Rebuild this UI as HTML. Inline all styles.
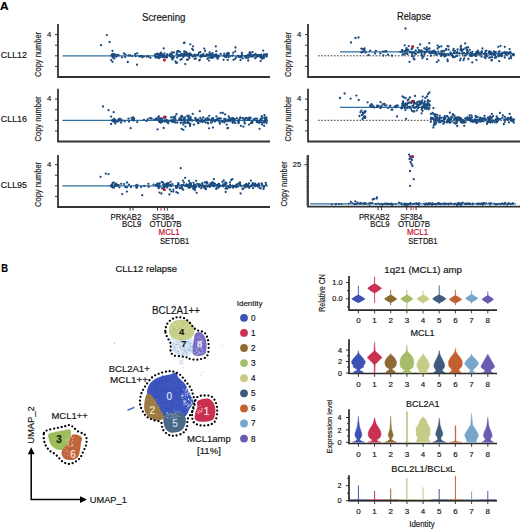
<!DOCTYPE html>
<html><head><meta charset="utf-8"><style>
html,body{margin:0;padding:0;background:#fff;overflow:hidden;}
svg{display:block;font-family:"Liberation Sans", sans-serif;}
</style></head><body>
<svg width="520" height="530" viewBox="0 0 520 530">
<rect width="520" height="530" fill="#fff"/>
<text x="0.00" y="9.60" font-size="11.2" fill="#000" text-anchor="start" stroke="#000" stroke-width="0.18" font-weight="bold" textLength="8.6" lengthAdjust="spacingAndGlyphs" >A</text>
<text x="142.00" y="20.80" font-size="10.2" fill="#141414" text-anchor="start" stroke="#141414" stroke-width="0.18" textLength="43.4" lengthAdjust="spacingAndGlyphs" >Screening</text>
<text x="397.00" y="20.40" font-size="10.2" fill="#141414" text-anchor="start" stroke="#141414" stroke-width="0.18" textLength="34" lengthAdjust="spacingAndGlyphs" >Relapse</text>
<text x="0.80" y="58.20" font-size="9.8" fill="#141414" text-anchor="start" stroke="#141414" stroke-width="0.18" textLength="26.2" lengthAdjust="spacingAndGlyphs" >CLL12</text>
<text x="0.80" y="122.30" font-size="9.8" fill="#141414" text-anchor="start" stroke="#141414" stroke-width="0.18" textLength="26.2" lengthAdjust="spacingAndGlyphs" >CLL16</text>
<text x="0.80" y="188.40" font-size="9.8" fill="#141414" text-anchor="start" stroke="#141414" stroke-width="0.18" textLength="26.2" lengthAdjust="spacingAndGlyphs" >CLL95</text>
<path d="M58 24V77H270" fill="none" stroke="#333333" stroke-width="1.8"/>
<text x="41.20" y="54.40" font-size="8.2" fill="#1a1a1a" text-anchor="middle" stroke="#1a1a1a" stroke-width="0.18" textLength="45" lengthAdjust="spacingAndGlyphs" transform="rotate(-90 41.20 54.40)" >Copy number</text>
<path d="M55 66.4H58" stroke="#333333" stroke-width="1"/>
<path d="M55 55.8H58" stroke="#333333" stroke-width="1"/>
<path d="M55 45.2H58" stroke="#333333" stroke-width="1"/>
<path d="M55 34.6H58" stroke="#333333" stroke-width="1"/>
<text x="51.30" y="36.70" font-size="7.8" fill="#1a1a1a" text-anchor="end" stroke="#1a1a1a" stroke-width="0.18" >4</text>
<path d="M308 24V77H520" fill="none" stroke="#333333" stroke-width="1.8"/>
<text x="291.20" y="54.40" font-size="8.2" fill="#1a1a1a" text-anchor="middle" stroke="#1a1a1a" stroke-width="0.18" textLength="45" lengthAdjust="spacingAndGlyphs" transform="rotate(-90 291.20 54.40)" >Copy number</text>
<path d="M305 66.4H308" stroke="#333333" stroke-width="1"/>
<path d="M305 55.8H308" stroke="#333333" stroke-width="1"/>
<path d="M305 45.2H308" stroke="#333333" stroke-width="1"/>
<path d="M305 34.6H308" stroke="#333333" stroke-width="1"/>
<text x="301.30" y="36.70" font-size="7.8" fill="#1a1a1a" text-anchor="end" stroke="#1a1a1a" stroke-width="0.18" >4</text>
<path d="M58 88.75V141.5H270" fill="none" stroke="#333333" stroke-width="1.8"/>
<text x="41.20" y="118.90" font-size="8.2" fill="#1a1a1a" text-anchor="middle" stroke="#1a1a1a" stroke-width="0.18" textLength="45" lengthAdjust="spacingAndGlyphs" transform="rotate(-90 41.20 118.90)" >Copy number</text>
<path d="M55 130.9H58" stroke="#333333" stroke-width="1"/>
<path d="M55 120.3H58" stroke="#333333" stroke-width="1"/>
<path d="M55 109.7H58" stroke="#333333" stroke-width="1"/>
<path d="M55 99.1H58" stroke="#333333" stroke-width="1"/>
<text x="51.30" y="101.20" font-size="7.8" fill="#1a1a1a" text-anchor="end" stroke="#1a1a1a" stroke-width="0.18" >4</text>
<path d="M308 88.75V141.5H520" fill="none" stroke="#333333" stroke-width="1.8"/>
<text x="291.20" y="118.90" font-size="8.2" fill="#1a1a1a" text-anchor="middle" stroke="#1a1a1a" stroke-width="0.18" textLength="45" lengthAdjust="spacingAndGlyphs" transform="rotate(-90 291.20 118.90)" >Copy number</text>
<path d="M305 130.9H308" stroke="#333333" stroke-width="1"/>
<path d="M305 120.3H308" stroke="#333333" stroke-width="1"/>
<path d="M305 109.7H308" stroke="#333333" stroke-width="1"/>
<path d="M305 99.1H308" stroke="#333333" stroke-width="1"/>
<text x="301.30" y="101.20" font-size="7.8" fill="#1a1a1a" text-anchor="end" stroke="#1a1a1a" stroke-width="0.18" >4</text>
<path d="M58 155V207H270" fill="none" stroke="#333333" stroke-width="1.8"/>
<text x="41.20" y="184.40" font-size="8.2" fill="#1a1a1a" text-anchor="middle" stroke="#1a1a1a" stroke-width="0.18" textLength="45" lengthAdjust="spacingAndGlyphs" transform="rotate(-90 41.20 184.40)" >Copy number</text>
<path d="M55 196.4H58" stroke="#333333" stroke-width="1"/>
<path d="M55 185.8H58" stroke="#333333" stroke-width="1"/>
<path d="M55 175.2H58" stroke="#333333" stroke-width="1"/>
<path d="M55 164.6H58" stroke="#333333" stroke-width="1"/>
<text x="51.30" y="166.70" font-size="7.8" fill="#1a1a1a" text-anchor="end" stroke="#1a1a1a" stroke-width="0.18" >4</text>
<path d="M308 155V206.7H520" fill="none" stroke="#333333" stroke-width="1.8"/>
<text x="287.20" y="184.10" font-size="8.2" fill="#1a1a1a" text-anchor="middle" stroke="#1a1a1a" stroke-width="0.18" textLength="45" lengthAdjust="spacingAndGlyphs" transform="rotate(-90 287.20 184.10)" >Copy number</text>
<path d="M306 205.0H308" stroke="#333333" stroke-width="0.6"/>
<path d="M306 203.3H308" stroke="#333333" stroke-width="0.6"/>
<path d="M306 201.7H308" stroke="#333333" stroke-width="0.6"/>
<path d="M306 200.0H308" stroke="#333333" stroke-width="0.6"/>
<path d="M306 198.3H308" stroke="#333333" stroke-width="0.6"/>
<path d="M306 196.6H308" stroke="#333333" stroke-width="0.6"/>
<path d="M306 194.9H308" stroke="#333333" stroke-width="0.6"/>
<path d="M306 193.3H308" stroke="#333333" stroke-width="0.6"/>
<path d="M306 191.6H308" stroke="#333333" stroke-width="0.6"/>
<path d="M306 189.9H308" stroke="#333333" stroke-width="0.6"/>
<path d="M306 188.2H308" stroke="#333333" stroke-width="0.6"/>
<path d="M306 186.5H308" stroke="#333333" stroke-width="0.6"/>
<path d="M306 184.9H308" stroke="#333333" stroke-width="0.6"/>
<path d="M306 183.2H308" stroke="#333333" stroke-width="0.6"/>
<path d="M306 181.5H308" stroke="#333333" stroke-width="0.6"/>
<path d="M306 179.8H308" stroke="#333333" stroke-width="0.6"/>
<path d="M306 178.1H308" stroke="#333333" stroke-width="0.6"/>
<path d="M306 176.5H308" stroke="#333333" stroke-width="0.6"/>
<path d="M306 174.8H308" stroke="#333333" stroke-width="0.6"/>
<path d="M306 173.1H308" stroke="#333333" stroke-width="0.6"/>
<path d="M306 171.4H308" stroke="#333333" stroke-width="0.6"/>
<path d="M306 169.7H308" stroke="#333333" stroke-width="0.6"/>
<path d="M306 168.1H308" stroke="#333333" stroke-width="0.6"/>
<path d="M306 166.4H308" stroke="#333333" stroke-width="0.6"/>
<path d="M306 164.7H308" stroke="#333333" stroke-width="0.6"/>
<path d="M306 163.0H308" stroke="#333333" stroke-width="0.6"/>
<path d="M306 161.3H308" stroke="#333333" stroke-width="0.6"/>
<path d="M306 159.7H308" stroke="#333333" stroke-width="0.6"/>
<path d="M306 158.0H308" stroke="#333333" stroke-width="0.6"/>
<path d="M306 156.3H308" stroke="#333333" stroke-width="0.6"/>
<path d="M304.5 164.7H308" stroke="#333333" stroke-width="1"/>
<text x="301.00" y="167.30" font-size="7.4" fill="#1a1a1a" text-anchor="end" stroke="#1a1a1a" stroke-width="0.18" >25</text>
<path d="M62.4 55.8H268" stroke="#2f6f9f" stroke-width="1.2"/>
<circle cx="101.1" cy="45.2" r="1.15" fill="#1b4c80"/>
<circle cx="106.8" cy="35.1" r="1.15" fill="#1b4c80"/>
<circle cx="109.6" cy="42.0" r="1.15" fill="#1b4c80"/>
<circle cx="125.6" cy="54.6" r="1.15" fill="#1b4c80"/>
<circle cx="135.1" cy="54.2" r="1.15" fill="#1b4c80"/>
<circle cx="113.6" cy="56.2" r="1.15" fill="#1b4c80"/>
<circle cx="114.1" cy="55.8" r="1.15" fill="#1b4c80"/>
<circle cx="130.1" cy="55.5" r="1.15" fill="#1b4c80"/>
<circle cx="139.2" cy="56.4" r="1.15" fill="#1b4c80"/>
<circle cx="137.0" cy="64.7" r="1.15" fill="#1b4c80"/>
<circle cx="124.0" cy="53.5" r="1.15" fill="#1b4c80"/>
<circle cx="116.3" cy="56.7" r="1.15" fill="#1b4c80"/>
<circle cx="137.2" cy="53.4" r="1.15" fill="#1b4c80"/>
<circle cx="127.8" cy="62.0" r="1.15" fill="#1b4c80"/>
<circle cx="141.6" cy="55.9" r="1.15" fill="#1b4c80"/>
<circle cx="125.1" cy="57.1" r="1.15" fill="#1b4c80"/>
<circle cx="146.7" cy="56.6" r="1.15" fill="#1b4c80"/>
<circle cx="122.0" cy="57.3" r="1.15" fill="#1b4c80"/>
<circle cx="143.8" cy="56.6" r="1.15" fill="#1b4c80"/>
<circle cx="155.1" cy="54.7" r="1.15" fill="#1b4c80"/>
<circle cx="117.8" cy="54.8" r="1.15" fill="#1b4c80"/>
<circle cx="112.8" cy="57.0" r="1.15" fill="#1b4c80"/>
<circle cx="150.4" cy="57.8" r="1.15" fill="#1b4c80"/>
<circle cx="142.3" cy="57.3" r="1.15" fill="#1b4c80"/>
<circle cx="148.8" cy="56.8" r="1.15" fill="#1b4c80"/>
<circle cx="132.3" cy="56.1" r="1.15" fill="#1b4c80"/>
<circle cx="140.1" cy="56.2" r="1.15" fill="#1b4c80"/>
<circle cx="148.0" cy="56.1" r="1.15" fill="#1b4c80"/>
<circle cx="112.0" cy="54.5" r="1.15" fill="#1b4c80"/>
<circle cx="118.6" cy="55.4" r="1.15" fill="#1b4c80"/>
<circle cx="116.8" cy="55.5" r="1.15" fill="#1b4c80"/>
<circle cx="128.6" cy="55.4" r="1.15" fill="#1b4c80"/>
<circle cx="135.7" cy="56.2" r="1.15" fill="#1b4c80"/>
<circle cx="115.0" cy="54.4" r="1.15" fill="#1b4c80"/>
<circle cx="112.8" cy="57.4" r="1.15" fill="#1b4c80"/>
<circle cx="112.5" cy="50.8" r="1.15" fill="#1b4c80"/>
<circle cx="111.3" cy="60.2" r="1.15" fill="#1b4c80"/>
<circle cx="111.5" cy="55.6" r="1.15" fill="#1b4c80"/>
<circle cx="113.2" cy="53.9" r="1.15" fill="#1b4c80"/>
<circle cx="113.7" cy="55.8" r="1.15" fill="#1b4c80"/>
<circle cx="112.8" cy="55.6" r="1.15" fill="#1b4c80"/>
<circle cx="112.5" cy="61.8" r="1.15" fill="#1b4c80"/>
<circle cx="114.3" cy="58.5" r="1.15" fill="#1b4c80"/>
<circle cx="212.7" cy="57.8" r="1.15" fill="#1b4c80"/>
<circle cx="255.7" cy="57.6" r="1.15" fill="#1b4c80"/>
<circle cx="252.9" cy="55.3" r="1.15" fill="#1b4c80"/>
<circle cx="166.6" cy="57.5" r="1.15" fill="#1b4c80"/>
<circle cx="162.0" cy="54.7" r="1.15" fill="#1b4c80"/>
<circle cx="193.1" cy="50.1" r="1.15" fill="#1b4c80"/>
<circle cx="166.4" cy="56.1" r="1.15" fill="#1b4c80"/>
<circle cx="223.8" cy="55.5" r="1.15" fill="#1b4c80"/>
<circle cx="183.3" cy="57.1" r="1.15" fill="#1b4c80"/>
<circle cx="266.2" cy="54.4" r="1.15" fill="#1b4c80"/>
<circle cx="209.2" cy="55.1" r="1.15" fill="#1b4c80"/>
<circle cx="184.7" cy="55.2" r="1.15" fill="#1b4c80"/>
<circle cx="157.6" cy="53.7" r="1.15" fill="#1b4c80"/>
<circle cx="215.8" cy="46.4" r="1.15" fill="#1b4c80"/>
<circle cx="251.7" cy="56.3" r="1.15" fill="#1b4c80"/>
<circle cx="173.7" cy="57.5" r="1.15" fill="#1b4c80"/>
<circle cx="214.7" cy="55.5" r="1.15" fill="#1b4c80"/>
<circle cx="245.9" cy="57.4" r="1.15" fill="#1b4c80"/>
<circle cx="250.5" cy="54.7" r="1.15" fill="#1b4c80"/>
<circle cx="180.4" cy="59.8" r="1.15" fill="#1b4c80"/>
<circle cx="158.2" cy="54.4" r="1.15" fill="#1b4c80"/>
<circle cx="232.6" cy="55.5" r="1.15" fill="#1b4c80"/>
<circle cx="205.1" cy="50.9" r="1.15" fill="#1b4c80"/>
<circle cx="195.8" cy="58.5" r="1.15" fill="#1b4c80"/>
<circle cx="180.4" cy="55.3" r="1.15" fill="#1b4c80"/>
<circle cx="249.1" cy="54.6" r="1.15" fill="#1b4c80"/>
<circle cx="228.1" cy="55.6" r="1.15" fill="#1b4c80"/>
<circle cx="256.9" cy="56.5" r="1.15" fill="#1b4c80"/>
<circle cx="239.0" cy="56.9" r="1.15" fill="#1b4c80"/>
<circle cx="192.2" cy="55.6" r="1.15" fill="#1b4c80"/>
<circle cx="199.3" cy="60.4" r="1.15" fill="#1b4c80"/>
<circle cx="174.0" cy="52.5" r="1.15" fill="#1b4c80"/>
<circle cx="171.9" cy="52.3" r="1.15" fill="#1b4c80"/>
<circle cx="247.6" cy="57.6" r="1.15" fill="#1b4c80"/>
<circle cx="228.6" cy="57.1" r="1.15" fill="#1b4c80"/>
<circle cx="156.6" cy="54.0" r="1.15" fill="#1b4c80"/>
<circle cx="227.8" cy="59.9" r="1.15" fill="#1b4c80"/>
<circle cx="252.6" cy="56.5" r="1.15" fill="#1b4c80"/>
<circle cx="178.6" cy="55.8" r="1.15" fill="#1b4c80"/>
<circle cx="184.0" cy="42.9" r="1.15" fill="#1b4c80"/>
<circle cx="194.6" cy="58.8" r="1.15" fill="#1b4c80"/>
<circle cx="257.8" cy="55.2" r="1.15" fill="#1b4c80"/>
<circle cx="214.6" cy="56.1" r="1.15" fill="#1b4c80"/>
<circle cx="175.5" cy="61.4" r="1.15" fill="#1b4c80"/>
<circle cx="236.2" cy="57.3" r="1.15" fill="#1b4c80"/>
<circle cx="217.2" cy="56.4" r="1.15" fill="#1b4c80"/>
<circle cx="166.9" cy="57.1" r="1.15" fill="#1b4c80"/>
<circle cx="241.5" cy="56.3" r="1.15" fill="#1b4c80"/>
<circle cx="217.9" cy="55.6" r="1.15" fill="#1b4c80"/>
<circle cx="223.6" cy="59.8" r="1.15" fill="#1b4c80"/>
<circle cx="212.4" cy="56.5" r="1.15" fill="#1b4c80"/>
<circle cx="208.5" cy="57.7" r="1.15" fill="#1b4c80"/>
<circle cx="233.3" cy="52.7" r="1.15" fill="#1b4c80"/>
<circle cx="217.7" cy="58.8" r="1.15" fill="#1b4c80"/>
<circle cx="249.1" cy="55.2" r="1.15" fill="#1b4c80"/>
<circle cx="163.1" cy="55.1" r="1.15" fill="#1b4c80"/>
<circle cx="163.2" cy="57.3" r="1.15" fill="#1b4c80"/>
<circle cx="172.3" cy="59.4" r="1.15" fill="#1b4c80"/>
<circle cx="228.9" cy="53.5" r="1.15" fill="#1b4c80"/>
<circle cx="179.6" cy="52.0" r="1.15" fill="#1b4c80"/>
<circle cx="209.6" cy="52.4" r="1.15" fill="#1b4c80"/>
<circle cx="203.3" cy="56.0" r="1.15" fill="#1b4c80"/>
<circle cx="193.0" cy="46.3" r="1.15" fill="#1b4c80"/>
<circle cx="204.3" cy="48.6" r="1.15" fill="#1b4c80"/>
<circle cx="188.1" cy="54.7" r="1.15" fill="#1b4c80"/>
<circle cx="253.2" cy="56.0" r="1.15" fill="#1b4c80"/>
<circle cx="185.5" cy="54.6" r="1.15" fill="#1b4c80"/>
<circle cx="250.2" cy="56.4" r="1.15" fill="#1b4c80"/>
<circle cx="261.0" cy="57.7" r="1.15" fill="#1b4c80"/>
<circle cx="210.4" cy="54.6" r="1.15" fill="#1b4c80"/>
<circle cx="186.3" cy="55.3" r="1.15" fill="#1b4c80"/>
<circle cx="156.9" cy="56.9" r="1.15" fill="#1b4c80"/>
<circle cx="184.2" cy="51.4" r="1.15" fill="#1b4c80"/>
<circle cx="266.4" cy="56.6" r="1.15" fill="#1b4c80"/>
<circle cx="257.5" cy="56.2" r="1.15" fill="#1b4c80"/>
<circle cx="260.1" cy="56.2" r="1.15" fill="#1b4c80"/>
<circle cx="184.3" cy="53.5" r="1.15" fill="#1b4c80"/>
<circle cx="178.1" cy="50.9" r="1.15" fill="#1b4c80"/>
<circle cx="185.3" cy="64.1" r="1.15" fill="#1b4c80"/>
<circle cx="176.2" cy="62.9" r="1.15" fill="#1b4c80"/>
<circle cx="166.9" cy="55.0" r="1.15" fill="#1b4c80"/>
<circle cx="248.5" cy="57.5" r="1.15" fill="#1b4c80"/>
<circle cx="211.7" cy="57.8" r="1.15" fill="#1b4c80"/>
<circle cx="248.2" cy="60.5" r="1.15" fill="#1b4c80"/>
<circle cx="226.2" cy="57.2" r="1.15" fill="#1b4c80"/>
<circle cx="169.5" cy="54.9" r="1.15" fill="#1b4c80"/>
<circle cx="238.0" cy="55.8" r="1.15" fill="#1b4c80"/>
<circle cx="249.2" cy="54.7" r="1.15" fill="#1b4c80"/>
<circle cx="230.1" cy="56.1" r="1.15" fill="#1b4c80"/>
<circle cx="206.5" cy="54.5" r="1.15" fill="#1b4c80"/>
<circle cx="204.9" cy="56.2" r="1.15" fill="#1b4c80"/>
<circle cx="216.3" cy="51.2" r="1.15" fill="#1b4c80"/>
<circle cx="263.2" cy="50.6" r="1.15" fill="#1b4c80"/>
<circle cx="186.2" cy="53.8" r="1.15" fill="#1b4c80"/>
<circle cx="241.9" cy="53.0" r="1.15" fill="#1b4c80"/>
<circle cx="220.7" cy="54.0" r="1.15" fill="#1b4c80"/>
<circle cx="188.6" cy="56.5" r="1.15" fill="#1b4c80"/>
<circle cx="172.4" cy="56.5" r="1.15" fill="#1b4c80"/>
<circle cx="242.8" cy="58.3" r="1.15" fill="#1b4c80"/>
<circle cx="210.3" cy="57.5" r="1.15" fill="#1b4c80"/>
<circle cx="224.3" cy="53.7" r="1.15" fill="#1b4c80"/>
<circle cx="212.5" cy="53.1" r="1.15" fill="#1b4c80"/>
<circle cx="233.5" cy="59.8" r="1.15" fill="#1b4c80"/>
<circle cx="218.7" cy="55.9" r="1.15" fill="#1b4c80"/>
<circle cx="156.8" cy="57.1" r="1.15" fill="#1b4c80"/>
<circle cx="262.1" cy="58.8" r="1.15" fill="#1b4c80"/>
<circle cx="164.5" cy="53.3" r="1.15" fill="#1b4c80"/>
<circle cx="197.2" cy="54.9" r="1.15" fill="#1b4c80"/>
<circle cx="160.7" cy="53.6" r="1.15" fill="#1b4c80"/>
<circle cx="184.5" cy="42.7" r="1.15" fill="#1b4c80"/>
<circle cx="255.6" cy="54.0" r="1.15" fill="#1b4c80"/>
<circle cx="208.1" cy="54.6" r="1.15" fill="#1b4c80"/>
<circle cx="249.8" cy="55.5" r="1.15" fill="#1b4c80"/>
<circle cx="227.8" cy="52.8" r="1.15" fill="#1b4c80"/>
<circle cx="249.7" cy="52.3" r="1.15" fill="#1b4c80"/>
<circle cx="160.2" cy="54.0" r="1.15" fill="#1b4c80"/>
<circle cx="177.2" cy="57.5" r="1.15" fill="#1b4c80"/>
<circle cx="224.6" cy="56.7" r="1.15" fill="#1b4c80"/>
<circle cx="209.0" cy="60.6" r="1.15" fill="#1b4c80"/>
<circle cx="179.4" cy="55.2" r="1.15" fill="#1b4c80"/>
<circle cx="187.0" cy="59.7" r="1.15" fill="#1b4c80"/>
<circle cx="189.9" cy="55.0" r="1.15" fill="#1b4c80"/>
<circle cx="187.4" cy="53.3" r="1.15" fill="#1b4c80"/>
<circle cx="198.3" cy="54.5" r="1.15" fill="#1b4c80"/>
<circle cx="259.2" cy="55.1" r="1.15" fill="#1b4c80"/>
<circle cx="184.3" cy="55.3" r="1.15" fill="#1b4c80"/>
<circle cx="225.7" cy="56.0" r="1.15" fill="#1b4c80"/>
<circle cx="210.8" cy="54.9" r="1.15" fill="#1b4c80"/>
<circle cx="199.1" cy="52.7" r="1.15" fill="#1b4c80"/>
<circle cx="200.4" cy="52.1" r="1.15" fill="#1b4c80"/>
<circle cx="201.6" cy="56.5" r="1.15" fill="#1b4c80"/>
<circle cx="191.3" cy="55.0" r="1.15" fill="#1b4c80"/>
<circle cx="260.3" cy="55.7" r="1.15" fill="#1b4c80"/>
<circle cx="183.4" cy="55.5" r="1.15" fill="#1b4c80"/>
<circle cx="252.4" cy="52.2" r="1.15" fill="#1b4c80"/>
<circle cx="250.7" cy="53.9" r="1.15" fill="#1b4c80"/>
<circle cx="160.8" cy="57.1" r="1.15" fill="#1b4c80"/>
<circle cx="263.8" cy="58.0" r="1.15" fill="#1b4c80"/>
<circle cx="190.3" cy="44.3" r="1.15" fill="#1b4c80"/>
<circle cx="199.8" cy="59.8" r="1.15" fill="#1b4c80"/>
<circle cx="217.1" cy="55.6" r="1.15" fill="#1b4c80"/>
<circle cx="201.0" cy="55.1" r="1.15" fill="#1b4c80"/>
<circle cx="170.5" cy="54.0" r="1.15" fill="#1b4c80"/>
<circle cx="216.6" cy="57.3" r="1.15" fill="#1b4c80"/>
<circle cx="201.5" cy="56.1" r="1.15" fill="#1b4c80"/>
<circle cx="228.1" cy="54.4" r="1.15" fill="#1b4c80"/>
<circle cx="181.7" cy="59.2" r="1.15" fill="#1b4c80"/>
<circle cx="163.4" cy="55.5" r="1.15" fill="#1b4c80"/>
<circle cx="245.9" cy="57.7" r="1.15" fill="#1b4c80"/>
<circle cx="240.0" cy="56.4" r="1.15" fill="#1b4c80"/>
<circle cx="216.4" cy="55.8" r="1.15" fill="#1b4c80"/>
<circle cx="190.8" cy="54.4" r="1.15" fill="#1b4c80"/>
<circle cx="177.6" cy="51.1" r="1.15" fill="#1b4c80"/>
<circle cx="178.5" cy="55.2" r="1.15" fill="#1b4c80"/>
<circle cx="210.8" cy="57.3" r="1.15" fill="#1b4c80"/>
<circle cx="214.3" cy="56.6" r="1.15" fill="#1b4c80"/>
<circle cx="250.0" cy="52.6" r="1.15" fill="#1b4c80"/>
<circle cx="227.3" cy="53.7" r="1.15" fill="#1b4c80"/>
<circle cx="189.9" cy="53.4" r="1.15" fill="#1b4c80"/>
<circle cx="240.5" cy="60.1" r="1.15" fill="#1b4c80"/>
<circle cx="263.4" cy="56.5" r="1.15" fill="#1b4c80"/>
<circle cx="259.0" cy="55.8" r="1.15" fill="#1b4c80"/>
<circle cx="207.4" cy="58.8" r="1.15" fill="#1b4c80"/>
<circle cx="172.0" cy="54.5" r="1.15" fill="#1b4c80"/>
<circle cx="167.2" cy="54.5" r="1.15" fill="#1b4c80"/>
<circle cx="255.2" cy="58.3" r="1.15" fill="#1b4c80"/>
<circle cx="242.0" cy="54.9" r="1.15" fill="#1b4c80"/>
<circle cx="159.2" cy="55.8" r="1.15" fill="#1b4c80"/>
<circle cx="262.8" cy="57.3" r="1.15" fill="#1b4c80"/>
<circle cx="240.6" cy="57.4" r="1.15" fill="#1b4c80"/>
<circle cx="188.6" cy="54.4" r="1.15" fill="#1b4c80"/>
<circle cx="155.1" cy="56.2" r="1.15" fill="#1b4c80"/>
<circle cx="266.6" cy="56.1" r="1.15" fill="#1b4c80"/>
<circle cx="182.1" cy="53.8" r="1.15" fill="#1b4c80"/>
<circle cx="158.3" cy="58.0" r="1.15" fill="#1b4c80"/>
<circle cx="176.7" cy="54.0" r="1.15" fill="#1b4c80"/>
<circle cx="164.1" cy="55.5" r="1.15" fill="#1b4c80"/>
<circle cx="210.2" cy="53.9" r="1.15" fill="#1b4c80"/>
<circle cx="235.5" cy="47.5" r="1.15" fill="#1b4c80"/>
<circle cx="211.5" cy="54.4" r="1.15" fill="#1b4c80"/>
<circle cx="263.6" cy="57.1" r="1.15" fill="#1b4c80"/>
<circle cx="179.8" cy="51.8" r="1.15" fill="#1b4c80"/>
<circle cx="261.6" cy="57.0" r="1.15" fill="#1b4c80"/>
<circle cx="201.7" cy="55.8" r="1.15" fill="#1b4c80"/>
<circle cx="261.3" cy="54.7" r="1.15" fill="#1b4c80"/>
<circle cx="264.1" cy="54.4" r="1.15" fill="#1b4c80"/>
<circle cx="160.8" cy="54.1" r="1.15" fill="#1b4c80"/>
<circle cx="254.0" cy="55.1" r="1.15" fill="#1b4c80"/>
<circle cx="266.7" cy="54.3" r="1.15" fill="#1b4c80"/>
<circle cx="259.8" cy="56.5" r="1.15" fill="#1b4c80"/>
<circle cx="158.6" cy="56.7" r="1.15" fill="#1b4c80"/>
<circle cx="192.2" cy="48.9" r="1.15" fill="#1b4c80"/>
<circle cx="194.4" cy="54.6" r="1.15" fill="#1b4c80"/>
<circle cx="194.9" cy="56.1" r="1.15" fill="#1b4c80"/>
<circle cx="203.4" cy="53.9" r="1.15" fill="#1b4c80"/>
<circle cx="258.0" cy="55.2" r="1.15" fill="#1b4c80"/>
<circle cx="195.8" cy="55.3" r="1.15" fill="#1b4c80"/>
<circle cx="245.9" cy="56.1" r="1.15" fill="#1b4c80"/>
<circle cx="159.6" cy="55.2" r="1.15" fill="#1b4c80"/>
<circle cx="183.8" cy="55.6" r="1.15" fill="#1b4c80"/>
<circle cx="193.0" cy="56.6" r="1.15" fill="#1b4c80"/>
<circle cx="235.3" cy="51.3" r="1.15" fill="#1b4c80"/>
<circle cx="185.9" cy="51.9" r="1.15" fill="#1b4c80"/>
<circle cx="260.6" cy="61.1" r="1.15" fill="#1b4c80"/>
<circle cx="235.1" cy="58.8" r="1.15" fill="#1b4c80"/>
<circle cx="257.3" cy="55.1" r="1.15" fill="#1b4c80"/>
<circle cx="169.9" cy="56.0" r="1.15" fill="#1b4c80"/>
<circle cx="189.0" cy="55.8" r="1.15" fill="#1b4c80"/>
<circle cx="181.4" cy="54.1" r="1.15" fill="#1b4c80"/>
<circle cx="212.3" cy="57.3" r="1.15" fill="#1b4c80"/>
<circle cx="172.9" cy="58.6" r="1.15" fill="#1b4c80"/>
<circle cx="216.0" cy="54.4" r="1.15" fill="#1b4c80"/>
<circle cx="202.8" cy="55.2" r="1.15" fill="#1b4c80"/>
<circle cx="178.3" cy="55.2" r="1.15" fill="#1b4c80"/>
<circle cx="263.9" cy="55.4" r="1.15" fill="#1b4c80"/>
<circle cx="254.8" cy="54.9" r="1.15" fill="#1b4c80"/>
<circle cx="215.3" cy="55.3" r="1.15" fill="#1b4c80"/>
<circle cx="187.9" cy="59.7" r="1.15" fill="#1b4c80"/>
<circle cx="183.5" cy="56.0" r="1.15" fill="#1b4c80"/>
<circle cx="186.5" cy="53.3" r="1.15" fill="#1b4c80"/>
<circle cx="162.3" cy="55.8" r="1.15" fill="#1b4c80"/>
<circle cx="227.8" cy="54.4" r="1.15" fill="#1b4c80"/>
<circle cx="207.0" cy="55.6" r="1.15" fill="#1b4c80"/>
<circle cx="180.9" cy="55.7" r="1.15" fill="#1b4c80"/>
<circle cx="253.2" cy="55.7" r="1.15" fill="#1b4c80"/>
<circle cx="247.7" cy="55.2" r="1.15" fill="#1b4c80"/>
<circle cx="163.4" cy="56.9" r="1.15" fill="#1b4c80"/>
<circle cx="241.8" cy="55.9" r="1.15" fill="#1b4c80"/>
<circle cx="155.7" cy="57.6" r="1.15" fill="#1b4c80"/>
<circle cx="159.2" cy="58.0" r="1.15" fill="#1b4c80"/>
<circle cx="159.9" cy="55.3" r="1.15" fill="#1b4c80"/>
<circle cx="257.4" cy="55.8" r="1.15" fill="#1b4c80"/>
<circle cx="246.7" cy="57.3" r="1.15" fill="#1b4c80"/>
<circle cx="163.7" cy="48.4" r="1.15" fill="#1b4c80"/>
<circle cx="162.1" cy="54.3" r="1.15" fill="#1b4c80"/>
<circle cx="226.6" cy="54.7" r="1.15" fill="#1b4c80"/>
<circle cx="173.3" cy="56.6" r="1.15" fill="#1b4c80"/>
<circle cx="189.5" cy="58.1" r="1.15" fill="#1b4c80"/>
<circle cx="218.5" cy="57.0" r="1.15" fill="#1b4c80"/>
<circle cx="266.6" cy="54.3" r="1.15" fill="#1b4c80"/>
<circle cx="177.1" cy="62.6" r="1.15" fill="#1b4c80"/>
<circle cx="200.5" cy="57.0" r="1.15" fill="#1b4c80"/>
<circle cx="206.6" cy="55.6" r="1.15" fill="#1b4c80"/>
<circle cx="226.8" cy="55.5" r="1.15" fill="#1b4c80"/>
<circle cx="165.0" cy="57.0" r="1.15" fill="#1b4c80"/>
<circle cx="171.3" cy="57.4" r="1.15" fill="#1b4c80"/>
<circle cx="213.4" cy="55.0" r="1.15" fill="#1b4c80"/>
<circle cx="245.1" cy="56.2" r="1.15" fill="#1b4c80"/>
<circle cx="177.1" cy="51.9" r="1.15" fill="#1b4c80"/>
<circle cx="161.0" cy="52.7" r="1.15" fill="#1b4c80"/>
<circle cx="164.4" cy="60.0" r="1.5" fill="#c8102e"/>
<path d="M62.4 120.3H268" stroke="#2f6f9f" stroke-width="1.2"/>
<circle cx="103.0" cy="106.5" r="1.15" fill="#1b4c80"/>
<circle cx="108.5" cy="110.2" r="1.15" fill="#1b4c80"/>
<circle cx="128.5" cy="118.7" r="1.15" fill="#1b4c80"/>
<circle cx="118.2" cy="121.4" r="1.15" fill="#1b4c80"/>
<circle cx="121.0" cy="122.5" r="1.15" fill="#1b4c80"/>
<circle cx="119.2" cy="118.8" r="1.15" fill="#1b4c80"/>
<circle cx="129.0" cy="121.6" r="1.15" fill="#1b4c80"/>
<circle cx="122.1" cy="120.5" r="1.15" fill="#1b4c80"/>
<circle cx="151.4" cy="118.6" r="1.15" fill="#1b4c80"/>
<circle cx="112.7" cy="119.8" r="1.15" fill="#1b4c80"/>
<circle cx="116.3" cy="121.7" r="1.15" fill="#1b4c80"/>
<circle cx="124.8" cy="121.3" r="1.15" fill="#1b4c80"/>
<circle cx="137.2" cy="122.1" r="1.15" fill="#1b4c80"/>
<circle cx="130.7" cy="128.2" r="1.15" fill="#1b4c80"/>
<circle cx="133.0" cy="120.1" r="1.15" fill="#1b4c80"/>
<circle cx="131.6" cy="118.0" r="1.15" fill="#1b4c80"/>
<circle cx="132.3" cy="119.7" r="1.15" fill="#1b4c80"/>
<circle cx="115.1" cy="119.8" r="1.15" fill="#1b4c80"/>
<circle cx="134.0" cy="118.4" r="1.15" fill="#1b4c80"/>
<circle cx="144.0" cy="119.8" r="1.15" fill="#1b4c80"/>
<circle cx="134.0" cy="118.8" r="1.15" fill="#1b4c80"/>
<circle cx="153.8" cy="119.8" r="1.15" fill="#1b4c80"/>
<circle cx="149.6" cy="118.1" r="1.15" fill="#1b4c80"/>
<circle cx="119.7" cy="120.4" r="1.15" fill="#1b4c80"/>
<circle cx="133.1" cy="117.3" r="1.15" fill="#1b4c80"/>
<circle cx="146.5" cy="121.1" r="1.15" fill="#1b4c80"/>
<circle cx="113.9" cy="121.7" r="1.15" fill="#1b4c80"/>
<circle cx="151.3" cy="118.4" r="1.15" fill="#1b4c80"/>
<circle cx="147.7" cy="119.3" r="1.15" fill="#1b4c80"/>
<circle cx="120.4" cy="119.0" r="1.15" fill="#1b4c80"/>
<circle cx="133.8" cy="120.5" r="1.15" fill="#1b4c80"/>
<circle cx="118.3" cy="120.0" r="1.15" fill="#1b4c80"/>
<circle cx="114.2" cy="119.0" r="1.15" fill="#1b4c80"/>
<circle cx="114.8" cy="121.3" r="1.15" fill="#1b4c80"/>
<circle cx="111.1" cy="124.0" r="1.15" fill="#1b4c80"/>
<circle cx="112.5" cy="121.0" r="1.15" fill="#1b4c80"/>
<circle cx="115.3" cy="123.6" r="1.15" fill="#1b4c80"/>
<circle cx="115.4" cy="121.5" r="1.15" fill="#1b4c80"/>
<circle cx="111.1" cy="116.6" r="1.15" fill="#1b4c80"/>
<circle cx="112.7" cy="120.5" r="1.15" fill="#1b4c80"/>
<circle cx="114.9" cy="121.0" r="1.15" fill="#1b4c80"/>
<circle cx="113.7" cy="112.2" r="1.15" fill="#1b4c80"/>
<circle cx="195.3" cy="120.1" r="1.15" fill="#1b4c80"/>
<circle cx="160.4" cy="122.2" r="1.15" fill="#1b4c80"/>
<circle cx="183.4" cy="124.6" r="1.15" fill="#1b4c80"/>
<circle cx="190.0" cy="126.1" r="1.15" fill="#1b4c80"/>
<circle cx="225.1" cy="114.4" r="1.15" fill="#1b4c80"/>
<circle cx="228.1" cy="127.8" r="1.15" fill="#1b4c80"/>
<circle cx="189.0" cy="123.2" r="1.15" fill="#1b4c80"/>
<circle cx="170.0" cy="120.6" r="1.15" fill="#1b4c80"/>
<circle cx="247.8" cy="120.1" r="1.15" fill="#1b4c80"/>
<circle cx="234.2" cy="120.0" r="1.15" fill="#1b4c80"/>
<circle cx="162.1" cy="118.7" r="1.15" fill="#1b4c80"/>
<circle cx="245.9" cy="118.2" r="1.15" fill="#1b4c80"/>
<circle cx="161.3" cy="118.7" r="1.15" fill="#1b4c80"/>
<circle cx="219.8" cy="123.7" r="1.15" fill="#1b4c80"/>
<circle cx="213.0" cy="127.6" r="1.15" fill="#1b4c80"/>
<circle cx="200.5" cy="120.3" r="1.15" fill="#1b4c80"/>
<circle cx="161.5" cy="120.2" r="1.15" fill="#1b4c80"/>
<circle cx="260.4" cy="120.6" r="1.15" fill="#1b4c80"/>
<circle cx="177.3" cy="122.5" r="1.15" fill="#1b4c80"/>
<circle cx="174.6" cy="122.0" r="1.15" fill="#1b4c80"/>
<circle cx="188.6" cy="115.6" r="1.15" fill="#1b4c80"/>
<circle cx="155.7" cy="119.2" r="1.15" fill="#1b4c80"/>
<circle cx="238.5" cy="123.2" r="1.15" fill="#1b4c80"/>
<circle cx="180.3" cy="119.5" r="1.15" fill="#1b4c80"/>
<circle cx="159.3" cy="121.8" r="1.15" fill="#1b4c80"/>
<circle cx="249.7" cy="117.7" r="1.15" fill="#1b4c80"/>
<circle cx="184.8" cy="122.7" r="1.15" fill="#1b4c80"/>
<circle cx="184.7" cy="121.1" r="1.15" fill="#1b4c80"/>
<circle cx="179.3" cy="120.0" r="1.15" fill="#1b4c80"/>
<circle cx="238.3" cy="120.5" r="1.15" fill="#1b4c80"/>
<circle cx="238.6" cy="122.0" r="1.15" fill="#1b4c80"/>
<circle cx="181.8" cy="116.0" r="1.15" fill="#1b4c80"/>
<circle cx="232.6" cy="122.8" r="1.15" fill="#1b4c80"/>
<circle cx="249.0" cy="124.6" r="1.15" fill="#1b4c80"/>
<circle cx="251.0" cy="123.0" r="1.15" fill="#1b4c80"/>
<circle cx="189.5" cy="118.9" r="1.15" fill="#1b4c80"/>
<circle cx="163.7" cy="128.0" r="1.15" fill="#1b4c80"/>
<circle cx="173.1" cy="121.0" r="1.15" fill="#1b4c80"/>
<circle cx="233.5" cy="119.3" r="1.15" fill="#1b4c80"/>
<circle cx="159.8" cy="120.1" r="1.15" fill="#1b4c80"/>
<circle cx="160.2" cy="118.4" r="1.15" fill="#1b4c80"/>
<circle cx="261.9" cy="122.7" r="1.15" fill="#1b4c80"/>
<circle cx="229.4" cy="118.1" r="1.15" fill="#1b4c80"/>
<circle cx="198.0" cy="123.0" r="1.15" fill="#1b4c80"/>
<circle cx="158.8" cy="116.5" r="1.15" fill="#1b4c80"/>
<circle cx="164.8" cy="121.5" r="1.15" fill="#1b4c80"/>
<circle cx="225.8" cy="121.3" r="1.15" fill="#1b4c80"/>
<circle cx="227.4" cy="120.2" r="1.15" fill="#1b4c80"/>
<circle cx="192.7" cy="113.9" r="1.15" fill="#1b4c80"/>
<circle cx="257.0" cy="118.6" r="1.15" fill="#1b4c80"/>
<circle cx="222.4" cy="121.8" r="1.15" fill="#1b4c80"/>
<circle cx="243.4" cy="126.7" r="1.15" fill="#1b4c80"/>
<circle cx="233.9" cy="121.5" r="1.15" fill="#1b4c80"/>
<circle cx="165.2" cy="120.6" r="1.15" fill="#1b4c80"/>
<circle cx="174.1" cy="118.7" r="1.15" fill="#1b4c80"/>
<circle cx="264.5" cy="115.1" r="1.15" fill="#1b4c80"/>
<circle cx="232.9" cy="118.2" r="1.15" fill="#1b4c80"/>
<circle cx="262.2" cy="124.5" r="1.15" fill="#1b4c80"/>
<circle cx="219.7" cy="118.5" r="1.15" fill="#1b4c80"/>
<circle cx="180.9" cy="116.7" r="1.15" fill="#1b4c80"/>
<circle cx="240.9" cy="125.8" r="1.15" fill="#1b4c80"/>
<circle cx="166.7" cy="120.0" r="1.15" fill="#1b4c80"/>
<circle cx="165.7" cy="116.9" r="1.15" fill="#1b4c80"/>
<circle cx="202.3" cy="122.0" r="1.15" fill="#1b4c80"/>
<circle cx="196.7" cy="121.1" r="1.15" fill="#1b4c80"/>
<circle cx="265.0" cy="118.5" r="1.15" fill="#1b4c80"/>
<circle cx="260.7" cy="118.6" r="1.15" fill="#1b4c80"/>
<circle cx="222.8" cy="113.0" r="1.15" fill="#1b4c80"/>
<circle cx="252.2" cy="122.5" r="1.15" fill="#1b4c80"/>
<circle cx="206.9" cy="119.6" r="1.15" fill="#1b4c80"/>
<circle cx="183.8" cy="120.0" r="1.15" fill="#1b4c80"/>
<circle cx="211.9" cy="118.7" r="1.15" fill="#1b4c80"/>
<circle cx="239.5" cy="119.1" r="1.15" fill="#1b4c80"/>
<circle cx="264.2" cy="122.5" r="1.15" fill="#1b4c80"/>
<circle cx="222.5" cy="121.1" r="1.15" fill="#1b4c80"/>
<circle cx="184.0" cy="118.9" r="1.15" fill="#1b4c80"/>
<circle cx="173.4" cy="121.1" r="1.15" fill="#1b4c80"/>
<circle cx="171.6" cy="121.6" r="1.15" fill="#1b4c80"/>
<circle cx="188.3" cy="120.5" r="1.15" fill="#1b4c80"/>
<circle cx="254.1" cy="119.4" r="1.15" fill="#1b4c80"/>
<circle cx="156.4" cy="119.1" r="1.15" fill="#1b4c80"/>
<circle cx="264.9" cy="121.8" r="1.15" fill="#1b4c80"/>
<circle cx="157.5" cy="129.4" r="1.15" fill="#1b4c80"/>
<circle cx="203.2" cy="117.4" r="1.15" fill="#1b4c80"/>
<circle cx="238.9" cy="121.4" r="1.15" fill="#1b4c80"/>
<circle cx="253.6" cy="119.7" r="1.15" fill="#1b4c80"/>
<circle cx="233.4" cy="118.7" r="1.15" fill="#1b4c80"/>
<circle cx="205.8" cy="122.5" r="1.15" fill="#1b4c80"/>
<circle cx="225.4" cy="118.8" r="1.15" fill="#1b4c80"/>
<circle cx="234.9" cy="119.2" r="1.15" fill="#1b4c80"/>
<circle cx="183.0" cy="122.6" r="1.15" fill="#1b4c80"/>
<circle cx="230.6" cy="119.4" r="1.15" fill="#1b4c80"/>
<circle cx="175.5" cy="122.6" r="1.15" fill="#1b4c80"/>
<circle cx="264.2" cy="125.8" r="1.15" fill="#1b4c80"/>
<circle cx="242.6" cy="118.3" r="1.15" fill="#1b4c80"/>
<circle cx="219.4" cy="121.1" r="1.15" fill="#1b4c80"/>
<circle cx="235.3" cy="122.9" r="1.15" fill="#1b4c80"/>
<circle cx="213.4" cy="120.5" r="1.15" fill="#1b4c80"/>
<circle cx="261.2" cy="119.6" r="1.15" fill="#1b4c80"/>
<circle cx="240.4" cy="117.6" r="1.15" fill="#1b4c80"/>
<circle cx="265.3" cy="120.7" r="1.15" fill="#1b4c80"/>
<circle cx="199.8" cy="111.2" r="1.15" fill="#1b4c80"/>
<circle cx="230.6" cy="121.1" r="1.15" fill="#1b4c80"/>
<circle cx="199.9" cy="120.8" r="1.15" fill="#1b4c80"/>
<circle cx="266.4" cy="118.4" r="1.15" fill="#1b4c80"/>
<circle cx="259.1" cy="120.8" r="1.15" fill="#1b4c80"/>
<circle cx="244.4" cy="119.4" r="1.15" fill="#1b4c80"/>
<circle cx="246.2" cy="117.9" r="1.15" fill="#1b4c80"/>
<circle cx="229.6" cy="118.7" r="1.15" fill="#1b4c80"/>
<circle cx="266.6" cy="123.1" r="1.15" fill="#1b4c80"/>
<circle cx="227.8" cy="119.9" r="1.15" fill="#1b4c80"/>
<circle cx="180.8" cy="122.9" r="1.15" fill="#1b4c80"/>
<circle cx="265.1" cy="121.2" r="1.15" fill="#1b4c80"/>
<circle cx="244.5" cy="122.2" r="1.15" fill="#1b4c80"/>
<circle cx="228.3" cy="121.2" r="1.15" fill="#1b4c80"/>
<circle cx="164.6" cy="118.4" r="1.15" fill="#1b4c80"/>
<circle cx="172.1" cy="121.1" r="1.15" fill="#1b4c80"/>
<circle cx="218.2" cy="118.6" r="1.15" fill="#1b4c80"/>
<circle cx="260.6" cy="121.9" r="1.15" fill="#1b4c80"/>
<circle cx="228.6" cy="120.6" r="1.15" fill="#1b4c80"/>
<circle cx="163.1" cy="121.0" r="1.15" fill="#1b4c80"/>
<circle cx="250.7" cy="117.9" r="1.15" fill="#1b4c80"/>
<circle cx="205.6" cy="120.0" r="1.15" fill="#1b4c80"/>
<circle cx="214.9" cy="121.5" r="1.15" fill="#1b4c80"/>
<circle cx="232.1" cy="119.5" r="1.15" fill="#1b4c80"/>
<circle cx="216.4" cy="120.4" r="1.15" fill="#1b4c80"/>
<circle cx="188.3" cy="121.9" r="1.15" fill="#1b4c80"/>
<circle cx="230.2" cy="120.3" r="1.15" fill="#1b4c80"/>
<circle cx="168.3" cy="123.2" r="1.15" fill="#1b4c80"/>
<circle cx="217.4" cy="118.7" r="1.15" fill="#1b4c80"/>
<circle cx="256.4" cy="120.7" r="1.15" fill="#1b4c80"/>
<circle cx="222.2" cy="121.6" r="1.15" fill="#1b4c80"/>
<circle cx="173.0" cy="121.8" r="1.15" fill="#1b4c80"/>
<circle cx="188.2" cy="117.1" r="1.15" fill="#1b4c80"/>
<circle cx="267.0" cy="120.8" r="1.15" fill="#1b4c80"/>
<circle cx="227.4" cy="128.3" r="1.15" fill="#1b4c80"/>
<circle cx="259.3" cy="122.8" r="1.15" fill="#1b4c80"/>
<circle cx="209.3" cy="115.8" r="1.15" fill="#1b4c80"/>
<circle cx="158.8" cy="120.8" r="1.15" fill="#1b4c80"/>
<circle cx="251.5" cy="122.8" r="1.15" fill="#1b4c80"/>
<circle cx="208.1" cy="123.4" r="1.15" fill="#1b4c80"/>
<circle cx="203.7" cy="120.8" r="1.15" fill="#1b4c80"/>
<circle cx="217.1" cy="119.6" r="1.15" fill="#1b4c80"/>
<circle cx="200.2" cy="121.6" r="1.15" fill="#1b4c80"/>
<circle cx="185.4" cy="126.6" r="1.15" fill="#1b4c80"/>
<circle cx="192.1" cy="120.6" r="1.15" fill="#1b4c80"/>
<circle cx="220.7" cy="112.9" r="1.15" fill="#1b4c80"/>
<circle cx="160.6" cy="122.7" r="1.15" fill="#1b4c80"/>
<circle cx="155.7" cy="118.8" r="1.15" fill="#1b4c80"/>
<circle cx="228.7" cy="116.5" r="1.15" fill="#1b4c80"/>
<circle cx="256.9" cy="122.2" r="1.15" fill="#1b4c80"/>
<circle cx="233.0" cy="121.9" r="1.15" fill="#1b4c80"/>
<circle cx="231.3" cy="119.7" r="1.15" fill="#1b4c80"/>
<circle cx="240.4" cy="117.7" r="1.15" fill="#1b4c80"/>
<circle cx="175.3" cy="116.4" r="1.15" fill="#1b4c80"/>
<circle cx="196.3" cy="119.4" r="1.15" fill="#1b4c80"/>
<circle cx="218.0" cy="120.4" r="1.15" fill="#1b4c80"/>
<circle cx="190.7" cy="118.3" r="1.15" fill="#1b4c80"/>
<circle cx="259.6" cy="128.8" r="1.15" fill="#1b4c80"/>
<circle cx="202.2" cy="119.5" r="1.15" fill="#1b4c80"/>
<circle cx="200.3" cy="117.8" r="1.15" fill="#1b4c80"/>
<circle cx="266.2" cy="119.2" r="1.15" fill="#1b4c80"/>
<circle cx="172.4" cy="119.9" r="1.15" fill="#1b4c80"/>
<circle cx="207.9" cy="122.6" r="1.15" fill="#1b4c80"/>
<circle cx="225.2" cy="120.5" r="1.15" fill="#1b4c80"/>
<circle cx="265.5" cy="120.2" r="1.15" fill="#1b4c80"/>
<circle cx="179.4" cy="118.4" r="1.15" fill="#1b4c80"/>
<circle cx="205.5" cy="118.9" r="1.15" fill="#1b4c80"/>
<circle cx="258.4" cy="122.3" r="1.15" fill="#1b4c80"/>
<circle cx="171.2" cy="117.4" r="1.15" fill="#1b4c80"/>
<circle cx="187.8" cy="122.9" r="1.15" fill="#1b4c80"/>
<circle cx="257.3" cy="121.0" r="1.15" fill="#1b4c80"/>
<circle cx="158.6" cy="116.8" r="1.15" fill="#1b4c80"/>
<circle cx="224.2" cy="118.9" r="1.15" fill="#1b4c80"/>
<circle cx="190.0" cy="125.0" r="1.15" fill="#1b4c80"/>
<circle cx="190.4" cy="123.8" r="1.15" fill="#1b4c80"/>
<circle cx="207.6" cy="117.9" r="1.15" fill="#1b4c80"/>
<circle cx="261.8" cy="116.2" r="1.15" fill="#1b4c80"/>
<circle cx="244.8" cy="123.4" r="1.15" fill="#1b4c80"/>
<circle cx="185.5" cy="119.7" r="1.15" fill="#1b4c80"/>
<circle cx="186.3" cy="122.7" r="1.15" fill="#1b4c80"/>
<circle cx="252.4" cy="122.1" r="1.15" fill="#1b4c80"/>
<circle cx="156.7" cy="118.3" r="1.15" fill="#1b4c80"/>
<circle cx="264.4" cy="117.5" r="1.15" fill="#1b4c80"/>
<circle cx="198.4" cy="123.2" r="1.15" fill="#1b4c80"/>
<circle cx="232.1" cy="118.1" r="1.15" fill="#1b4c80"/>
<circle cx="185.0" cy="117.4" r="1.15" fill="#1b4c80"/>
<circle cx="187.3" cy="115.9" r="1.15" fill="#1b4c80"/>
<circle cx="266.2" cy="117.3" r="1.15" fill="#1b4c80"/>
<circle cx="216.4" cy="116.4" r="1.15" fill="#1b4c80"/>
<circle cx="211.0" cy="122.5" r="1.15" fill="#1b4c80"/>
<circle cx="197.8" cy="120.9" r="1.15" fill="#1b4c80"/>
<circle cx="265.0" cy="120.5" r="1.15" fill="#1b4c80"/>
<circle cx="234.3" cy="119.7" r="1.15" fill="#1b4c80"/>
<circle cx="220.7" cy="118.5" r="1.15" fill="#1b4c80"/>
<circle cx="215.0" cy="120.2" r="1.15" fill="#1b4c80"/>
<circle cx="162.0" cy="122.1" r="1.15" fill="#1b4c80"/>
<circle cx="248.3" cy="119.0" r="1.15" fill="#1b4c80"/>
<circle cx="211.7" cy="119.9" r="1.15" fill="#1b4c80"/>
<circle cx="245.3" cy="119.1" r="1.15" fill="#1b4c80"/>
<circle cx="219.7" cy="122.3" r="1.15" fill="#1b4c80"/>
<circle cx="182.6" cy="117.2" r="1.15" fill="#1b4c80"/>
<circle cx="252.0" cy="121.7" r="1.15" fill="#1b4c80"/>
<circle cx="190.4" cy="117.0" r="1.15" fill="#1b4c80"/>
<circle cx="265.9" cy="118.9" r="1.15" fill="#1b4c80"/>
<circle cx="184.3" cy="122.3" r="1.15" fill="#1b4c80"/>
<circle cx="261.0" cy="119.9" r="1.15" fill="#1b4c80"/>
<circle cx="183.4" cy="129.8" r="1.15" fill="#1b4c80"/>
<circle cx="158.1" cy="118.6" r="1.15" fill="#1b4c80"/>
<circle cx="209.5" cy="119.9" r="1.15" fill="#1b4c80"/>
<circle cx="255.2" cy="118.6" r="1.15" fill="#1b4c80"/>
<circle cx="234.1" cy="122.3" r="1.15" fill="#1b4c80"/>
<circle cx="190.7" cy="120.2" r="1.15" fill="#1b4c80"/>
<circle cx="175.5" cy="119.3" r="1.15" fill="#1b4c80"/>
<circle cx="181.3" cy="120.6" r="1.15" fill="#1b4c80"/>
<circle cx="161.6" cy="121.4" r="1.15" fill="#1b4c80"/>
<circle cx="158.1" cy="119.1" r="1.15" fill="#1b4c80"/>
<circle cx="237.8" cy="121.0" r="1.15" fill="#1b4c80"/>
<circle cx="209.1" cy="128.3" r="1.15" fill="#1b4c80"/>
<circle cx="188.5" cy="119.1" r="1.15" fill="#1b4c80"/>
<circle cx="166.8" cy="120.9" r="1.15" fill="#1b4c80"/>
<circle cx="208.9" cy="119.1" r="1.15" fill="#1b4c80"/>
<circle cx="181.7" cy="128.9" r="1.15" fill="#1b4c80"/>
<circle cx="248.3" cy="118.2" r="1.15" fill="#1b4c80"/>
<circle cx="224.3" cy="122.4" r="1.15" fill="#1b4c80"/>
<circle cx="262.3" cy="118.2" r="1.15" fill="#1b4c80"/>
<circle cx="198.1" cy="119.4" r="1.15" fill="#1b4c80"/>
<circle cx="181.2" cy="120.2" r="1.15" fill="#1b4c80"/>
<circle cx="192.2" cy="120.4" r="1.15" fill="#1b4c80"/>
<circle cx="204.2" cy="121.4" r="1.15" fill="#1b4c80"/>
<circle cx="201.8" cy="120.3" r="1.15" fill="#1b4c80"/>
<circle cx="188.2" cy="119.8" r="1.15" fill="#1b4c80"/>
<circle cx="167.2" cy="122.3" r="1.15" fill="#1b4c80"/>
<circle cx="212.5" cy="119.7" r="1.15" fill="#1b4c80"/>
<circle cx="243.2" cy="118.2" r="1.15" fill="#1b4c80"/>
<circle cx="168.3" cy="121.3" r="1.15" fill="#1b4c80"/>
<circle cx="263.7" cy="121.6" r="1.15" fill="#1b4c80"/>
<circle cx="181.7" cy="119.5" r="1.15" fill="#1b4c80"/>
<circle cx="173.2" cy="117.1" r="1.15" fill="#1b4c80"/>
<circle cx="226.7" cy="124.6" r="1.15" fill="#1b4c80"/>
<circle cx="211.9" cy="122.2" r="1.15" fill="#1b4c80"/>
<circle cx="260.7" cy="120.4" r="1.15" fill="#1b4c80"/>
<circle cx="195.3" cy="118.0" r="1.15" fill="#1b4c80"/>
<circle cx="249.5" cy="119.8" r="1.15" fill="#1b4c80"/>
<circle cx="180.8" cy="118.9" r="1.15" fill="#1b4c80"/>
<circle cx="236.9" cy="118.1" r="1.15" fill="#1b4c80"/>
<circle cx="174.6" cy="118.0" r="1.15" fill="#1b4c80"/>
<circle cx="176.5" cy="114.2" r="1.15" fill="#1b4c80"/>
<circle cx="213.2" cy="118.1" r="1.15" fill="#1b4c80"/>
<circle cx="193.9" cy="124.7" r="1.15" fill="#1b4c80"/>
<circle cx="164.4" cy="117.1" r="1.5" fill="#c8102e"/>
<path d="M62.4 185.8H268" stroke="#2f6f9f" stroke-width="1.2"/>
<circle cx="100.5" cy="176.8" r="1.15" fill="#1b4c80"/>
<circle cx="105.8" cy="173.6" r="1.15" fill="#1b4c80"/>
<circle cx="108.5" cy="174.1" r="1.15" fill="#1b4c80"/>
<circle cx="153.6" cy="184.6" r="1.15" fill="#1b4c80"/>
<circle cx="117.0" cy="185.0" r="1.15" fill="#1b4c80"/>
<circle cx="122.2" cy="194.1" r="1.15" fill="#1b4c80"/>
<circle cx="136.9" cy="187.4" r="1.15" fill="#1b4c80"/>
<circle cx="127.0" cy="182.5" r="1.15" fill="#1b4c80"/>
<circle cx="127.1" cy="187.3" r="1.15" fill="#1b4c80"/>
<circle cx="148.4" cy="183.8" r="1.15" fill="#1b4c80"/>
<circle cx="136.9" cy="187.1" r="1.15" fill="#1b4c80"/>
<circle cx="124.1" cy="184.1" r="1.15" fill="#1b4c80"/>
<circle cx="112.2" cy="184.4" r="1.15" fill="#1b4c80"/>
<circle cx="117.0" cy="185.8" r="1.15" fill="#1b4c80"/>
<circle cx="118.6" cy="185.2" r="1.15" fill="#1b4c80"/>
<circle cx="136.0" cy="185.5" r="1.15" fill="#1b4c80"/>
<circle cx="144.2" cy="185.9" r="1.15" fill="#1b4c80"/>
<circle cx="148.7" cy="186.8" r="1.15" fill="#1b4c80"/>
<circle cx="131.0" cy="187.0" r="1.15" fill="#1b4c80"/>
<circle cx="115.2" cy="185.3" r="1.15" fill="#1b4c80"/>
<circle cx="137.4" cy="184.8" r="1.15" fill="#1b4c80"/>
<circle cx="116.0" cy="183.7" r="1.15" fill="#1b4c80"/>
<circle cx="121.2" cy="183.8" r="1.15" fill="#1b4c80"/>
<circle cx="141.1" cy="187.1" r="1.15" fill="#1b4c80"/>
<circle cx="111.8" cy="185.5" r="1.15" fill="#1b4c80"/>
<circle cx="142.2" cy="195.2" r="1.15" fill="#1b4c80"/>
<circle cx="113.3" cy="186.9" r="1.15" fill="#1b4c80"/>
<circle cx="129.0" cy="184.6" r="1.15" fill="#1b4c80"/>
<circle cx="136.4" cy="187.7" r="1.15" fill="#1b4c80"/>
<circle cx="125.4" cy="187.2" r="1.15" fill="#1b4c80"/>
<circle cx="117.6" cy="184.8" r="1.15" fill="#1b4c80"/>
<circle cx="126.9" cy="191.6" r="1.15" fill="#1b4c80"/>
<circle cx="119.4" cy="187.3" r="1.15" fill="#1b4c80"/>
<circle cx="111.6" cy="186.7" r="1.15" fill="#1b4c80"/>
<circle cx="112.8" cy="187.5" r="1.15" fill="#1b4c80"/>
<circle cx="112.7" cy="182.9" r="1.15" fill="#1b4c80"/>
<circle cx="110.8" cy="185.8" r="1.15" fill="#1b4c80"/>
<circle cx="115.9" cy="185.1" r="1.15" fill="#1b4c80"/>
<circle cx="115.3" cy="185.9" r="1.15" fill="#1b4c80"/>
<circle cx="113.9" cy="182.6" r="1.15" fill="#1b4c80"/>
<circle cx="114.0" cy="187.6" r="1.15" fill="#1b4c80"/>
<circle cx="114.9" cy="184.6" r="1.15" fill="#1b4c80"/>
<circle cx="111.2" cy="185.5" r="1.15" fill="#1b4c80"/>
<circle cx="156.5" cy="185.8" r="1.15" fill="#1b4c80"/>
<circle cx="193.9" cy="185.1" r="1.15" fill="#1b4c80"/>
<circle cx="161.8" cy="181.9" r="1.15" fill="#1b4c80"/>
<circle cx="164.5" cy="186.8" r="1.15" fill="#1b4c80"/>
<circle cx="259.4" cy="187.8" r="1.15" fill="#1b4c80"/>
<circle cx="257.5" cy="185.0" r="1.15" fill="#1b4c80"/>
<circle cx="185.7" cy="186.1" r="1.15" fill="#1b4c80"/>
<circle cx="205.9" cy="188.7" r="1.15" fill="#1b4c80"/>
<circle cx="179.8" cy="188.0" r="1.15" fill="#1b4c80"/>
<circle cx="254.9" cy="184.3" r="1.15" fill="#1b4c80"/>
<circle cx="208.5" cy="185.6" r="1.15" fill="#1b4c80"/>
<circle cx="176.1" cy="186.3" r="1.15" fill="#1b4c80"/>
<circle cx="263.6" cy="189.1" r="1.15" fill="#1b4c80"/>
<circle cx="261.6" cy="183.3" r="1.15" fill="#1b4c80"/>
<circle cx="191.5" cy="186.4" r="1.15" fill="#1b4c80"/>
<circle cx="161.4" cy="193.5" r="1.15" fill="#1b4c80"/>
<circle cx="194.0" cy="187.3" r="1.15" fill="#1b4c80"/>
<circle cx="194.7" cy="188.2" r="1.15" fill="#1b4c80"/>
<circle cx="213.3" cy="183.1" r="1.15" fill="#1b4c80"/>
<circle cx="201.7" cy="186.0" r="1.15" fill="#1b4c80"/>
<circle cx="170.7" cy="184.9" r="1.15" fill="#1b4c80"/>
<circle cx="249.0" cy="183.4" r="1.15" fill="#1b4c80"/>
<circle cx="250.9" cy="180.6" r="1.15" fill="#1b4c80"/>
<circle cx="225.6" cy="188.6" r="1.15" fill="#1b4c80"/>
<circle cx="233.8" cy="186.5" r="1.15" fill="#1b4c80"/>
<circle cx="216.6" cy="185.4" r="1.15" fill="#1b4c80"/>
<circle cx="199.5" cy="184.5" r="1.15" fill="#1b4c80"/>
<circle cx="186.3" cy="185.9" r="1.15" fill="#1b4c80"/>
<circle cx="167.4" cy="184.1" r="1.15" fill="#1b4c80"/>
<circle cx="194.5" cy="188.7" r="1.15" fill="#1b4c80"/>
<circle cx="213.9" cy="179.2" r="1.15" fill="#1b4c80"/>
<circle cx="188.6" cy="187.7" r="1.15" fill="#1b4c80"/>
<circle cx="244.9" cy="187.4" r="1.15" fill="#1b4c80"/>
<circle cx="247.0" cy="185.1" r="1.15" fill="#1b4c80"/>
<circle cx="263.5" cy="186.8" r="1.15" fill="#1b4c80"/>
<circle cx="263.9" cy="186.6" r="1.15" fill="#1b4c80"/>
<circle cx="262.1" cy="184.4" r="1.15" fill="#1b4c80"/>
<circle cx="188.6" cy="185.5" r="1.15" fill="#1b4c80"/>
<circle cx="190.0" cy="187.6" r="1.15" fill="#1b4c80"/>
<circle cx="236.4" cy="187.1" r="1.15" fill="#1b4c80"/>
<circle cx="207.0" cy="183.2" r="1.15" fill="#1b4c80"/>
<circle cx="156.2" cy="185.1" r="1.15" fill="#1b4c80"/>
<circle cx="180.7" cy="188.1" r="1.15" fill="#1b4c80"/>
<circle cx="259.0" cy="184.7" r="1.15" fill="#1b4c80"/>
<circle cx="176.1" cy="187.9" r="1.15" fill="#1b4c80"/>
<circle cx="255.7" cy="184.9" r="1.15" fill="#1b4c80"/>
<circle cx="232.5" cy="185.8" r="1.15" fill="#1b4c80"/>
<circle cx="196.1" cy="186.8" r="1.15" fill="#1b4c80"/>
<circle cx="189.8" cy="184.3" r="1.15" fill="#1b4c80"/>
<circle cx="193.5" cy="182.8" r="1.15" fill="#1b4c80"/>
<circle cx="212.0" cy="183.3" r="1.15" fill="#1b4c80"/>
<circle cx="246.4" cy="186.3" r="1.15" fill="#1b4c80"/>
<circle cx="255.0" cy="186.3" r="1.15" fill="#1b4c80"/>
<circle cx="166.9" cy="185.5" r="1.15" fill="#1b4c80"/>
<circle cx="225.7" cy="192.0" r="1.15" fill="#1b4c80"/>
<circle cx="232.4" cy="179.1" r="1.15" fill="#1b4c80"/>
<circle cx="166.0" cy="185.4" r="1.15" fill="#1b4c80"/>
<circle cx="241.1" cy="185.8" r="1.15" fill="#1b4c80"/>
<circle cx="252.6" cy="184.1" r="1.15" fill="#1b4c80"/>
<circle cx="177.2" cy="187.5" r="1.15" fill="#1b4c80"/>
<circle cx="171.3" cy="191.4" r="1.15" fill="#1b4c80"/>
<circle cx="213.5" cy="186.0" r="1.15" fill="#1b4c80"/>
<circle cx="223.7" cy="180.3" r="1.15" fill="#1b4c80"/>
<circle cx="181.7" cy="186.6" r="1.15" fill="#1b4c80"/>
<circle cx="158.7" cy="188.3" r="1.15" fill="#1b4c80"/>
<circle cx="162.1" cy="188.4" r="1.15" fill="#1b4c80"/>
<circle cx="224.9" cy="184.5" r="1.15" fill="#1b4c80"/>
<circle cx="240.6" cy="193.5" r="1.15" fill="#1b4c80"/>
<circle cx="182.9" cy="180.6" r="1.15" fill="#1b4c80"/>
<circle cx="190.3" cy="184.3" r="1.15" fill="#1b4c80"/>
<circle cx="246.4" cy="186.6" r="1.15" fill="#1b4c80"/>
<circle cx="210.5" cy="183.5" r="1.15" fill="#1b4c80"/>
<circle cx="182.2" cy="188.7" r="1.15" fill="#1b4c80"/>
<circle cx="189.6" cy="183.4" r="1.15" fill="#1b4c80"/>
<circle cx="209.3" cy="185.4" r="1.15" fill="#1b4c80"/>
<circle cx="195.1" cy="187.5" r="1.15" fill="#1b4c80"/>
<circle cx="263.8" cy="186.4" r="1.15" fill="#1b4c80"/>
<circle cx="214.8" cy="183.6" r="1.15" fill="#1b4c80"/>
<circle cx="200.2" cy="185.0" r="1.15" fill="#1b4c80"/>
<circle cx="194.3" cy="185.3" r="1.15" fill="#1b4c80"/>
<circle cx="176.4" cy="192.2" r="1.15" fill="#1b4c80"/>
<circle cx="172.5" cy="184.1" r="1.15" fill="#1b4c80"/>
<circle cx="165.4" cy="186.2" r="1.15" fill="#1b4c80"/>
<circle cx="204.7" cy="182.4" r="1.15" fill="#1b4c80"/>
<circle cx="245.2" cy="184.9" r="1.15" fill="#1b4c80"/>
<circle cx="197.2" cy="184.0" r="1.15" fill="#1b4c80"/>
<circle cx="178.3" cy="183.2" r="1.15" fill="#1b4c80"/>
<circle cx="205.7" cy="186.4" r="1.15" fill="#1b4c80"/>
<circle cx="234.1" cy="186.1" r="1.15" fill="#1b4c80"/>
<circle cx="196.2" cy="180.8" r="1.15" fill="#1b4c80"/>
<circle cx="223.1" cy="184.9" r="1.15" fill="#1b4c80"/>
<circle cx="212.5" cy="182.2" r="1.15" fill="#1b4c80"/>
<circle cx="185.3" cy="185.5" r="1.15" fill="#1b4c80"/>
<circle cx="218.6" cy="187.6" r="1.15" fill="#1b4c80"/>
<circle cx="198.7" cy="184.6" r="1.15" fill="#1b4c80"/>
<circle cx="191.0" cy="185.1" r="1.15" fill="#1b4c80"/>
<circle cx="167.2" cy="187.4" r="1.15" fill="#1b4c80"/>
<circle cx="188.3" cy="186.6" r="1.15" fill="#1b4c80"/>
<circle cx="189.9" cy="185.6" r="1.15" fill="#1b4c80"/>
<circle cx="186.6" cy="184.6" r="1.15" fill="#1b4c80"/>
<circle cx="256.8" cy="185.2" r="1.15" fill="#1b4c80"/>
<circle cx="169.8" cy="189.5" r="1.15" fill="#1b4c80"/>
<circle cx="158.3" cy="186.9" r="1.15" fill="#1b4c80"/>
<circle cx="201.2" cy="188.2" r="1.15" fill="#1b4c80"/>
<circle cx="233.3" cy="185.8" r="1.15" fill="#1b4c80"/>
<circle cx="225.4" cy="182.3" r="1.15" fill="#1b4c80"/>
<circle cx="167.9" cy="183.3" r="1.15" fill="#1b4c80"/>
<circle cx="159.5" cy="192.6" r="1.15" fill="#1b4c80"/>
<circle cx="239.8" cy="184.2" r="1.15" fill="#1b4c80"/>
<circle cx="225.5" cy="183.3" r="1.15" fill="#1b4c80"/>
<circle cx="218.2" cy="185.5" r="1.15" fill="#1b4c80"/>
<circle cx="258.7" cy="183.7" r="1.15" fill="#1b4c80"/>
<circle cx="219.4" cy="185.0" r="1.15" fill="#1b4c80"/>
<circle cx="228.4" cy="186.1" r="1.15" fill="#1b4c80"/>
<circle cx="253.0" cy="188.2" r="1.15" fill="#1b4c80"/>
<circle cx="231.3" cy="180.0" r="1.15" fill="#1b4c80"/>
<circle cx="257.4" cy="185.8" r="1.15" fill="#1b4c80"/>
<circle cx="199.1" cy="186.8" r="1.15" fill="#1b4c80"/>
<circle cx="247.8" cy="186.0" r="1.15" fill="#1b4c80"/>
<circle cx="202.5" cy="185.0" r="1.15" fill="#1b4c80"/>
<circle cx="232.5" cy="186.0" r="1.15" fill="#1b4c80"/>
<circle cx="205.7" cy="189.2" r="1.15" fill="#1b4c80"/>
<circle cx="233.2" cy="187.7" r="1.15" fill="#1b4c80"/>
<circle cx="169.3" cy="184.9" r="1.15" fill="#1b4c80"/>
<circle cx="159.9" cy="186.8" r="1.15" fill="#1b4c80"/>
<circle cx="216.2" cy="188.9" r="1.15" fill="#1b4c80"/>
<circle cx="226.4" cy="187.1" r="1.15" fill="#1b4c80"/>
<circle cx="195.1" cy="186.3" r="1.15" fill="#1b4c80"/>
<circle cx="177.6" cy="186.3" r="1.15" fill="#1b4c80"/>
<circle cx="230.1" cy="184.9" r="1.15" fill="#1b4c80"/>
<circle cx="182.1" cy="188.3" r="1.15" fill="#1b4c80"/>
<circle cx="194.4" cy="186.0" r="1.15" fill="#1b4c80"/>
<circle cx="254.1" cy="184.3" r="1.15" fill="#1b4c80"/>
<circle cx="246.3" cy="184.0" r="1.15" fill="#1b4c80"/>
<circle cx="240.2" cy="184.5" r="1.15" fill="#1b4c80"/>
<circle cx="206.7" cy="183.5" r="1.15" fill="#1b4c80"/>
<circle cx="248.1" cy="184.7" r="1.15" fill="#1b4c80"/>
<circle cx="178.1" cy="184.5" r="1.15" fill="#1b4c80"/>
<circle cx="186.5" cy="184.6" r="1.15" fill="#1b4c80"/>
<circle cx="167.7" cy="183.2" r="1.15" fill="#1b4c80"/>
<circle cx="207.5" cy="186.5" r="1.15" fill="#1b4c80"/>
<circle cx="156.2" cy="185.0" r="1.15" fill="#1b4c80"/>
<circle cx="239.0" cy="183.3" r="1.15" fill="#1b4c80"/>
<circle cx="218.1" cy="184.4" r="1.15" fill="#1b4c80"/>
<circle cx="209.8" cy="186.9" r="1.15" fill="#1b4c80"/>
<circle cx="155.9" cy="185.3" r="1.15" fill="#1b4c80"/>
<circle cx="227.2" cy="188.7" r="1.15" fill="#1b4c80"/>
<circle cx="183.2" cy="189.7" r="1.15" fill="#1b4c80"/>
<circle cx="170.5" cy="181.8" r="1.15" fill="#1b4c80"/>
<circle cx="188.2" cy="185.1" r="1.15" fill="#1b4c80"/>
<circle cx="226.5" cy="183.5" r="1.15" fill="#1b4c80"/>
<circle cx="242.9" cy="189.2" r="1.15" fill="#1b4c80"/>
<circle cx="238.1" cy="186.3" r="1.15" fill="#1b4c80"/>
<circle cx="190.9" cy="184.5" r="1.15" fill="#1b4c80"/>
<circle cx="216.7" cy="188.1" r="1.15" fill="#1b4c80"/>
<circle cx="159.6" cy="183.3" r="1.15" fill="#1b4c80"/>
<circle cx="225.4" cy="184.6" r="1.15" fill="#1b4c80"/>
<circle cx="260.8" cy="188.4" r="1.15" fill="#1b4c80"/>
<circle cx="210.9" cy="185.0" r="1.15" fill="#1b4c80"/>
<circle cx="164.0" cy="184.5" r="1.15" fill="#1b4c80"/>
<circle cx="173.3" cy="191.6" r="1.15" fill="#1b4c80"/>
<circle cx="159.5" cy="184.1" r="1.15" fill="#1b4c80"/>
<circle cx="176.4" cy="185.8" r="1.15" fill="#1b4c80"/>
<circle cx="250.8" cy="185.9" r="1.15" fill="#1b4c80"/>
<circle cx="202.6" cy="186.4" r="1.15" fill="#1b4c80"/>
<circle cx="202.2" cy="183.2" r="1.15" fill="#1b4c80"/>
<circle cx="204.1" cy="187.5" r="1.15" fill="#1b4c80"/>
<circle cx="173.4" cy="189.6" r="1.15" fill="#1b4c80"/>
<circle cx="204.6" cy="187.3" r="1.15" fill="#1b4c80"/>
<circle cx="164.5" cy="186.4" r="1.15" fill="#1b4c80"/>
<circle cx="206.6" cy="181.9" r="1.15" fill="#1b4c80"/>
<circle cx="264.1" cy="186.5" r="1.15" fill="#1b4c80"/>
<circle cx="224.4" cy="185.6" r="1.15" fill="#1b4c80"/>
<circle cx="223.2" cy="186.4" r="1.15" fill="#1b4c80"/>
<circle cx="219.0" cy="183.8" r="1.15" fill="#1b4c80"/>
<circle cx="188.5" cy="186.6" r="1.15" fill="#1b4c80"/>
<circle cx="254.1" cy="184.7" r="1.15" fill="#1b4c80"/>
<circle cx="205.1" cy="185.6" r="1.15" fill="#1b4c80"/>
<circle cx="229.0" cy="187.4" r="1.15" fill="#1b4c80"/>
<circle cx="214.4" cy="184.1" r="1.15" fill="#1b4c80"/>
<circle cx="199.4" cy="184.7" r="1.15" fill="#1b4c80"/>
<circle cx="216.4" cy="185.1" r="1.15" fill="#1b4c80"/>
<circle cx="251.6" cy="185.8" r="1.15" fill="#1b4c80"/>
<circle cx="183.2" cy="184.8" r="1.15" fill="#1b4c80"/>
<circle cx="217.1" cy="185.5" r="1.15" fill="#1b4c80"/>
<circle cx="212.5" cy="183.5" r="1.15" fill="#1b4c80"/>
<circle cx="164.0" cy="186.4" r="1.15" fill="#1b4c80"/>
<circle cx="251.7" cy="185.4" r="1.15" fill="#1b4c80"/>
<circle cx="235.0" cy="185.8" r="1.15" fill="#1b4c80"/>
<circle cx="235.8" cy="186.7" r="1.15" fill="#1b4c80"/>
<circle cx="248.0" cy="186.7" r="1.15" fill="#1b4c80"/>
<circle cx="218.1" cy="185.1" r="1.15" fill="#1b4c80"/>
<circle cx="170.3" cy="185.7" r="1.15" fill="#1b4c80"/>
<circle cx="196.7" cy="192.8" r="1.15" fill="#1b4c80"/>
<circle cx="168.5" cy="183.2" r="1.15" fill="#1b4c80"/>
<circle cx="265.7" cy="182.8" r="1.15" fill="#1b4c80"/>
<circle cx="167.8" cy="186.0" r="1.15" fill="#1b4c80"/>
<circle cx="249.2" cy="187.5" r="1.15" fill="#1b4c80"/>
<circle cx="237.4" cy="184.4" r="1.15" fill="#1b4c80"/>
<circle cx="212.5" cy="185.7" r="1.15" fill="#1b4c80"/>
<circle cx="195.0" cy="190.1" r="1.15" fill="#1b4c80"/>
<circle cx="194.8" cy="185.5" r="1.15" fill="#1b4c80"/>
<circle cx="222.5" cy="181.9" r="1.15" fill="#1b4c80"/>
<circle cx="194.7" cy="184.7" r="1.15" fill="#1b4c80"/>
<circle cx="157.4" cy="183.9" r="1.15" fill="#1b4c80"/>
<circle cx="209.7" cy="185.9" r="1.15" fill="#1b4c80"/>
<circle cx="183.9" cy="182.6" r="1.15" fill="#1b4c80"/>
<circle cx="230.0" cy="182.4" r="1.15" fill="#1b4c80"/>
<circle cx="220.9" cy="185.8" r="1.15" fill="#1b4c80"/>
<circle cx="185.1" cy="177.8" r="1.15" fill="#1b4c80"/>
<circle cx="157.8" cy="183.7" r="1.15" fill="#1b4c80"/>
<circle cx="158.5" cy="185.9" r="1.15" fill="#1b4c80"/>
<circle cx="163.4" cy="187.7" r="1.15" fill="#1b4c80"/>
<circle cx="249.4" cy="187.6" r="1.15" fill="#1b4c80"/>
<circle cx="232.6" cy="187.0" r="1.15" fill="#1b4c80"/>
<circle cx="212.9" cy="185.4" r="1.15" fill="#1b4c80"/>
<circle cx="214.2" cy="186.2" r="1.15" fill="#1b4c80"/>
<circle cx="178.7" cy="184.7" r="1.15" fill="#1b4c80"/>
<circle cx="236.5" cy="186.8" r="1.15" fill="#1b4c80"/>
<circle cx="190.2" cy="183.5" r="1.15" fill="#1b4c80"/>
<circle cx="209.1" cy="185.6" r="1.15" fill="#1b4c80"/>
<circle cx="223.2" cy="184.5" r="1.15" fill="#1b4c80"/>
<circle cx="236.4" cy="184.7" r="1.15" fill="#1b4c80"/>
<circle cx="266.0" cy="184.4" r="1.15" fill="#1b4c80"/>
<circle cx="219.2" cy="186.7" r="1.15" fill="#1b4c80"/>
<circle cx="257.5" cy="186.3" r="1.15" fill="#1b4c80"/>
<circle cx="165.7" cy="185.2" r="1.15" fill="#1b4c80"/>
<circle cx="166.1" cy="184.0" r="1.15" fill="#1b4c80"/>
<circle cx="243.8" cy="185.6" r="1.15" fill="#1b4c80"/>
<circle cx="163.1" cy="182.6" r="1.15" fill="#1b4c80"/>
<circle cx="193.2" cy="188.8" r="1.15" fill="#1b4c80"/>
<circle cx="252.8" cy="183.1" r="1.15" fill="#1b4c80"/>
<circle cx="192.5" cy="186.8" r="1.15" fill="#1b4c80"/>
<circle cx="242.6" cy="188.4" r="1.15" fill="#1b4c80"/>
<circle cx="255.2" cy="183.6" r="1.15" fill="#1b4c80"/>
<circle cx="178.0" cy="193.1" r="1.15" fill="#1b4c80"/>
<circle cx="230.2" cy="187.3" r="1.15" fill="#1b4c80"/>
<circle cx="259.1" cy="184.8" r="1.15" fill="#1b4c80"/>
<circle cx="171.1" cy="186.1" r="1.15" fill="#1b4c80"/>
<circle cx="228.8" cy="187.1" r="1.15" fill="#1b4c80"/>
<circle cx="163.2" cy="184.3" r="1.15" fill="#1b4c80"/>
<circle cx="189.1" cy="180.9" r="1.15" fill="#1b4c80"/>
<circle cx="207.4" cy="183.1" r="1.15" fill="#1b4c80"/>
<circle cx="258.3" cy="186.3" r="1.15" fill="#1b4c80"/>
<circle cx="190.8" cy="183.5" r="1.15" fill="#1b4c80"/>
<circle cx="240.0" cy="182.4" r="1.15" fill="#1b4c80"/>
<circle cx="181.5" cy="185.1" r="1.15" fill="#1b4c80"/>
<circle cx="255.0" cy="185.7" r="1.15" fill="#1b4c80"/>
<circle cx="211.2" cy="184.7" r="1.15" fill="#1b4c80"/>
<circle cx="169.4" cy="194.4" r="1.15" fill="#1b4c80"/>
<circle cx="164.4" cy="189.5" r="1.5" fill="#c8102e"/>
<circle cx="180.7" cy="168.2" r="1.15" fill="#1b4c80"/>
<path d="M318 55.8H516" stroke="#222" stroke-width="0.9" stroke-dasharray="1.6 1.6"/>
<path d="M340 51.9H430" stroke="#2f6f9f" stroke-width="1.2"/>
<path d="M430 53.6H514" stroke="#2f6f9f" stroke-width="1.2"/>
<circle cx="351.0" cy="42.5" r="1.15" fill="#1b4c80"/>
<circle cx="355.5" cy="38.0" r="1.15" fill="#1b4c80"/>
<circle cx="358.5" cy="37.5" r="1.15" fill="#1b4c80"/>
<circle cx="405.5" cy="28.5" r="1.15" fill="#1b4c80"/>
<circle cx="400.4" cy="51.9" r="1.15" fill="#1b4c80"/>
<circle cx="375.0" cy="53.5" r="1.15" fill="#1b4c80"/>
<circle cx="387.9" cy="54.7" r="1.15" fill="#1b4c80"/>
<circle cx="402.1" cy="50.3" r="1.15" fill="#1b4c80"/>
<circle cx="375.9" cy="50.8" r="1.15" fill="#1b4c80"/>
<circle cx="392.0" cy="55.7" r="1.15" fill="#1b4c80"/>
<circle cx="383.0" cy="51.6" r="1.15" fill="#1b4c80"/>
<circle cx="370.1" cy="50.7" r="1.15" fill="#1b4c80"/>
<circle cx="383.3" cy="55.5" r="1.15" fill="#1b4c80"/>
<circle cx="380.4" cy="53.4" r="1.15" fill="#1b4c80"/>
<circle cx="386.3" cy="51.1" r="1.15" fill="#1b4c80"/>
<circle cx="385.1" cy="51.5" r="1.15" fill="#1b4c80"/>
<circle cx="368.5" cy="55.0" r="1.15" fill="#1b4c80"/>
<circle cx="404.5" cy="51.2" r="1.15" fill="#1b4c80"/>
<circle cx="361.3" cy="48.7" r="1.15" fill="#1b4c80"/>
<circle cx="363.0" cy="49.1" r="1.15" fill="#1b4c80"/>
<circle cx="361.6" cy="52.2" r="1.15" fill="#1b4c80"/>
<circle cx="365.6" cy="52.6" r="1.15" fill="#1b4c80"/>
<circle cx="361.5" cy="52.4" r="1.15" fill="#1b4c80"/>
<circle cx="364.2" cy="49.3" r="1.15" fill="#1b4c80"/>
<circle cx="364.5" cy="48.3" r="1.15" fill="#1b4c80"/>
<circle cx="364.6" cy="50.4" r="1.15" fill="#1b4c80"/>
<circle cx="363.0" cy="51.4" r="1.15" fill="#1b4c80"/>
<circle cx="481.7" cy="52.3" r="1.15" fill="#1b4c80"/>
<circle cx="488.9" cy="52.5" r="1.15" fill="#1b4c80"/>
<circle cx="452.8" cy="56.7" r="1.15" fill="#1b4c80"/>
<circle cx="460.6" cy="58.6" r="1.15" fill="#1b4c80"/>
<circle cx="492.6" cy="53.4" r="1.15" fill="#1b4c80"/>
<circle cx="418.9" cy="50.2" r="1.15" fill="#1b4c80"/>
<circle cx="506.9" cy="52.3" r="1.15" fill="#1b4c80"/>
<circle cx="415.7" cy="50.4" r="1.15" fill="#1b4c80"/>
<circle cx="431.0" cy="51.7" r="1.15" fill="#1b4c80"/>
<circle cx="484.6" cy="57.1" r="1.15" fill="#1b4c80"/>
<circle cx="489.3" cy="51.5" r="1.15" fill="#1b4c80"/>
<circle cx="441.3" cy="51.4" r="1.15" fill="#1b4c80"/>
<circle cx="425.9" cy="49.3" r="1.15" fill="#1b4c80"/>
<circle cx="502.9" cy="52.7" r="1.15" fill="#1b4c80"/>
<circle cx="405.0" cy="53.4" r="1.15" fill="#1b4c80"/>
<circle cx="403.7" cy="54.4" r="1.15" fill="#1b4c80"/>
<circle cx="441.3" cy="46.4" r="1.15" fill="#1b4c80"/>
<circle cx="444.1" cy="54.5" r="1.15" fill="#1b4c80"/>
<circle cx="498.4" cy="46.8" r="1.15" fill="#1b4c80"/>
<circle cx="450.6" cy="52.4" r="1.15" fill="#1b4c80"/>
<circle cx="474.0" cy="55.1" r="1.15" fill="#1b4c80"/>
<circle cx="513.4" cy="54.3" r="1.15" fill="#1b4c80"/>
<circle cx="498.7" cy="56.3" r="1.15" fill="#1b4c80"/>
<circle cx="431.9" cy="52.3" r="1.15" fill="#1b4c80"/>
<circle cx="439.1" cy="47.0" r="1.15" fill="#1b4c80"/>
<circle cx="501.8" cy="55.4" r="1.15" fill="#1b4c80"/>
<circle cx="452.7" cy="55.8" r="1.15" fill="#1b4c80"/>
<circle cx="500.9" cy="54.8" r="1.15" fill="#1b4c80"/>
<circle cx="489.3" cy="57.8" r="1.15" fill="#1b4c80"/>
<circle cx="422.4" cy="58.2" r="1.15" fill="#1b4c80"/>
<circle cx="404.7" cy="45.3" r="1.15" fill="#1b4c80"/>
<circle cx="511.1" cy="58.2" r="1.15" fill="#1b4c80"/>
<circle cx="484.4" cy="54.1" r="1.15" fill="#1b4c80"/>
<circle cx="420.9" cy="51.7" r="1.15" fill="#1b4c80"/>
<circle cx="504.9" cy="53.0" r="1.15" fill="#1b4c80"/>
<circle cx="500.8" cy="54.3" r="1.15" fill="#1b4c80"/>
<circle cx="490.7" cy="53.7" r="1.15" fill="#1b4c80"/>
<circle cx="406.2" cy="50.2" r="1.15" fill="#1b4c80"/>
<circle cx="413.7" cy="58.5" r="1.15" fill="#1b4c80"/>
<circle cx="414.4" cy="59.4" r="1.15" fill="#1b4c80"/>
<circle cx="402.3" cy="50.2" r="1.15" fill="#1b4c80"/>
<circle cx="462.5" cy="49.8" r="1.15" fill="#1b4c80"/>
<circle cx="461.4" cy="49.6" r="1.15" fill="#1b4c80"/>
<circle cx="509.2" cy="58.5" r="1.15" fill="#1b4c80"/>
<circle cx="510.9" cy="56.3" r="1.15" fill="#1b4c80"/>
<circle cx="410.1" cy="52.1" r="1.15" fill="#1b4c80"/>
<circle cx="510.2" cy="53.5" r="1.15" fill="#1b4c80"/>
<circle cx="407.4" cy="53.9" r="1.15" fill="#1b4c80"/>
<circle cx="438.5" cy="60.4" r="1.15" fill="#1b4c80"/>
<circle cx="463.5" cy="49.3" r="1.15" fill="#1b4c80"/>
<circle cx="482.4" cy="48.5" r="1.15" fill="#1b4c80"/>
<circle cx="437.6" cy="45.6" r="1.15" fill="#1b4c80"/>
<circle cx="445.2" cy="55.9" r="1.15" fill="#1b4c80"/>
<circle cx="418.0" cy="52.5" r="1.15" fill="#1b4c80"/>
<circle cx="505.7" cy="53.8" r="1.15" fill="#1b4c80"/>
<circle cx="470.4" cy="52.7" r="1.15" fill="#1b4c80"/>
<circle cx="415.0" cy="53.7" r="1.15" fill="#1b4c80"/>
<circle cx="489.8" cy="54.3" r="1.15" fill="#1b4c80"/>
<circle cx="438.3" cy="51.7" r="1.15" fill="#1b4c80"/>
<circle cx="463.5" cy="60.2" r="1.15" fill="#1b4c80"/>
<circle cx="468.3" cy="59.0" r="1.15" fill="#1b4c80"/>
<circle cx="428.3" cy="49.0" r="1.15" fill="#1b4c80"/>
<circle cx="481.8" cy="51.4" r="1.15" fill="#1b4c80"/>
<circle cx="460.9" cy="49.0" r="1.15" fill="#1b4c80"/>
<circle cx="472.4" cy="51.8" r="1.15" fill="#1b4c80"/>
<circle cx="427.0" cy="50.5" r="1.15" fill="#1b4c80"/>
<circle cx="455.0" cy="50.8" r="1.15" fill="#1b4c80"/>
<circle cx="460.5" cy="50.2" r="1.15" fill="#1b4c80"/>
<circle cx="505.9" cy="54.0" r="1.15" fill="#1b4c80"/>
<circle cx="460.7" cy="47.1" r="1.15" fill="#1b4c80"/>
<circle cx="421.3" cy="51.3" r="1.15" fill="#1b4c80"/>
<circle cx="453.6" cy="48.9" r="1.15" fill="#1b4c80"/>
<circle cx="499.2" cy="61.2" r="1.15" fill="#1b4c80"/>
<circle cx="498.7" cy="52.0" r="1.15" fill="#1b4c80"/>
<circle cx="444.0" cy="53.5" r="1.15" fill="#1b4c80"/>
<circle cx="476.3" cy="52.1" r="1.15" fill="#1b4c80"/>
<circle cx="432.8" cy="51.9" r="1.15" fill="#1b4c80"/>
<circle cx="452.0" cy="55.2" r="1.15" fill="#1b4c80"/>
<circle cx="421.5" cy="54.8" r="1.15" fill="#1b4c80"/>
<circle cx="402.7" cy="54.4" r="1.15" fill="#1b4c80"/>
<circle cx="471.7" cy="55.5" r="1.15" fill="#1b4c80"/>
<circle cx="491.8" cy="60.0" r="1.15" fill="#1b4c80"/>
<circle cx="422.0" cy="55.8" r="1.15" fill="#1b4c80"/>
<circle cx="432.8" cy="51.3" r="1.15" fill="#1b4c80"/>
<circle cx="412.2" cy="54.1" r="1.15" fill="#1b4c80"/>
<circle cx="498.2" cy="54.4" r="1.15" fill="#1b4c80"/>
<circle cx="471.2" cy="55.8" r="1.15" fill="#1b4c80"/>
<circle cx="406.9" cy="49.7" r="1.15" fill="#1b4c80"/>
<circle cx="435.1" cy="53.1" r="1.15" fill="#1b4c80"/>
<circle cx="474.6" cy="54.5" r="1.15" fill="#1b4c80"/>
<circle cx="466.8" cy="49.8" r="1.15" fill="#1b4c80"/>
<circle cx="423.5" cy="56.5" r="1.15" fill="#1b4c80"/>
<circle cx="476.5" cy="53.2" r="1.15" fill="#1b4c80"/>
<circle cx="409.9" cy="52.3" r="1.15" fill="#1b4c80"/>
<circle cx="457.6" cy="49.5" r="1.15" fill="#1b4c80"/>
<circle cx="486.8" cy="56.4" r="1.15" fill="#1b4c80"/>
<circle cx="453.8" cy="52.8" r="1.15" fill="#1b4c80"/>
<circle cx="448.5" cy="46.4" r="1.15" fill="#1b4c80"/>
<circle cx="457.0" cy="53.2" r="1.15" fill="#1b4c80"/>
<circle cx="494.4" cy="52.2" r="1.15" fill="#1b4c80"/>
<circle cx="406.5" cy="48.2" r="1.15" fill="#1b4c80"/>
<circle cx="464.0" cy="52.8" r="1.15" fill="#1b4c80"/>
<circle cx="426.7" cy="47.4" r="1.15" fill="#1b4c80"/>
<circle cx="493.6" cy="54.5" r="1.15" fill="#1b4c80"/>
<circle cx="465.2" cy="43.4" r="1.15" fill="#1b4c80"/>
<circle cx="456.1" cy="56.2" r="1.15" fill="#1b4c80"/>
<circle cx="467.4" cy="53.6" r="1.15" fill="#1b4c80"/>
<circle cx="493.5" cy="54.6" r="1.15" fill="#1b4c80"/>
<circle cx="460.0" cy="60.3" r="1.15" fill="#1b4c80"/>
<circle cx="411.7" cy="49.1" r="1.15" fill="#1b4c80"/>
<circle cx="446.2" cy="55.0" r="1.15" fill="#1b4c80"/>
<circle cx="478.3" cy="53.3" r="1.15" fill="#1b4c80"/>
<circle cx="450.8" cy="54.2" r="1.15" fill="#1b4c80"/>
<circle cx="436.2" cy="53.5" r="1.15" fill="#1b4c80"/>
<circle cx="506.4" cy="54.8" r="1.15" fill="#1b4c80"/>
<circle cx="481.5" cy="56.7" r="1.15" fill="#1b4c80"/>
<circle cx="453.1" cy="57.2" r="1.15" fill="#1b4c80"/>
<circle cx="476.4" cy="59.9" r="1.15" fill="#1b4c80"/>
<circle cx="426.6" cy="51.8" r="1.15" fill="#1b4c80"/>
<circle cx="424.5" cy="54.1" r="1.15" fill="#1b4c80"/>
<circle cx="447.5" cy="59.5" r="1.15" fill="#1b4c80"/>
<circle cx="424.8" cy="52.7" r="1.15" fill="#1b4c80"/>
<circle cx="415.9" cy="53.9" r="1.15" fill="#1b4c80"/>
<circle cx="500.6" cy="45.8" r="1.15" fill="#1b4c80"/>
<circle cx="477.5" cy="51.6" r="1.15" fill="#1b4c80"/>
<circle cx="435.0" cy="53.5" r="1.15" fill="#1b4c80"/>
<circle cx="504.8" cy="57.5" r="1.15" fill="#1b4c80"/>
<circle cx="413.3" cy="56.3" r="1.15" fill="#1b4c80"/>
<circle cx="448.4" cy="55.0" r="1.15" fill="#1b4c80"/>
<circle cx="430.9" cy="55.7" r="1.15" fill="#1b4c80"/>
<circle cx="408.3" cy="49.8" r="1.15" fill="#1b4c80"/>
<circle cx="406.7" cy="53.4" r="1.15" fill="#1b4c80"/>
<circle cx="467.2" cy="50.2" r="1.15" fill="#1b4c80"/>
<circle cx="464.8" cy="55.7" r="1.15" fill="#1b4c80"/>
<circle cx="496.2" cy="57.4" r="1.15" fill="#1b4c80"/>
<circle cx="491.5" cy="60.4" r="1.15" fill="#1b4c80"/>
<circle cx="434.6" cy="51.9" r="1.15" fill="#1b4c80"/>
<circle cx="479.7" cy="54.2" r="1.15" fill="#1b4c80"/>
<circle cx="439.3" cy="53.7" r="1.15" fill="#1b4c80"/>
<circle cx="406.3" cy="49.8" r="1.15" fill="#1b4c80"/>
<circle cx="475.5" cy="56.1" r="1.15" fill="#1b4c80"/>
<circle cx="410.2" cy="51.7" r="1.15" fill="#1b4c80"/>
<circle cx="501.6" cy="53.8" r="1.15" fill="#1b4c80"/>
<circle cx="424.5" cy="51.8" r="1.15" fill="#1b4c80"/>
<circle cx="486.7" cy="55.5" r="1.15" fill="#1b4c80"/>
<circle cx="454.7" cy="52.7" r="1.15" fill="#1b4c80"/>
<circle cx="466.8" cy="47.5" r="1.15" fill="#1b4c80"/>
<circle cx="467.0" cy="52.3" r="1.15" fill="#1b4c80"/>
<circle cx="419.0" cy="52.3" r="1.15" fill="#1b4c80"/>
<circle cx="421.3" cy="50.3" r="1.15" fill="#1b4c80"/>
<circle cx="442.8" cy="54.8" r="1.15" fill="#1b4c80"/>
<circle cx="495.2" cy="55.0" r="1.15" fill="#1b4c80"/>
<circle cx="485.7" cy="50.8" r="1.15" fill="#1b4c80"/>
<circle cx="420.1" cy="44.5" r="1.15" fill="#1b4c80"/>
<circle cx="480.0" cy="54.1" r="1.15" fill="#1b4c80"/>
<circle cx="495.8" cy="56.7" r="1.15" fill="#1b4c80"/>
<circle cx="442.3" cy="54.3" r="1.15" fill="#1b4c80"/>
<circle cx="412.1" cy="56.2" r="1.15" fill="#1b4c80"/>
<circle cx="436.0" cy="52.3" r="1.15" fill="#1b4c80"/>
<circle cx="413.9" cy="52.3" r="1.15" fill="#1b4c80"/>
<circle cx="462.6" cy="53.8" r="1.15" fill="#1b4c80"/>
<circle cx="429.5" cy="51.5" r="1.15" fill="#1b4c80"/>
<circle cx="508.3" cy="53.6" r="1.15" fill="#1b4c80"/>
<circle cx="464.2" cy="58.3" r="1.15" fill="#1b4c80"/>
<circle cx="461.9" cy="51.7" r="1.15" fill="#1b4c80"/>
<circle cx="412.6" cy="52.9" r="1.15" fill="#1b4c80"/>
<circle cx="480.6" cy="54.2" r="1.15" fill="#1b4c80"/>
<circle cx="485.3" cy="54.8" r="1.15" fill="#1b4c80"/>
<circle cx="513.8" cy="54.4" r="1.15" fill="#1b4c80"/>
<circle cx="471.9" cy="55.8" r="1.15" fill="#1b4c80"/>
<circle cx="476.4" cy="55.5" r="1.15" fill="#1b4c80"/>
<circle cx="429.3" cy="52.7" r="1.15" fill="#1b4c80"/>
<circle cx="494.0" cy="51.4" r="1.15" fill="#1b4c80"/>
<circle cx="439.8" cy="53.8" r="1.15" fill="#1b4c80"/>
<circle cx="421.6" cy="53.3" r="1.15" fill="#1b4c80"/>
<circle cx="411.4" cy="52.4" r="1.15" fill="#1b4c80"/>
<circle cx="437.6" cy="48.5" r="1.15" fill="#1b4c80"/>
<circle cx="490.1" cy="57.3" r="1.15" fill="#1b4c80"/>
<circle cx="459.3" cy="53.2" r="1.15" fill="#1b4c80"/>
<circle cx="491.3" cy="54.0" r="1.15" fill="#1b4c80"/>
<circle cx="478.8" cy="52.5" r="1.15" fill="#1b4c80"/>
<circle cx="409.5" cy="61.8" r="1.15" fill="#1b4c80"/>
<circle cx="486.2" cy="53.9" r="1.15" fill="#1b4c80"/>
<circle cx="424.3" cy="48.4" r="1.15" fill="#1b4c80"/>
<circle cx="412.3" cy="48.4" r="1.15" fill="#1b4c80"/>
<circle cx="441.1" cy="56.0" r="1.15" fill="#1b4c80"/>
<circle cx="485.5" cy="58.2" r="1.15" fill="#1b4c80"/>
<circle cx="494.8" cy="57.8" r="1.15" fill="#1b4c80"/>
<circle cx="495.2" cy="52.1" r="1.15" fill="#1b4c80"/>
<circle cx="468.1" cy="47.4" r="1.15" fill="#1b4c80"/>
<circle cx="499.5" cy="55.3" r="1.15" fill="#1b4c80"/>
<circle cx="509.6" cy="49.1" r="1.15" fill="#1b4c80"/>
<circle cx="510.5" cy="52.8" r="1.15" fill="#1b4c80"/>
<circle cx="430.2" cy="53.3" r="1.15" fill="#1b4c80"/>
<circle cx="453.3" cy="50.5" r="1.15" fill="#1b4c80"/>
<circle cx="457.2" cy="55.8" r="1.15" fill="#1b4c80"/>
<circle cx="445.9" cy="49.9" r="1.15" fill="#1b4c80"/>
<circle cx="490.9" cy="51.8" r="1.15" fill="#1b4c80"/>
<circle cx="447.5" cy="46.1" r="1.15" fill="#1b4c80"/>
<circle cx="475.1" cy="54.7" r="1.15" fill="#1b4c80"/>
<circle cx="495.7" cy="52.2" r="1.15" fill="#1b4c80"/>
<circle cx="402.5" cy="51.7" r="1.15" fill="#1b4c80"/>
<circle cx="493.0" cy="53.8" r="1.15" fill="#1b4c80"/>
<circle cx="469.7" cy="49.8" r="1.15" fill="#1b4c80"/>
<circle cx="441.6" cy="52.9" r="1.15" fill="#1b4c80"/>
<circle cx="471.4" cy="53.6" r="1.15" fill="#1b4c80"/>
<circle cx="480.5" cy="54.6" r="1.15" fill="#1b4c80"/>
<circle cx="476.0" cy="54.2" r="1.15" fill="#1b4c80"/>
<circle cx="406.7" cy="50.9" r="1.15" fill="#1b4c80"/>
<circle cx="422.6" cy="51.3" r="1.15" fill="#1b4c80"/>
<circle cx="427.1" cy="59.2" r="1.15" fill="#1b4c80"/>
<circle cx="470.3" cy="55.4" r="1.15" fill="#1b4c80"/>
<circle cx="509.0" cy="52.6" r="1.15" fill="#1b4c80"/>
<circle cx="512.7" cy="55.2" r="1.15" fill="#1b4c80"/>
<circle cx="461.0" cy="45.8" r="1.15" fill="#1b4c80"/>
<circle cx="429.5" cy="48.4" r="1.15" fill="#1b4c80"/>
<circle cx="477.7" cy="52.6" r="1.15" fill="#1b4c80"/>
<circle cx="484.3" cy="53.9" r="1.15" fill="#1b4c80"/>
<circle cx="486.4" cy="50.8" r="1.15" fill="#1b4c80"/>
<circle cx="448.6" cy="49.7" r="1.15" fill="#1b4c80"/>
<circle cx="435.1" cy="52.0" r="1.15" fill="#1b4c80"/>
<circle cx="481.4" cy="52.0" r="1.15" fill="#1b4c80"/>
<circle cx="408.7" cy="46.1" r="1.15" fill="#1b4c80"/>
<circle cx="457.3" cy="52.0" r="1.15" fill="#1b4c80"/>
<circle cx="501.5" cy="53.4" r="1.15" fill="#1b4c80"/>
<circle cx="444.2" cy="50.9" r="1.15" fill="#1b4c80"/>
<circle cx="470.0" cy="55.3" r="1.15" fill="#1b4c80"/>
<circle cx="508.2" cy="53.6" r="1.15" fill="#1b4c80"/>
<circle cx="432.4" cy="52.2" r="1.15" fill="#1b4c80"/>
<circle cx="504.8" cy="46.8" r="1.15" fill="#1b4c80"/>
<circle cx="468.0" cy="51.7" r="1.15" fill="#1b4c80"/>
<circle cx="472.3" cy="62.4" r="1.15" fill="#1b4c80"/>
<circle cx="492.1" cy="57.2" r="1.15" fill="#1b4c80"/>
<circle cx="444.6" cy="56.5" r="1.15" fill="#1b4c80"/>
<circle cx="433.1" cy="51.2" r="1.15" fill="#1b4c80"/>
<circle cx="466.4" cy="54.5" r="1.15" fill="#1b4c80"/>
<circle cx="417.7" cy="47.8" r="1.15" fill="#1b4c80"/>
<circle cx="500.3" cy="55.5" r="1.15" fill="#1b4c80"/>
<circle cx="436.9" cy="62.1" r="1.15" fill="#1b4c80"/>
<circle cx="489.0" cy="51.8" r="1.15" fill="#1b4c80"/>
<circle cx="501.8" cy="56.2" r="1.15" fill="#1b4c80"/>
<circle cx="471.5" cy="55.6" r="1.15" fill="#1b4c80"/>
<circle cx="442.5" cy="51.0" r="1.15" fill="#1b4c80"/>
<circle cx="490.8" cy="52.8" r="1.15" fill="#1b4c80"/>
<circle cx="471.7" cy="54.0" r="1.15" fill="#1b4c80"/>
<circle cx="447.7" cy="61.2" r="1.15" fill="#1b4c80"/>
<circle cx="454.7" cy="57.2" r="1.15" fill="#1b4c80"/>
<circle cx="477.1" cy="53.8" r="1.15" fill="#1b4c80"/>
<circle cx="504.8" cy="52.2" r="1.15" fill="#1b4c80"/>
<circle cx="434.3" cy="50.7" r="1.15" fill="#1b4c80"/>
<circle cx="406.6" cy="50.6" r="1.15" fill="#1b4c80"/>
<circle cx="465.4" cy="48.2" r="1.15" fill="#1b4c80"/>
<circle cx="429.3" cy="43.2" r="1.15" fill="#1b4c80"/>
<circle cx="477.9" cy="50.7" r="1.15" fill="#1b4c80"/>
<circle cx="436.4" cy="54.9" r="1.15" fill="#1b4c80"/>
<circle cx="510.3" cy="51.8" r="1.15" fill="#1b4c80"/>
<circle cx="446.2" cy="49.0" r="1.15" fill="#1b4c80"/>
<circle cx="485.2" cy="52.7" r="1.15" fill="#1b4c80"/>
<circle cx="441.2" cy="54.5" r="1.15" fill="#1b4c80"/>
<circle cx="499.6" cy="51.4" r="1.15" fill="#1b4c80"/>
<circle cx="412.6" cy="46.5" r="1.5" fill="#c8102e"/>
<path d="M318 120.3H516" stroke="#222" stroke-width="0.9" stroke-dasharray="1.6 1.6"/>
<path d="M340 107.4H430" stroke="#2f6f9f" stroke-width="1.2"/>
<circle cx="340.0" cy="98.0" r="1.15" fill="#1b4c80"/>
<circle cx="344.6" cy="93.5" r="1.15" fill="#1b4c80"/>
<circle cx="350.6" cy="98.6" r="1.15" fill="#1b4c80"/>
<circle cx="356.4" cy="95.6" r="1.15" fill="#1b4c80"/>
<circle cx="358.7" cy="100.0" r="1.15" fill="#1b4c80"/>
<circle cx="367.6" cy="102.3" r="1.15" fill="#1b4c80"/>
<circle cx="397.0" cy="116.5" r="1.15" fill="#1b4c80"/>
<circle cx="406.0" cy="118.8" r="1.15" fill="#1b4c80"/>
<circle cx="365.3" cy="111.3" r="1.15" fill="#1b4c80"/>
<circle cx="361.4" cy="110.7" r="1.15" fill="#1b4c80"/>
<circle cx="361.9" cy="115.0" r="1.15" fill="#1b4c80"/>
<circle cx="365.0" cy="116.7" r="1.15" fill="#1b4c80"/>
<circle cx="363.0" cy="114.0" r="1.15" fill="#1b4c80"/>
<circle cx="363.0" cy="112.7" r="1.15" fill="#1b4c80"/>
<circle cx="364.9" cy="117.9" r="1.15" fill="#1b4c80"/>
<circle cx="364.9" cy="111.5" r="1.15" fill="#1b4c80"/>
<circle cx="363.7" cy="117.5" r="1.15" fill="#1b4c80"/>
<circle cx="362.5" cy="119.0" r="1.15" fill="#1b4c80"/>
<circle cx="365.3" cy="117.4" r="1.15" fill="#1b4c80"/>
<circle cx="364.7" cy="116.5" r="1.15" fill="#1b4c80"/>
<circle cx="365.2" cy="111.3" r="1.15" fill="#1b4c80"/>
<circle cx="363.9" cy="117.0" r="1.15" fill="#1b4c80"/>
<circle cx="363.3" cy="112.8" r="1.15" fill="#1b4c80"/>
<circle cx="359.5" cy="116.0" r="1.15" fill="#1b4c80"/>
<circle cx="364.8" cy="112.7" r="1.15" fill="#1b4c80"/>
<circle cx="360.5" cy="112.2" r="1.15" fill="#1b4c80"/>
<circle cx="373.0" cy="106.1" r="1.15" fill="#1b4c80"/>
<circle cx="391.6" cy="109.7" r="1.15" fill="#1b4c80"/>
<circle cx="381.5" cy="106.0" r="1.15" fill="#1b4c80"/>
<circle cx="392.4" cy="109.6" r="1.15" fill="#1b4c80"/>
<circle cx="380.4" cy="108.0" r="1.15" fill="#1b4c80"/>
<circle cx="370.1" cy="105.8" r="1.15" fill="#1b4c80"/>
<circle cx="378.8" cy="105.8" r="1.15" fill="#1b4c80"/>
<circle cx="371.9" cy="104.3" r="1.15" fill="#1b4c80"/>
<circle cx="395.8" cy="107.3" r="1.15" fill="#1b4c80"/>
<circle cx="371.3" cy="106.9" r="1.15" fill="#1b4c80"/>
<circle cx="377.2" cy="105.7" r="1.15" fill="#1b4c80"/>
<circle cx="390.1" cy="105.6" r="1.15" fill="#1b4c80"/>
<circle cx="388.2" cy="107.9" r="1.15" fill="#1b4c80"/>
<circle cx="377.0" cy="106.8" r="1.15" fill="#1b4c80"/>
<circle cx="396.9" cy="105.3" r="1.15" fill="#1b4c80"/>
<circle cx="395.9" cy="106.1" r="1.15" fill="#1b4c80"/>
<circle cx="394.9" cy="106.4" r="1.15" fill="#1b4c80"/>
<circle cx="370.9" cy="104.6" r="1.15" fill="#1b4c80"/>
<circle cx="372.0" cy="106.4" r="1.15" fill="#1b4c80"/>
<circle cx="390.2" cy="106.1" r="1.15" fill="#1b4c80"/>
<circle cx="382.8" cy="104.1" r="1.15" fill="#1b4c80"/>
<circle cx="386.4" cy="105.4" r="1.15" fill="#1b4c80"/>
<circle cx="397.8" cy="105.8" r="1.15" fill="#1b4c80"/>
<circle cx="401.9" cy="108.0" r="1.15" fill="#1b4c80"/>
<circle cx="380.5" cy="102.2" r="1.15" fill="#1b4c80"/>
<circle cx="401.6" cy="108.3" r="1.15" fill="#1b4c80"/>
<circle cx="374.3" cy="107.4" r="1.15" fill="#1b4c80"/>
<circle cx="384.5" cy="105.3" r="1.15" fill="#1b4c80"/>
<circle cx="384.5" cy="103.9" r="1.15" fill="#1b4c80"/>
<circle cx="380.9" cy="107.2" r="1.15" fill="#1b4c80"/>
<circle cx="409.2" cy="107.8" r="1.15" fill="#1b4c80"/>
<circle cx="406.6" cy="104.5" r="1.15" fill="#1b4c80"/>
<circle cx="413.7" cy="101.0" r="1.15" fill="#1b4c80"/>
<circle cx="406.7" cy="104.2" r="1.15" fill="#1b4c80"/>
<circle cx="408.7" cy="102.8" r="1.15" fill="#1b4c80"/>
<circle cx="417.2" cy="102.2" r="1.15" fill="#1b4c80"/>
<circle cx="422.7" cy="96.6" r="1.15" fill="#1b4c80"/>
<circle cx="428.5" cy="109.3" r="1.15" fill="#1b4c80"/>
<circle cx="421.9" cy="102.3" r="1.15" fill="#1b4c80"/>
<circle cx="402.8" cy="104.9" r="1.15" fill="#1b4c80"/>
<circle cx="426.0" cy="105.3" r="1.15" fill="#1b4c80"/>
<circle cx="421.9" cy="103.1" r="1.15" fill="#1b4c80"/>
<circle cx="411.3" cy="103.0" r="1.15" fill="#1b4c80"/>
<circle cx="405.7" cy="98.1" r="1.15" fill="#1b4c80"/>
<circle cx="409.9" cy="97.5" r="1.15" fill="#1b4c80"/>
<circle cx="402.3" cy="106.2" r="1.15" fill="#1b4c80"/>
<circle cx="427.1" cy="107.5" r="1.15" fill="#1b4c80"/>
<circle cx="424.3" cy="103.4" r="1.15" fill="#1b4c80"/>
<circle cx="404.1" cy="105.2" r="1.15" fill="#1b4c80"/>
<circle cx="405.5" cy="105.4" r="1.15" fill="#1b4c80"/>
<circle cx="429.7" cy="101.2" r="1.15" fill="#1b4c80"/>
<circle cx="427.4" cy="105.8" r="1.15" fill="#1b4c80"/>
<circle cx="424.8" cy="101.3" r="1.15" fill="#1b4c80"/>
<circle cx="404.7" cy="108.0" r="1.15" fill="#1b4c80"/>
<circle cx="415.7" cy="107.4" r="1.15" fill="#1b4c80"/>
<circle cx="407.1" cy="104.8" r="1.15" fill="#1b4c80"/>
<circle cx="427.4" cy="105.5" r="1.15" fill="#1b4c80"/>
<circle cx="421.6" cy="113.3" r="1.15" fill="#1b4c80"/>
<circle cx="413.7" cy="101.8" r="1.15" fill="#1b4c80"/>
<circle cx="422.2" cy="100.4" r="1.15" fill="#1b4c80"/>
<circle cx="425.4" cy="108.7" r="1.15" fill="#1b4c80"/>
<circle cx="404.9" cy="107.0" r="1.15" fill="#1b4c80"/>
<circle cx="418.0" cy="105.0" r="1.15" fill="#1b4c80"/>
<circle cx="412.0" cy="110.8" r="1.15" fill="#1b4c80"/>
<circle cx="423.8" cy="105.1" r="1.15" fill="#1b4c80"/>
<circle cx="414.4" cy="111.3" r="1.15" fill="#1b4c80"/>
<circle cx="416.5" cy="106.6" r="1.15" fill="#1b4c80"/>
<circle cx="403.1" cy="102.8" r="1.15" fill="#1b4c80"/>
<circle cx="426.7" cy="108.8" r="1.15" fill="#1b4c80"/>
<circle cx="415.1" cy="103.4" r="1.15" fill="#1b4c80"/>
<circle cx="408.1" cy="103.1" r="1.15" fill="#1b4c80"/>
<circle cx="427.3" cy="103.7" r="1.15" fill="#1b4c80"/>
<circle cx="418.1" cy="105.8" r="1.15" fill="#1b4c80"/>
<circle cx="404.7" cy="105.9" r="1.15" fill="#1b4c80"/>
<circle cx="418.0" cy="108.2" r="1.15" fill="#1b4c80"/>
<circle cx="419.5" cy="103.9" r="1.15" fill="#1b4c80"/>
<circle cx="403.0" cy="101.5" r="1.15" fill="#1b4c80"/>
<circle cx="422.0" cy="108.2" r="1.15" fill="#1b4c80"/>
<circle cx="412.6" cy="106.0" r="1.15" fill="#1b4c80"/>
<circle cx="420.5" cy="104.3" r="1.15" fill="#1b4c80"/>
<circle cx="419.8" cy="102.5" r="1.15" fill="#1b4c80"/>
<circle cx="421.1" cy="103.1" r="1.15" fill="#1b4c80"/>
<circle cx="427.4" cy="105.1" r="1.15" fill="#1b4c80"/>
<circle cx="418.4" cy="107.0" r="1.15" fill="#1b4c80"/>
<circle cx="429.6" cy="105.7" r="1.15" fill="#1b4c80"/>
<circle cx="407.6" cy="100.4" r="1.15" fill="#1b4c80"/>
<circle cx="424.9" cy="108.3" r="1.15" fill="#1b4c80"/>
<circle cx="419.4" cy="104.8" r="1.15" fill="#1b4c80"/>
<circle cx="403.7" cy="103.9" r="1.15" fill="#1b4c80"/>
<circle cx="429.3" cy="105.1" r="1.15" fill="#1b4c80"/>
<circle cx="402.4" cy="104.0" r="1.15" fill="#1b4c80"/>
<circle cx="408.0" cy="106.8" r="1.15" fill="#1b4c80"/>
<circle cx="420.5" cy="103.8" r="1.15" fill="#1b4c80"/>
<circle cx="428.0" cy="100.2" r="1.15" fill="#1b4c80"/>
<circle cx="408.6" cy="99.3" r="1.15" fill="#1b4c80"/>
<circle cx="405.4" cy="110.1" r="1.15" fill="#1b4c80"/>
<circle cx="404.0" cy="105.4" r="1.15" fill="#1b4c80"/>
<circle cx="429.2" cy="104.3" r="1.15" fill="#1b4c80"/>
<circle cx="424.4" cy="102.8" r="1.15" fill="#1b4c80"/>
<circle cx="405.7" cy="103.3" r="1.15" fill="#1b4c80"/>
<circle cx="423.8" cy="104.7" r="1.15" fill="#1b4c80"/>
<circle cx="426.8" cy="105.0" r="1.15" fill="#1b4c80"/>
<circle cx="425.7" cy="104.7" r="1.15" fill="#1b4c80"/>
<circle cx="417.1" cy="106.4" r="1.15" fill="#1b4c80"/>
<circle cx="419.0" cy="101.4" r="1.15" fill="#1b4c80"/>
<circle cx="418.2" cy="105.2" r="1.15" fill="#1b4c80"/>
<circle cx="402.6" cy="103.6" r="1.15" fill="#1b4c80"/>
<circle cx="416.8" cy="104.0" r="1.15" fill="#1b4c80"/>
<circle cx="401.2" cy="107.9" r="1.15" fill="#1b4c80"/>
<circle cx="422.6" cy="110.8" r="1.15" fill="#1b4c80"/>
<circle cx="424.5" cy="105.7" r="1.15" fill="#1b4c80"/>
<circle cx="414.3" cy="108.1" r="1.15" fill="#1b4c80"/>
<circle cx="407.0" cy="108.0" r="1.15" fill="#1b4c80"/>
<circle cx="413.4" cy="111.5" r="1.15" fill="#1b4c80"/>
<circle cx="416.8" cy="110.4" r="1.15" fill="#1b4c80"/>
<circle cx="411.2" cy="109.1" r="1.15" fill="#1b4c80"/>
<circle cx="425.6" cy="107.7" r="1.15" fill="#1b4c80"/>
<circle cx="425.6" cy="107.3" r="1.15" fill="#1b4c80"/>
<circle cx="409.8" cy="106.6" r="1.15" fill="#1b4c80"/>
<circle cx="423.1" cy="107.4" r="1.15" fill="#1b4c80"/>
<circle cx="429.4" cy="108.3" r="1.15" fill="#1b4c80"/>
<circle cx="423.3" cy="106.1" r="1.15" fill="#1b4c80"/>
<circle cx="404.3" cy="104.9" r="1.15" fill="#1b4c80"/>
<circle cx="421.1" cy="101.6" r="1.15" fill="#1b4c80"/>
<circle cx="414.2" cy="102.5" r="1.15" fill="#1b4c80"/>
<circle cx="412.8" cy="101.3" r="1.15" fill="#1b4c80"/>
<circle cx="427.6" cy="101.8" r="1.15" fill="#1b4c80"/>
<circle cx="422.2" cy="106.8" r="1.15" fill="#1b4c80"/>
<circle cx="425.3" cy="98.0" r="1.15" fill="#1b4c80"/>
<circle cx="421.8" cy="109.5" r="1.15" fill="#1b4c80"/>
<circle cx="425.6" cy="105.7" r="1.15" fill="#1b4c80"/>
<circle cx="413.5" cy="106.3" r="1.15" fill="#1b4c80"/>
<circle cx="428.3" cy="103.4" r="1.15" fill="#1b4c80"/>
<circle cx="413.8" cy="104.1" r="1.15" fill="#1b4c80"/>
<circle cx="409.7" cy="102.4" r="1.15" fill="#1b4c80"/>
<circle cx="402.5" cy="96.5" r="1.15" fill="#1b4c80"/>
<circle cx="404.0" cy="97.5" r="1.15" fill="#1b4c80"/>
<circle cx="428.0" cy="94.0" r="1.15" fill="#1b4c80"/>
<circle cx="429.5" cy="92.5" r="1.15" fill="#1b4c80"/>
<circle cx="427.0" cy="96.5" r="1.15" fill="#1b4c80"/>
<circle cx="415.0" cy="96.0" r="1.15" fill="#1b4c80"/>
<circle cx="459.3" cy="119.0" r="1.15" fill="#1b4c80"/>
<circle cx="512.4" cy="120.2" r="1.15" fill="#1b4c80"/>
<circle cx="508.3" cy="119.8" r="1.15" fill="#1b4c80"/>
<circle cx="493.2" cy="116.1" r="1.15" fill="#1b4c80"/>
<circle cx="451.0" cy="119.1" r="1.15" fill="#1b4c80"/>
<circle cx="504.4" cy="119.7" r="1.15" fill="#1b4c80"/>
<circle cx="457.6" cy="120.0" r="1.15" fill="#1b4c80"/>
<circle cx="496.7" cy="116.4" r="1.15" fill="#1b4c80"/>
<circle cx="438.8" cy="120.5" r="1.15" fill="#1b4c80"/>
<circle cx="460.8" cy="118.1" r="1.15" fill="#1b4c80"/>
<circle cx="511.1" cy="120.7" r="1.15" fill="#1b4c80"/>
<circle cx="475.2" cy="121.4" r="1.15" fill="#1b4c80"/>
<circle cx="464.2" cy="121.9" r="1.15" fill="#1b4c80"/>
<circle cx="437.5" cy="117.6" r="1.15" fill="#1b4c80"/>
<circle cx="454.1" cy="119.8" r="1.15" fill="#1b4c80"/>
<circle cx="490.1" cy="119.3" r="1.15" fill="#1b4c80"/>
<circle cx="444.8" cy="116.1" r="1.15" fill="#1b4c80"/>
<circle cx="492.7" cy="120.5" r="1.15" fill="#1b4c80"/>
<circle cx="450.9" cy="119.5" r="1.15" fill="#1b4c80"/>
<circle cx="447.6" cy="120.1" r="1.15" fill="#1b4c80"/>
<circle cx="511.0" cy="118.0" r="1.15" fill="#1b4c80"/>
<circle cx="480.2" cy="117.6" r="1.15" fill="#1b4c80"/>
<circle cx="455.5" cy="123.7" r="1.15" fill="#1b4c80"/>
<circle cx="476.8" cy="119.8" r="1.15" fill="#1b4c80"/>
<circle cx="484.5" cy="115.8" r="1.15" fill="#1b4c80"/>
<circle cx="467.8" cy="119.3" r="1.15" fill="#1b4c80"/>
<circle cx="451.4" cy="116.6" r="1.15" fill="#1b4c80"/>
<circle cx="513.1" cy="121.2" r="1.15" fill="#1b4c80"/>
<circle cx="502.3" cy="118.0" r="1.15" fill="#1b4c80"/>
<circle cx="462.6" cy="119.9" r="1.15" fill="#1b4c80"/>
<circle cx="439.0" cy="120.1" r="1.15" fill="#1b4c80"/>
<circle cx="482.5" cy="121.1" r="1.15" fill="#1b4c80"/>
<circle cx="436.1" cy="123.0" r="1.15" fill="#1b4c80"/>
<circle cx="456.2" cy="121.7" r="1.15" fill="#1b4c80"/>
<circle cx="433.8" cy="125.5" r="1.15" fill="#1b4c80"/>
<circle cx="477.8" cy="119.9" r="1.15" fill="#1b4c80"/>
<circle cx="435.4" cy="124.2" r="1.15" fill="#1b4c80"/>
<circle cx="510.9" cy="119.8" r="1.15" fill="#1b4c80"/>
<circle cx="490.7" cy="121.5" r="1.15" fill="#1b4c80"/>
<circle cx="460.8" cy="121.9" r="1.15" fill="#1b4c80"/>
<circle cx="439.4" cy="119.5" r="1.15" fill="#1b4c80"/>
<circle cx="462.0" cy="122.7" r="1.15" fill="#1b4c80"/>
<circle cx="448.8" cy="120.1" r="1.15" fill="#1b4c80"/>
<circle cx="460.7" cy="120.7" r="1.15" fill="#1b4c80"/>
<circle cx="469.6" cy="119.9" r="1.15" fill="#1b4c80"/>
<circle cx="500.3" cy="119.1" r="1.15" fill="#1b4c80"/>
<circle cx="432.5" cy="118.4" r="1.15" fill="#1b4c80"/>
<circle cx="489.8" cy="119.8" r="1.15" fill="#1b4c80"/>
<circle cx="439.9" cy="118.0" r="1.15" fill="#1b4c80"/>
<circle cx="467.0" cy="119.6" r="1.15" fill="#1b4c80"/>
<circle cx="435.7" cy="117.8" r="1.15" fill="#1b4c80"/>
<circle cx="476.6" cy="121.1" r="1.15" fill="#1b4c80"/>
<circle cx="448.7" cy="119.4" r="1.15" fill="#1b4c80"/>
<circle cx="510.8" cy="117.2" r="1.15" fill="#1b4c80"/>
<circle cx="439.2" cy="122.2" r="1.15" fill="#1b4c80"/>
<circle cx="444.3" cy="118.5" r="1.15" fill="#1b4c80"/>
<circle cx="447.8" cy="121.1" r="1.15" fill="#1b4c80"/>
<circle cx="468.7" cy="120.2" r="1.15" fill="#1b4c80"/>
<circle cx="436.3" cy="117.5" r="1.15" fill="#1b4c80"/>
<circle cx="485.7" cy="120.0" r="1.15" fill="#1b4c80"/>
<circle cx="440.1" cy="122.2" r="1.15" fill="#1b4c80"/>
<circle cx="430.9" cy="119.2" r="1.15" fill="#1b4c80"/>
<circle cx="473.2" cy="121.5" r="1.15" fill="#1b4c80"/>
<circle cx="475.1" cy="119.8" r="1.15" fill="#1b4c80"/>
<circle cx="471.9" cy="117.4" r="1.15" fill="#1b4c80"/>
<circle cx="497.5" cy="117.9" r="1.15" fill="#1b4c80"/>
<circle cx="492.2" cy="120.6" r="1.15" fill="#1b4c80"/>
<circle cx="445.3" cy="117.7" r="1.15" fill="#1b4c80"/>
<circle cx="480.2" cy="120.1" r="1.15" fill="#1b4c80"/>
<circle cx="433.0" cy="118.9" r="1.15" fill="#1b4c80"/>
<circle cx="441.8" cy="120.9" r="1.15" fill="#1b4c80"/>
<circle cx="508.9" cy="122.3" r="1.15" fill="#1b4c80"/>
<circle cx="487.0" cy="123.9" r="1.15" fill="#1b4c80"/>
<circle cx="470.1" cy="119.8" r="1.15" fill="#1b4c80"/>
<circle cx="509.7" cy="113.9" r="1.15" fill="#1b4c80"/>
<circle cx="448.2" cy="119.9" r="1.15" fill="#1b4c80"/>
<circle cx="447.0" cy="122.2" r="1.15" fill="#1b4c80"/>
<circle cx="510.7" cy="119.5" r="1.15" fill="#1b4c80"/>
<circle cx="464.2" cy="125.8" r="1.15" fill="#1b4c80"/>
<circle cx="450.0" cy="122.5" r="1.15" fill="#1b4c80"/>
<circle cx="443.0" cy="120.7" r="1.15" fill="#1b4c80"/>
<circle cx="476.0" cy="117.2" r="1.15" fill="#1b4c80"/>
<circle cx="451.9" cy="117.7" r="1.15" fill="#1b4c80"/>
<circle cx="506.5" cy="119.0" r="1.15" fill="#1b4c80"/>
<circle cx="441.4" cy="117.8" r="1.15" fill="#1b4c80"/>
<circle cx="465.5" cy="122.2" r="1.15" fill="#1b4c80"/>
<circle cx="498.8" cy="119.8" r="1.15" fill="#1b4c80"/>
<circle cx="448.7" cy="117.7" r="1.15" fill="#1b4c80"/>
<circle cx="492.5" cy="122.3" r="1.15" fill="#1b4c80"/>
<circle cx="466.6" cy="118.9" r="1.15" fill="#1b4c80"/>
<circle cx="511.3" cy="120.1" r="1.15" fill="#1b4c80"/>
<circle cx="444.7" cy="119.0" r="1.15" fill="#1b4c80"/>
<circle cx="436.2" cy="118.0" r="1.15" fill="#1b4c80"/>
<circle cx="489.3" cy="120.6" r="1.15" fill="#1b4c80"/>
<circle cx="467.5" cy="117.3" r="1.15" fill="#1b4c80"/>
<circle cx="461.0" cy="119.5" r="1.15" fill="#1b4c80"/>
<circle cx="476.9" cy="117.3" r="1.15" fill="#1b4c80"/>
<circle cx="462.1" cy="120.4" r="1.15" fill="#1b4c80"/>
<circle cx="510.4" cy="118.3" r="1.15" fill="#1b4c80"/>
<circle cx="451.6" cy="117.6" r="1.15" fill="#1b4c80"/>
<circle cx="488.9" cy="122.1" r="1.15" fill="#1b4c80"/>
<circle cx="457.6" cy="120.8" r="1.15" fill="#1b4c80"/>
<circle cx="467.4" cy="117.9" r="1.15" fill="#1b4c80"/>
<circle cx="504.7" cy="122.1" r="1.15" fill="#1b4c80"/>
<circle cx="457.2" cy="126.0" r="1.15" fill="#1b4c80"/>
<circle cx="511.6" cy="118.6" r="1.15" fill="#1b4c80"/>
<circle cx="463.7" cy="121.5" r="1.15" fill="#1b4c80"/>
<circle cx="489.5" cy="121.7" r="1.15" fill="#1b4c80"/>
<circle cx="471.5" cy="115.4" r="1.15" fill="#1b4c80"/>
<circle cx="503.8" cy="124.2" r="1.15" fill="#1b4c80"/>
<circle cx="472.8" cy="121.4" r="1.15" fill="#1b4c80"/>
<circle cx="469.4" cy="117.8" r="1.15" fill="#1b4c80"/>
<circle cx="457.9" cy="117.4" r="1.15" fill="#1b4c80"/>
<circle cx="456.4" cy="118.9" r="1.15" fill="#1b4c80"/>
<circle cx="488.2" cy="118.1" r="1.15" fill="#1b4c80"/>
<circle cx="439.8" cy="115.8" r="1.15" fill="#1b4c80"/>
<circle cx="454.5" cy="118.0" r="1.15" fill="#1b4c80"/>
<circle cx="479.7" cy="119.1" r="1.15" fill="#1b4c80"/>
<circle cx="461.0" cy="121.0" r="1.15" fill="#1b4c80"/>
<circle cx="435.4" cy="116.7" r="1.15" fill="#1b4c80"/>
<circle cx="485.9" cy="119.6" r="1.15" fill="#1b4c80"/>
<circle cx="480.0" cy="119.0" r="1.15" fill="#1b4c80"/>
<circle cx="477.1" cy="122.7" r="1.15" fill="#1b4c80"/>
<circle cx="437.2" cy="120.3" r="1.15" fill="#1b4c80"/>
<circle cx="444.6" cy="121.9" r="1.15" fill="#1b4c80"/>
<circle cx="449.9" cy="112.7" r="1.15" fill="#1b4c80"/>
<circle cx="511.5" cy="120.5" r="1.15" fill="#1b4c80"/>
<circle cx="456.9" cy="121.2" r="1.15" fill="#1b4c80"/>
<circle cx="470.2" cy="119.5" r="1.15" fill="#1b4c80"/>
<circle cx="443.6" cy="120.3" r="1.15" fill="#1b4c80"/>
<circle cx="482.4" cy="119.0" r="1.15" fill="#1b4c80"/>
<circle cx="491.2" cy="118.2" r="1.15" fill="#1b4c80"/>
<circle cx="471.3" cy="121.1" r="1.15" fill="#1b4c80"/>
<circle cx="434.3" cy="124.6" r="1.15" fill="#1b4c80"/>
<circle cx="488.2" cy="117.4" r="1.15" fill="#1b4c80"/>
<circle cx="497.0" cy="121.4" r="1.15" fill="#1b4c80"/>
<circle cx="437.9" cy="118.2" r="1.15" fill="#1b4c80"/>
<circle cx="497.5" cy="118.9" r="1.15" fill="#1b4c80"/>
<circle cx="449.4" cy="122.5" r="1.15" fill="#1b4c80"/>
<circle cx="441.6" cy="121.5" r="1.15" fill="#1b4c80"/>
<circle cx="478.9" cy="121.5" r="1.15" fill="#1b4c80"/>
<circle cx="451.7" cy="121.6" r="1.15" fill="#1b4c80"/>
<circle cx="474.8" cy="119.4" r="1.15" fill="#1b4c80"/>
<circle cx="448.6" cy="118.9" r="1.15" fill="#1b4c80"/>
<circle cx="483.7" cy="118.6" r="1.15" fill="#1b4c80"/>
<circle cx="447.2" cy="116.4" r="1.15" fill="#1b4c80"/>
<circle cx="485.7" cy="119.4" r="1.15" fill="#1b4c80"/>
<circle cx="494.8" cy="120.6" r="1.15" fill="#1b4c80"/>
<circle cx="490.2" cy="122.6" r="1.15" fill="#1b4c80"/>
<circle cx="456.5" cy="118.4" r="1.15" fill="#1b4c80"/>
<circle cx="434.7" cy="115.0" r="1.15" fill="#1b4c80"/>
<circle cx="508.3" cy="119.0" r="1.15" fill="#1b4c80"/>
<circle cx="468.8" cy="119.8" r="1.15" fill="#1b4c80"/>
<circle cx="473.8" cy="120.4" r="1.15" fill="#1b4c80"/>
<circle cx="490.2" cy="116.4" r="1.15" fill="#1b4c80"/>
<circle cx="435.9" cy="118.7" r="1.15" fill="#1b4c80"/>
<circle cx="470.6" cy="119.5" r="1.15" fill="#1b4c80"/>
<circle cx="456.7" cy="123.1" r="1.15" fill="#1b4c80"/>
<circle cx="489.8" cy="119.7" r="1.15" fill="#1b4c80"/>
<circle cx="507.9" cy="117.8" r="1.15" fill="#1b4c80"/>
<circle cx="482.0" cy="121.1" r="1.15" fill="#1b4c80"/>
<circle cx="453.4" cy="115.3" r="1.15" fill="#1b4c80"/>
<circle cx="487.5" cy="122.1" r="1.15" fill="#1b4c80"/>
<circle cx="485.5" cy="120.1" r="1.15" fill="#1b4c80"/>
<circle cx="473.7" cy="121.2" r="1.15" fill="#1b4c80"/>
<circle cx="491.8" cy="113.9" r="1.15" fill="#1b4c80"/>
<circle cx="488.8" cy="118.2" r="1.15" fill="#1b4c80"/>
<circle cx="464.1" cy="122.5" r="1.15" fill="#1b4c80"/>
<circle cx="462.5" cy="120.5" r="1.15" fill="#1b4c80"/>
<circle cx="504.9" cy="116.9" r="1.15" fill="#1b4c80"/>
<circle cx="476.4" cy="123.1" r="1.15" fill="#1b4c80"/>
<circle cx="490.5" cy="121.8" r="1.15" fill="#1b4c80"/>
<circle cx="449.0" cy="121.2" r="1.15" fill="#1b4c80"/>
<circle cx="463.0" cy="122.5" r="1.15" fill="#1b4c80"/>
<circle cx="496.1" cy="119.5" r="1.15" fill="#1b4c80"/>
<circle cx="502.9" cy="115.5" r="1.15" fill="#1b4c80"/>
<circle cx="497.4" cy="121.6" r="1.15" fill="#1b4c80"/>
<circle cx="488.4" cy="119.9" r="1.15" fill="#1b4c80"/>
<circle cx="481.7" cy="118.4" r="1.15" fill="#1b4c80"/>
<circle cx="487.3" cy="122.2" r="1.15" fill="#1b4c80"/>
<circle cx="434.7" cy="121.2" r="1.15" fill="#1b4c80"/>
<circle cx="496.1" cy="119.5" r="1.15" fill="#1b4c80"/>
<circle cx="433.3" cy="127.6" r="1.15" fill="#1b4c80"/>
<circle cx="456.7" cy="121.4" r="1.15" fill="#1b4c80"/>
<circle cx="509.8" cy="118.7" r="1.15" fill="#1b4c80"/>
<circle cx="453.9" cy="122.7" r="1.15" fill="#1b4c80"/>
<circle cx="431.1" cy="117.7" r="1.15" fill="#1b4c80"/>
<circle cx="477.6" cy="116.8" r="1.15" fill="#1b4c80"/>
<circle cx="498.6" cy="119.1" r="1.15" fill="#1b4c80"/>
<circle cx="444.4" cy="118.9" r="1.15" fill="#1b4c80"/>
<circle cx="455.8" cy="117.4" r="1.15" fill="#1b4c80"/>
<circle cx="455.8" cy="119.4" r="1.15" fill="#1b4c80"/>
<circle cx="489.9" cy="119.2" r="1.15" fill="#1b4c80"/>
<circle cx="444.5" cy="118.8" r="1.15" fill="#1b4c80"/>
<circle cx="495.0" cy="122.3" r="1.15" fill="#1b4c80"/>
<circle cx="475.6" cy="116.0" r="1.15" fill="#1b4c80"/>
<circle cx="496.7" cy="122.3" r="1.15" fill="#1b4c80"/>
<circle cx="469.5" cy="115.3" r="1.15" fill="#1b4c80"/>
<circle cx="492.9" cy="121.0" r="1.15" fill="#1b4c80"/>
<circle cx="435.4" cy="116.2" r="1.15" fill="#1b4c80"/>
<circle cx="504.5" cy="119.8" r="1.15" fill="#1b4c80"/>
<circle cx="481.7" cy="119.3" r="1.15" fill="#1b4c80"/>
<circle cx="434.4" cy="121.7" r="1.15" fill="#1b4c80"/>
<circle cx="470.0" cy="117.5" r="1.15" fill="#1b4c80"/>
<circle cx="483.6" cy="121.3" r="1.15" fill="#1b4c80"/>
<circle cx="459.0" cy="117.4" r="1.15" fill="#1b4c80"/>
<circle cx="492.1" cy="117.1" r="1.15" fill="#1b4c80"/>
<circle cx="513.8" cy="122.7" r="1.15" fill="#1b4c80"/>
<circle cx="435.7" cy="119.2" r="1.15" fill="#1b4c80"/>
<circle cx="449.1" cy="119.6" r="1.15" fill="#1b4c80"/>
<circle cx="475.6" cy="121.9" r="1.15" fill="#1b4c80"/>
<circle cx="485.0" cy="118.3" r="1.15" fill="#1b4c80"/>
<circle cx="468.8" cy="119.1" r="1.15" fill="#1b4c80"/>
<circle cx="513.9" cy="119.3" r="1.15" fill="#1b4c80"/>
<circle cx="454.4" cy="115.6" r="1.15" fill="#1b4c80"/>
<circle cx="496.7" cy="119.2" r="1.15" fill="#1b4c80"/>
<circle cx="434.9" cy="115.7" r="1.15" fill="#1b4c80"/>
<circle cx="443.3" cy="123.8" r="1.15" fill="#1b4c80"/>
<circle cx="436.5" cy="117.6" r="1.15" fill="#1b4c80"/>
<circle cx="473.3" cy="120.3" r="1.15" fill="#1b4c80"/>
<circle cx="471.3" cy="119.5" r="1.15" fill="#1b4c80"/>
<circle cx="480.8" cy="119.2" r="1.15" fill="#1b4c80"/>
<circle cx="499.9" cy="112.9" r="1.15" fill="#1b4c80"/>
<circle cx="460.4" cy="118.9" r="1.15" fill="#1b4c80"/>
<circle cx="447.4" cy="122.3" r="1.15" fill="#1b4c80"/>
<circle cx="505.6" cy="119.8" r="1.15" fill="#1b4c80"/>
<circle cx="472.9" cy="121.6" r="1.15" fill="#1b4c80"/>
<circle cx="483.0" cy="118.6" r="1.15" fill="#1b4c80"/>
<circle cx="465.6" cy="118.4" r="1.15" fill="#1b4c80"/>
<circle cx="465.3" cy="118.7" r="1.15" fill="#1b4c80"/>
<circle cx="469.3" cy="119.7" r="1.15" fill="#1b4c80"/>
<circle cx="490.2" cy="119.6" r="1.15" fill="#1b4c80"/>
<circle cx="449.9" cy="119.4" r="1.15" fill="#1b4c80"/>
<circle cx="480.6" cy="121.7" r="1.15" fill="#1b4c80"/>
<circle cx="447.0" cy="116.2" r="1.15" fill="#1b4c80"/>
<circle cx="489.8" cy="118.0" r="1.15" fill="#1b4c80"/>
<circle cx="452.9" cy="114.2" r="1.15" fill="#1b4c80"/>
<circle cx="437.3" cy="114.9" r="1.15" fill="#1b4c80"/>
<circle cx="496.9" cy="119.1" r="1.15" fill="#1b4c80"/>
<circle cx="483.7" cy="118.6" r="1.15" fill="#1b4c80"/>
<circle cx="458.2" cy="119.7" r="1.15" fill="#1b4c80"/>
<circle cx="443.5" cy="117.7" r="1.15" fill="#1b4c80"/>
<circle cx="481.9" cy="119.1" r="1.15" fill="#1b4c80"/>
<circle cx="437.1" cy="120.8" r="1.15" fill="#1b4c80"/>
<circle cx="456.5" cy="118.0" r="1.15" fill="#1b4c80"/>
<circle cx="466.9" cy="119.5" r="1.15" fill="#1b4c80"/>
<circle cx="470.8" cy="121.4" r="1.15" fill="#1b4c80"/>
<circle cx="479.7" cy="118.8" r="1.15" fill="#1b4c80"/>
<circle cx="444.2" cy="122.8" r="1.15" fill="#1b4c80"/>
<circle cx="463.9" cy="120.7" r="1.15" fill="#1b4c80"/>
<circle cx="432.6" cy="113.6" r="1.15" fill="#1b4c80"/>
<circle cx="434.1" cy="114.3" r="1.15" fill="#1b4c80"/>
<circle cx="430.9" cy="121.8" r="1.15" fill="#1b4c80"/>
<circle cx="433.4" cy="108.1" r="1.15" fill="#1b4c80"/>
<circle cx="435.1" cy="119.7" r="1.15" fill="#1b4c80"/>
<circle cx="432.1" cy="118.1" r="1.15" fill="#1b4c80"/>
<circle cx="435.5" cy="114.4" r="1.15" fill="#1b4c80"/>
<circle cx="432.6" cy="112.8" r="1.15" fill="#1b4c80"/>
<circle cx="433.3" cy="118.6" r="1.15" fill="#1b4c80"/>
<circle cx="434.4" cy="123.2" r="1.15" fill="#1b4c80"/>
<circle cx="430.9" cy="113.9" r="1.15" fill="#1b4c80"/>
<circle cx="435.1" cy="120.7" r="1.15" fill="#1b4c80"/>
<circle cx="412.0" cy="101.5" r="1.5" fill="#c8102e"/>
<path d="M310 203.8H516" stroke="#2f6f9f" stroke-width="1.2"/>
<circle cx="444.7" cy="203.5" r="0.9" fill="#1b4c80"/>
<circle cx="504.7" cy="203.3" r="0.9" fill="#1b4c80"/>
<circle cx="437.8" cy="203.4" r="0.9" fill="#1b4c80"/>
<circle cx="364.5" cy="203.9" r="0.9" fill="#1b4c80"/>
<circle cx="480.3" cy="204.1" r="0.9" fill="#1b4c80"/>
<circle cx="426.1" cy="203.8" r="0.9" fill="#1b4c80"/>
<circle cx="428.8" cy="203.0" r="0.9" fill="#1b4c80"/>
<circle cx="404.1" cy="204.5" r="0.9" fill="#1b4c80"/>
<circle cx="434.9" cy="204.3" r="0.9" fill="#1b4c80"/>
<circle cx="425.6" cy="203.4" r="0.9" fill="#1b4c80"/>
<circle cx="401.2" cy="203.2" r="0.9" fill="#1b4c80"/>
<circle cx="477.8" cy="204.1" r="0.9" fill="#1b4c80"/>
<circle cx="410.5" cy="203.0" r="0.9" fill="#1b4c80"/>
<circle cx="436.1" cy="204.5" r="0.9" fill="#1b4c80"/>
<circle cx="483.8" cy="204.1" r="0.9" fill="#1b4c80"/>
<circle cx="355.1" cy="204.3" r="0.9" fill="#1b4c80"/>
<circle cx="468.9" cy="203.5" r="0.9" fill="#1b4c80"/>
<circle cx="505.0" cy="202.6" r="0.9" fill="#1b4c80"/>
<circle cx="438.1" cy="203.9" r="0.9" fill="#1b4c80"/>
<circle cx="501.3" cy="203.6" r="0.9" fill="#1b4c80"/>
<circle cx="418.4" cy="204.0" r="0.9" fill="#1b4c80"/>
<circle cx="490.1" cy="204.5" r="0.9" fill="#1b4c80"/>
<circle cx="410.2" cy="204.5" r="0.9" fill="#1b4c80"/>
<circle cx="472.3" cy="204.3" r="0.9" fill="#1b4c80"/>
<circle cx="445.9" cy="203.8" r="0.9" fill="#1b4c80"/>
<circle cx="348.7" cy="203.7" r="0.9" fill="#1b4c80"/>
<circle cx="451.5" cy="203.9" r="0.9" fill="#1b4c80"/>
<circle cx="375.6" cy="203.9" r="0.9" fill="#1b4c80"/>
<circle cx="458.7" cy="204.2" r="0.9" fill="#1b4c80"/>
<circle cx="510.5" cy="203.6" r="0.9" fill="#1b4c80"/>
<circle cx="418.4" cy="203.4" r="0.9" fill="#1b4c80"/>
<circle cx="384.3" cy="203.9" r="0.9" fill="#1b4c80"/>
<circle cx="513.1" cy="203.6" r="0.9" fill="#1b4c80"/>
<circle cx="404.3" cy="203.4" r="0.9" fill="#1b4c80"/>
<circle cx="469.6" cy="204.3" r="0.9" fill="#1b4c80"/>
<circle cx="460.0" cy="203.9" r="0.9" fill="#1b4c80"/>
<circle cx="478.7" cy="203.2" r="0.9" fill="#1b4c80"/>
<circle cx="494.0" cy="203.4" r="0.9" fill="#1b4c80"/>
<circle cx="446.6" cy="203.4" r="0.9" fill="#1b4c80"/>
<circle cx="504.4" cy="204.1" r="0.9" fill="#1b4c80"/>
<circle cx="490.2" cy="204.3" r="0.9" fill="#1b4c80"/>
<circle cx="409.8" cy="203.4" r="0.9" fill="#1b4c80"/>
<circle cx="461.7" cy="204.6" r="0.9" fill="#1b4c80"/>
<circle cx="477.8" cy="203.7" r="0.9" fill="#1b4c80"/>
<circle cx="432.0" cy="204.6" r="0.9" fill="#1b4c80"/>
<circle cx="415.0" cy="203.7" r="0.9" fill="#1b4c80"/>
<circle cx="458.1" cy="203.0" r="0.9" fill="#1b4c80"/>
<circle cx="414.1" cy="203.4" r="0.9" fill="#1b4c80"/>
<circle cx="507.2" cy="204.8" r="0.9" fill="#1b4c80"/>
<circle cx="449.0" cy="203.4" r="0.9" fill="#1b4c80"/>
<circle cx="390.5" cy="203.9" r="0.9" fill="#1b4c80"/>
<circle cx="483.8" cy="202.8" r="0.9" fill="#1b4c80"/>
<circle cx="512.4" cy="203.5" r="0.9" fill="#1b4c80"/>
<circle cx="473.0" cy="203.3" r="0.9" fill="#1b4c80"/>
<circle cx="389.3" cy="204.2" r="0.9" fill="#1b4c80"/>
<circle cx="427.6" cy="204.5" r="0.9" fill="#1b4c80"/>
<circle cx="391.5" cy="204.7" r="0.9" fill="#1b4c80"/>
<circle cx="472.9" cy="204.3" r="0.9" fill="#1b4c80"/>
<circle cx="370.2" cy="202.7" r="0.9" fill="#1b4c80"/>
<circle cx="444.1" cy="203.2" r="0.9" fill="#1b4c80"/>
<circle cx="417.2" cy="203.9" r="0.9" fill="#1b4c80"/>
<circle cx="476.3" cy="203.6" r="0.9" fill="#1b4c80"/>
<circle cx="364.2" cy="202.9" r="0.9" fill="#1b4c80"/>
<circle cx="388.4" cy="204.0" r="0.9" fill="#1b4c80"/>
<circle cx="454.6" cy="204.2" r="0.9" fill="#1b4c80"/>
<circle cx="467.0" cy="204.0" r="0.9" fill="#1b4c80"/>
<circle cx="381.3" cy="203.6" r="0.9" fill="#1b4c80"/>
<circle cx="500.5" cy="204.2" r="0.9" fill="#1b4c80"/>
<circle cx="504.4" cy="204.2" r="0.9" fill="#1b4c80"/>
<circle cx="441.6" cy="203.7" r="0.9" fill="#1b4c80"/>
<circle cx="481.6" cy="203.7" r="0.9" fill="#1b4c80"/>
<circle cx="490.9" cy="203.1" r="0.9" fill="#1b4c80"/>
<circle cx="412.8" cy="204.2" r="0.9" fill="#1b4c80"/>
<circle cx="365.0" cy="203.5" r="0.9" fill="#1b4c80"/>
<circle cx="369.5" cy="205.1" r="0.9" fill="#1b4c80"/>
<circle cx="436.4" cy="204.2" r="0.9" fill="#1b4c80"/>
<circle cx="470.1" cy="204.2" r="0.9" fill="#1b4c80"/>
<circle cx="408.6" cy="204.2" r="0.9" fill="#1b4c80"/>
<circle cx="387.1" cy="204.3" r="0.9" fill="#1b4c80"/>
<circle cx="359.7" cy="203.8" r="0.9" fill="#1b4c80"/>
<circle cx="496.0" cy="204.2" r="0.9" fill="#1b4c80"/>
<circle cx="424.3" cy="203.8" r="0.9" fill="#1b4c80"/>
<circle cx="466.5" cy="203.6" r="0.9" fill="#1b4c80"/>
<circle cx="502.6" cy="203.2" r="0.9" fill="#1b4c80"/>
<circle cx="482.7" cy="203.9" r="0.9" fill="#1b4c80"/>
<circle cx="429.5" cy="203.9" r="0.9" fill="#1b4c80"/>
<circle cx="401.8" cy="204.3" r="0.9" fill="#1b4c80"/>
<circle cx="425.1" cy="204.7" r="0.9" fill="#1b4c80"/>
<circle cx="477.8" cy="203.7" r="0.9" fill="#1b4c80"/>
<circle cx="382.4" cy="204.8" r="0.9" fill="#1b4c80"/>
<circle cx="448.6" cy="204.5" r="0.9" fill="#1b4c80"/>
<circle cx="451.6" cy="203.5" r="0.9" fill="#1b4c80"/>
<circle cx="435.1" cy="204.0" r="0.9" fill="#1b4c80"/>
<circle cx="361.6" cy="203.3" r="0.9" fill="#1b4c80"/>
<circle cx="481.1" cy="203.4" r="0.9" fill="#1b4c80"/>
<circle cx="484.1" cy="202.9" r="0.9" fill="#1b4c80"/>
<circle cx="507.6" cy="204.0" r="0.9" fill="#1b4c80"/>
<circle cx="460.6" cy="203.6" r="0.9" fill="#1b4c80"/>
<circle cx="438.6" cy="203.4" r="0.9" fill="#1b4c80"/>
<circle cx="428.3" cy="203.9" r="0.9" fill="#1b4c80"/>
<circle cx="438.6" cy="203.7" r="0.9" fill="#1b4c80"/>
<circle cx="372.4" cy="203.0" r="0.9" fill="#1b4c80"/>
<circle cx="407.1" cy="205.1" r="0.9" fill="#1b4c80"/>
<circle cx="368.7" cy="203.3" r="0.9" fill="#1b4c80"/>
<circle cx="508.4" cy="203.2" r="0.9" fill="#1b4c80"/>
<circle cx="393.0" cy="204.1" r="0.9" fill="#1b4c80"/>
<circle cx="440.2" cy="204.4" r="0.9" fill="#1b4c80"/>
<circle cx="406.2" cy="203.5" r="0.9" fill="#1b4c80"/>
<circle cx="505.4" cy="203.3" r="0.9" fill="#1b4c80"/>
<circle cx="490.8" cy="203.2" r="0.9" fill="#1b4c80"/>
<circle cx="458.2" cy="203.3" r="0.9" fill="#1b4c80"/>
<circle cx="395.7" cy="204.2" r="0.9" fill="#1b4c80"/>
<circle cx="386.3" cy="203.8" r="0.9" fill="#1b4c80"/>
<circle cx="438.5" cy="203.7" r="0.9" fill="#1b4c80"/>
<circle cx="379.8" cy="204.4" r="0.9" fill="#1b4c80"/>
<circle cx="458.1" cy="204.3" r="0.9" fill="#1b4c80"/>
<circle cx="460.6" cy="205.1" r="0.9" fill="#1b4c80"/>
<circle cx="459.6" cy="203.0" r="0.9" fill="#1b4c80"/>
<circle cx="465.5" cy="203.9" r="0.9" fill="#1b4c80"/>
<circle cx="417.1" cy="203.7" r="0.9" fill="#1b4c80"/>
<circle cx="508.8" cy="203.5" r="0.9" fill="#1b4c80"/>
<circle cx="497.5" cy="204.3" r="0.9" fill="#1b4c80"/>
<circle cx="444.6" cy="203.7" r="0.9" fill="#1b4c80"/>
<circle cx="485.7" cy="203.6" r="0.9" fill="#1b4c80"/>
<circle cx="362.2" cy="203.6" r="0.9" fill="#1b4c80"/>
<circle cx="432.1" cy="204.7" r="0.9" fill="#1b4c80"/>
<circle cx="399.7" cy="203.1" r="0.9" fill="#1b4c80"/>
<circle cx="356.4" cy="204.1" r="0.9" fill="#1b4c80"/>
<circle cx="510.8" cy="204.3" r="0.9" fill="#1b4c80"/>
<circle cx="406.6" cy="204.2" r="0.9" fill="#1b4c80"/>
<circle cx="456.8" cy="205.2" r="0.9" fill="#1b4c80"/>
<circle cx="512.9" cy="203.2" r="0.9" fill="#1b4c80"/>
<circle cx="450.3" cy="203.5" r="0.9" fill="#1b4c80"/>
<circle cx="467.7" cy="203.5" r="0.9" fill="#1b4c80"/>
<circle cx="438.2" cy="203.0" r="0.9" fill="#1b4c80"/>
<circle cx="444.5" cy="204.5" r="0.9" fill="#1b4c80"/>
<circle cx="480.3" cy="204.0" r="0.9" fill="#1b4c80"/>
<circle cx="442.1" cy="204.2" r="0.9" fill="#1b4c80"/>
<circle cx="439.7" cy="203.2" r="0.9" fill="#1b4c80"/>
<circle cx="416.4" cy="204.0" r="0.9" fill="#1b4c80"/>
<circle cx="385.0" cy="203.7" r="0.9" fill="#1b4c80"/>
<circle cx="425.7" cy="204.6" r="0.9" fill="#1b4c80"/>
<circle cx="410.5" cy="203.3" r="0.9" fill="#1b4c80"/>
<circle cx="382.6" cy="204.4" r="0.9" fill="#1b4c80"/>
<circle cx="486.1" cy="203.1" r="0.9" fill="#1b4c80"/>
<circle cx="501.1" cy="203.9" r="0.9" fill="#1b4c80"/>
<circle cx="447.1" cy="203.8" r="0.9" fill="#1b4c80"/>
<circle cx="360.0" cy="203.9" r="0.9" fill="#1b4c80"/>
<circle cx="416.6" cy="203.5" r="0.9" fill="#1b4c80"/>
<circle cx="503.3" cy="204.3" r="0.9" fill="#1b4c80"/>
<circle cx="498.8" cy="203.6" r="0.9" fill="#1b4c80"/>
<circle cx="365.7" cy="203.2" r="0.9" fill="#1b4c80"/>
<circle cx="454.5" cy="204.1" r="0.9" fill="#1b4c80"/>
<circle cx="354.9" cy="204.3" r="0.9" fill="#1b4c80"/>
<circle cx="401.7" cy="204.4" r="0.9" fill="#1b4c80"/>
<circle cx="466.1" cy="204.2" r="0.9" fill="#1b4c80"/>
<circle cx="431.3" cy="204.1" r="0.9" fill="#1b4c80"/>
<circle cx="418.2" cy="204.3" r="0.9" fill="#1b4c80"/>
<circle cx="456.7" cy="204.6" r="0.9" fill="#1b4c80"/>
<circle cx="412.3" cy="204.3" r="0.9" fill="#1b4c80"/>
<circle cx="461.2" cy="204.2" r="0.9" fill="#1b4c80"/>
<circle cx="390.0" cy="203.7" r="0.9" fill="#1b4c80"/>
<circle cx="461.3" cy="203.4" r="0.9" fill="#1b4c80"/>
<circle cx="356.9" cy="203.8" r="0.9" fill="#1b4c80"/>
<circle cx="512.4" cy="203.9" r="0.9" fill="#1b4c80"/>
<circle cx="429.9" cy="203.6" r="0.9" fill="#1b4c80"/>
<circle cx="427.5" cy="204.0" r="0.9" fill="#1b4c80"/>
<circle cx="428.8" cy="204.4" r="0.9" fill="#1b4c80"/>
<circle cx="481.7" cy="203.4" r="0.9" fill="#1b4c80"/>
<circle cx="482.7" cy="204.8" r="0.9" fill="#1b4c80"/>
<circle cx="425.0" cy="204.1" r="0.9" fill="#1b4c80"/>
<circle cx="366.5" cy="204.1" r="0.9" fill="#1b4c80"/>
<circle cx="462.9" cy="202.5" r="0.9" fill="#1b4c80"/>
<circle cx="352.6" cy="203.1" r="0.9" fill="#1b4c80"/>
<circle cx="480.3" cy="204.0" r="0.9" fill="#1b4c80"/>
<circle cx="354.1" cy="204.0" r="0.9" fill="#1b4c80"/>
<circle cx="467.2" cy="203.3" r="0.9" fill="#1b4c80"/>
<circle cx="407.0" cy="204.3" r="0.9" fill="#1b4c80"/>
<circle cx="465.4" cy="203.5" r="0.9" fill="#1b4c80"/>
<circle cx="419.0" cy="205.1" r="0.9" fill="#1b4c80"/>
<circle cx="467.7" cy="204.2" r="0.9" fill="#1b4c80"/>
<circle cx="371.3" cy="203.2" r="0.9" fill="#1b4c80"/>
<circle cx="466.1" cy="204.1" r="0.9" fill="#1b4c80"/>
<circle cx="458.5" cy="204.0" r="0.9" fill="#1b4c80"/>
<circle cx="404.8" cy="204.9" r="0.9" fill="#1b4c80"/>
<circle cx="398.8" cy="202.5" r="0.9" fill="#1b4c80"/>
<circle cx="477.8" cy="204.1" r="0.9" fill="#1b4c80"/>
<circle cx="508.8" cy="203.2" r="0.9" fill="#1b4c80"/>
<circle cx="453.9" cy="204.3" r="0.9" fill="#1b4c80"/>
<circle cx="378.2" cy="203.5" r="0.9" fill="#1b4c80"/>
<circle cx="426.6" cy="203.4" r="0.9" fill="#1b4c80"/>
<circle cx="431.3" cy="204.1" r="0.9" fill="#1b4c80"/>
<circle cx="444.4" cy="203.8" r="0.9" fill="#1b4c80"/>
<circle cx="430.0" cy="204.1" r="0.9" fill="#1b4c80"/>
<circle cx="430.2" cy="203.1" r="0.9" fill="#1b4c80"/>
<circle cx="376.3" cy="204.1" r="0.9" fill="#1b4c80"/>
<circle cx="391.6" cy="203.4" r="0.9" fill="#1b4c80"/>
<circle cx="432.4" cy="202.9" r="0.9" fill="#1b4c80"/>
<circle cx="387.1" cy="203.2" r="0.9" fill="#1b4c80"/>
<circle cx="464.8" cy="203.7" r="0.9" fill="#1b4c80"/>
<circle cx="483.3" cy="202.9" r="0.9" fill="#1b4c80"/>
<circle cx="405.5" cy="203.8" r="0.9" fill="#1b4c80"/>
<circle cx="472.5" cy="203.7" r="0.9" fill="#1b4c80"/>
<circle cx="384.5" cy="203.4" r="0.9" fill="#1b4c80"/>
<circle cx="455.6" cy="203.4" r="0.9" fill="#1b4c80"/>
<circle cx="462.2" cy="203.1" r="0.9" fill="#1b4c80"/>
<circle cx="405.9" cy="205.0" r="0.9" fill="#1b4c80"/>
<circle cx="433.7" cy="204.0" r="0.9" fill="#1b4c80"/>
<circle cx="458.3" cy="204.6" r="0.9" fill="#1b4c80"/>
<circle cx="363.3" cy="203.5" r="0.9" fill="#1b4c80"/>
<circle cx="469.6" cy="203.2" r="0.9" fill="#1b4c80"/>
<circle cx="465.3" cy="203.7" r="0.9" fill="#1b4c80"/>
<circle cx="496.3" cy="204.3" r="0.9" fill="#1b4c80"/>
<circle cx="419.2" cy="202.9" r="0.9" fill="#1b4c80"/>
<circle cx="416.2" cy="203.2" r="0.9" fill="#1b4c80"/>
<circle cx="392.5" cy="204.9" r="0.9" fill="#1b4c80"/>
<circle cx="489.1" cy="203.2" r="0.9" fill="#1b4c80"/>
<circle cx="495.5" cy="204.6" r="0.9" fill="#1b4c80"/>
<circle cx="417.2" cy="204.0" r="0.9" fill="#1b4c80"/>
<circle cx="408.3" cy="204.5" r="0.9" fill="#1b4c80"/>
<circle cx="331.8" cy="204.4" r="0.9" fill="#1b4c80"/>
<circle cx="336.0" cy="203.8" r="0.9" fill="#1b4c80"/>
<circle cx="338.9" cy="204.0" r="0.9" fill="#1b4c80"/>
<circle cx="335.9" cy="204.1" r="0.9" fill="#1b4c80"/>
<circle cx="335.7" cy="204.4" r="0.9" fill="#1b4c80"/>
<circle cx="341.4" cy="204.0" r="0.9" fill="#1b4c80"/>
<circle cx="372.7" cy="199.5" r="1.15" fill="#1b4c80"/>
<circle cx="374.0" cy="199.0" r="1.15" fill="#1b4c80"/>
<circle cx="376.5" cy="198.5" r="1.15" fill="#1b4c80"/>
<circle cx="377.0" cy="197.5" r="1.15" fill="#1b4c80"/>
<circle cx="350.8" cy="202.0" r="1.15" fill="#1b4c80"/>
<circle cx="355.4" cy="201.5" r="1.15" fill="#1b4c80"/>
<circle cx="357.7" cy="202.7" r="1.15" fill="#1b4c80"/>
<circle cx="360.5" cy="203.0" r="1.15" fill="#1b4c80"/>
<circle cx="409.0" cy="154.6" r="1.15" fill="#1b4c80"/>
<circle cx="410.0" cy="156.5" r="1.15" fill="#1b4c80"/>
<circle cx="411.0" cy="158.5" r="1.15" fill="#1b4c80"/>
<circle cx="412.0" cy="160.0" r="1.15" fill="#1b4c80"/>
<circle cx="410.5" cy="162.0" r="1.15" fill="#1b4c80"/>
<circle cx="411.5" cy="164.0" r="1.15" fill="#1b4c80"/>
<circle cx="412.5" cy="166.0" r="1.15" fill="#1b4c80"/>
<circle cx="413.0" cy="157.0" r="1.15" fill="#1b4c80"/>
<circle cx="409.5" cy="159.0" r="1.15" fill="#1b4c80"/>
<circle cx="410.0" cy="171.0" r="1.15" fill="#1b4c80"/>
<circle cx="413.8" cy="179.2" r="1.15" fill="#1b4c80"/>
<circle cx="410.0" cy="185.8" r="1.15" fill="#1b4c80"/>
<circle cx="412.3" cy="156.5" r="1.4" fill="#c8102e"/>
<path d="M130.1 207.3V210.60000000000002" stroke="#222" stroke-width="0.9"/>
<path d="M133 207.3V210.60000000000002" stroke="#222" stroke-width="0.9"/>
<path d="M157.5 207.3V210.60000000000002" stroke="#222" stroke-width="0.9"/>
<path d="M164.4 207.3V210.60000000000002" stroke="#222" stroke-width="0.9"/>
<path d="M167.3 207.3V210.60000000000002" stroke="#222" stroke-width="0.9"/>
<path d="M161 207.3V210.60000000000002" stroke="#c8102e" stroke-width="0.9"/>
<path d="M378.1 206.9V210.20000000000002" stroke="#222" stroke-width="0.9"/>
<path d="M381.5 206.9V210.20000000000002" stroke="#222" stroke-width="0.9"/>
<path d="M406.7 206.9V210.20000000000002" stroke="#222" stroke-width="0.9"/>
<path d="M416.1 206.9V210.20000000000002" stroke="#222" stroke-width="0.9"/>
<path d="M411 206.9V210.20000000000002" stroke="#c8102e" stroke-width="0.9"/>
<path d="M413.3 206.9V210.20000000000002" stroke="#c06070" stroke-width="0.9"/>
<text x="110.60" y="219.80" font-size="8.6" fill="#141414" text-anchor="start" stroke="#141414" stroke-width="0.18" textLength="30.7" lengthAdjust="spacingAndGlyphs" >PRKAB2</text>
<text x="141.30" y="227.20" font-size="8.6" fill="#141414" text-anchor="end" stroke="#141414" stroke-width="0.18" textLength="19.3" lengthAdjust="spacingAndGlyphs" >BCL9</text>
<text x="152.00" y="219.80" font-size="8.6" fill="#141414" text-anchor="start" stroke="#141414" stroke-width="0.18" textLength="22" lengthAdjust="spacingAndGlyphs" >SF3B4</text>
<text x="149.60" y="227.20" font-size="8.6" fill="#141414" text-anchor="start" stroke="#141414" stroke-width="0.18" textLength="32" lengthAdjust="spacingAndGlyphs" >OTUD7B</text>
<text x="158.60" y="234.50" font-size="8.6" fill="#c8102e" text-anchor="start" stroke="#c8102e" stroke-width="0.18" textLength="21.2" lengthAdjust="spacingAndGlyphs" >MCL1</text>
<text x="160.00" y="243.50" font-size="8.6" fill="#141414" text-anchor="start" stroke="#141414" stroke-width="0.18" textLength="29.2" lengthAdjust="spacingAndGlyphs" >SETDB1</text>
<text x="358.90" y="219.80" font-size="8.6" fill="#141414" text-anchor="start" stroke="#141414" stroke-width="0.18" textLength="30.7" lengthAdjust="spacingAndGlyphs" >PRKAB2</text>
<text x="389.60" y="227.20" font-size="8.6" fill="#141414" text-anchor="end" stroke="#141414" stroke-width="0.18" textLength="19.3" lengthAdjust="spacingAndGlyphs" >BCL9</text>
<text x="400.30" y="219.80" font-size="8.6" fill="#141414" text-anchor="start" stroke="#141414" stroke-width="0.18" textLength="22" lengthAdjust="spacingAndGlyphs" >SF3B4</text>
<text x="397.90" y="227.20" font-size="8.6" fill="#141414" text-anchor="start" stroke="#141414" stroke-width="0.18" textLength="32" lengthAdjust="spacingAndGlyphs" >OTUD7B</text>
<text x="406.90" y="234.50" font-size="8.6" fill="#c8102e" text-anchor="start" stroke="#c8102e" stroke-width="0.18" textLength="21.2" lengthAdjust="spacingAndGlyphs" >MCL1</text>
<text x="408.30" y="243.50" font-size="8.6" fill="#141414" text-anchor="start" stroke="#141414" stroke-width="0.18" textLength="29.2" lengthAdjust="spacingAndGlyphs" >SETDB1</text>
<text x="1.20" y="272.00" font-size="11.4" fill="#000" text-anchor="start" stroke="#000" stroke-width="0.18" font-weight="bold" textLength="6.8" lengthAdjust="spacingAndGlyphs" >B</text>
<text x="115.50" y="272.20" font-size="9.6" fill="#141414" text-anchor="start" stroke="#141414" stroke-width="0.18" textLength="61.5" lengthAdjust="spacingAndGlyphs" >CLL12 relapse</text>
<path d="M171.0 338.0 C172.7 336.5 176.8 336.2 180.0 336.0 C183.2 335.8 187.5 335.8 190.0 337.0 C192.5 338.2 194.3 340.7 195.0 343.0 C195.7 345.3 195.2 348.8 194.0 351.0 C192.8 353.2 190.3 355.2 188.0 356.0 C185.7 356.8 182.5 356.7 180.0 356.0 C177.5 355.3 174.7 353.8 173.0 352.0 C171.3 350.2 170.3 347.3 170.0 345.0 C169.7 342.7 169.3 339.5 171.0 338.0Z" fill="#dfeaf5"/>
<circle cx="175.1" cy="348.8" r="0.6" fill="#a9c7e3"/>
<circle cx="189.7" cy="344.5" r="0.6" fill="#a9c7e3"/>
<circle cx="174.6" cy="346.7" r="0.6" fill="#a9c7e3"/>
<circle cx="186.1" cy="352.2" r="0.6" fill="#a9c7e3"/>
<circle cx="176.3" cy="341.8" r="0.6" fill="#a9c7e3"/>
<circle cx="188.0" cy="349.5" r="0.6" fill="#a9c7e3"/>
<circle cx="191.3" cy="350.9" r="0.6" fill="#a9c7e3"/>
<circle cx="182.2" cy="345.5" r="0.6" fill="#a9c7e3"/>
<circle cx="193.7" cy="346.1" r="0.6" fill="#a9c7e3"/>
<circle cx="178.1" cy="341.8" r="0.6" fill="#a9c7e3"/>
<circle cx="183.7" cy="347.8" r="0.6" fill="#a9c7e3"/>
<circle cx="180.4" cy="346.7" r="0.6" fill="#a9c7e3"/>
<circle cx="185.0" cy="350.7" r="0.6" fill="#a9c7e3"/>
<circle cx="190.4" cy="348.0" r="0.6" fill="#a9c7e3"/>
<circle cx="173.6" cy="349.7" r="0.6" fill="#a9c7e3"/>
<circle cx="174.3" cy="346.2" r="0.6" fill="#a9c7e3"/>
<circle cx="174.0" cy="347.0" r="0.6" fill="#a9c7e3"/>
<circle cx="177.4" cy="348.1" r="0.6" fill="#a9c7e3"/>
<circle cx="194.0" cy="346.9" r="0.6" fill="#a9c7e3"/>
<circle cx="188.0" cy="341.3" r="0.6" fill="#a9c7e3"/>
<circle cx="180.9" cy="350.5" r="0.6" fill="#a9c7e3"/>
<circle cx="182.3" cy="349.1" r="0.6" fill="#a9c7e3"/>
<circle cx="183.7" cy="342.0" r="0.6" fill="#a9c7e3"/>
<circle cx="186.9" cy="342.9" r="0.6" fill="#a9c7e3"/>
<circle cx="192.8" cy="345.1" r="0.6" fill="#a9c7e3"/>
<circle cx="188.0" cy="347.0" r="0.6" fill="#a9c7e3"/>
<circle cx="189.4" cy="344.1" r="0.6" fill="#a9c7e3"/>
<circle cx="189.9" cy="346.4" r="0.6" fill="#a9c7e3"/>
<circle cx="190.8" cy="349.8" r="0.6" fill="#a9c7e3"/>
<circle cx="184.0" cy="342.9" r="0.6" fill="#a9c7e3"/>
<circle cx="188.4" cy="349.4" r="0.6" fill="#a9c7e3"/>
<circle cx="192.3" cy="345.4" r="0.6" fill="#a9c7e3"/>
<circle cx="187.0" cy="349.7" r="0.6" fill="#a9c7e3"/>
<circle cx="185.2" cy="348.2" r="0.6" fill="#a9c7e3"/>
<circle cx="184.4" cy="343.8" r="0.6" fill="#a9c7e3"/>
<circle cx="176.1" cy="345.1" r="0.6" fill="#a9c7e3"/>
<circle cx="186.4" cy="353.4" r="0.6" fill="#a9c7e3"/>
<circle cx="189.0" cy="351.7" r="0.6" fill="#a9c7e3"/>
<circle cx="188.3" cy="350.5" r="0.6" fill="#a9c7e3"/>
<circle cx="184.3" cy="351.0" r="0.6" fill="#a9c7e3"/>
<circle cx="192.7" cy="345.7" r="0.6" fill="#a9c7e3"/>
<circle cx="179.5" cy="354.1" r="0.6" fill="#a9c7e3"/>
<circle cx="184.7" cy="351.9" r="0.6" fill="#a9c7e3"/>
<circle cx="188.4" cy="341.9" r="0.6" fill="#a9c7e3"/>
<circle cx="191.8" cy="351.7" r="0.6" fill="#a9c7e3"/>
<circle cx="184.3" cy="351.0" r="0.6" fill="#a9c7e3"/>
<circle cx="183.9" cy="342.5" r="0.6" fill="#a9c7e3"/>
<circle cx="182.1" cy="349.1" r="0.6" fill="#a9c7e3"/>
<circle cx="190.1" cy="350.3" r="0.6" fill="#a9c7e3"/>
<circle cx="183.4" cy="353.2" r="0.6" fill="#a9c7e3"/>
<circle cx="177.9" cy="350.9" r="0.6" fill="#a9c7e3"/>
<circle cx="190.4" cy="345.6" r="0.6" fill="#a9c7e3"/>
<circle cx="173.9" cy="343.6" r="0.6" fill="#a9c7e3"/>
<circle cx="184.8" cy="349.9" r="0.6" fill="#a9c7e3"/>
<circle cx="191.3" cy="343.1" r="0.6" fill="#a9c7e3"/>
<circle cx="183.0" cy="350.5" r="0.6" fill="#a9c7e3"/>
<circle cx="182.3" cy="339.3" r="0.6" fill="#a9c7e3"/>
<circle cx="186.5" cy="354.4" r="0.6" fill="#a9c7e3"/>
<circle cx="189.3" cy="342.8" r="0.6" fill="#a9c7e3"/>
<circle cx="179.9" cy="348.2" r="0.6" fill="#a9c7e3"/>
<circle cx="193.5" cy="348.9" r="0.6" fill="#a9c7e3"/>
<circle cx="183.7" cy="353.7" r="0.6" fill="#a9c7e3"/>
<circle cx="182.6" cy="354.3" r="0.6" fill="#a9c7e3"/>
<circle cx="178.1" cy="344.5" r="0.6" fill="#a9c7e3"/>
<circle cx="187.2" cy="353.1" r="0.6" fill="#a9c7e3"/>
<circle cx="187.8" cy="348.6" r="0.6" fill="#a9c7e3"/>
<circle cx="173.5" cy="344.3" r="0.6" fill="#a9c7e3"/>
<circle cx="178.6" cy="344.2" r="0.6" fill="#a9c7e3"/>
<circle cx="187.3" cy="345.2" r="0.6" fill="#a9c7e3"/>
<circle cx="188.7" cy="347.4" r="0.6" fill="#a9c7e3"/>
<circle cx="180.7" cy="347.6" r="0.5" fill="#7aa8cc"/>
<circle cx="185.7" cy="350.8" r="0.5" fill="#7aa8cc"/>
<circle cx="179.7" cy="345.9" r="0.5" fill="#7aa8cc"/>
<circle cx="176.9" cy="352.0" r="0.5" fill="#7aa8cc"/>
<circle cx="191.0" cy="346.3" r="0.5" fill="#7aa8cc"/>
<circle cx="180.2" cy="342.0" r="0.5" fill="#7aa8cc"/>
<circle cx="184.2" cy="348.0" r="0.5" fill="#7aa8cc"/>
<circle cx="192.5" cy="347.7" r="0.5" fill="#7aa8cc"/>
<circle cx="180.0" cy="340.5" r="0.5" fill="#7aa8cc"/>
<circle cx="190.9" cy="347.7" r="0.5" fill="#7aa8cc"/>
<circle cx="174.5" cy="347.7" r="0.5" fill="#7aa8cc"/>
<circle cx="178.8" cy="353.4" r="0.5" fill="#7aa8cc"/>
<circle cx="189.6" cy="349.4" r="0.5" fill="#7aa8cc"/>
<circle cx="182.2" cy="340.4" r="0.5" fill="#7aa8cc"/>
<circle cx="182.3" cy="341.1" r="0.5" fill="#7aa8cc"/>
<circle cx="185.6" cy="340.6" r="0.5" fill="#7aa8cc"/>
<circle cx="178.1" cy="351.6" r="0.5" fill="#7aa8cc"/>
<circle cx="190.6" cy="343.2" r="0.5" fill="#7aa8cc"/>
<circle cx="175.3" cy="350.1" r="0.5" fill="#7aa8cc"/>
<circle cx="188.0" cy="343.0" r="0.5" fill="#7aa8cc"/>
<circle cx="178.6" cy="343.9" r="0.5" fill="#7aa8cc"/>
<circle cx="176.2" cy="344.3" r="0.5" fill="#7aa8cc"/>
<circle cx="190.0" cy="349.7" r="0.5" fill="#7aa8cc"/>
<circle cx="192.4" cy="346.7" r="0.5" fill="#7aa8cc"/>
<circle cx="182.1" cy="342.7" r="0.5" fill="#7aa8cc"/>
<path d="M195.0 334.0 C195.8 332.8 197.7 332.0 199.0 332.0 C200.3 332.0 201.8 332.7 203.0 334.0 C204.2 335.3 205.4 337.7 206.0 340.0 C206.6 342.3 206.7 345.7 206.5 348.0 C206.3 350.3 206.2 352.7 205.0 354.0 C203.8 355.3 201.0 356.0 199.0 356.0 C197.0 356.0 194.0 355.7 193.0 354.0 C192.0 352.3 192.8 348.5 193.0 346.0 C193.2 343.5 193.7 341.0 194.0 339.0 C194.3 337.0 194.2 335.2 195.0 334.0Z" fill="#7b6cc2"/>
<circle cx="198.6" cy="348.0" r="0.6" fill="#9cb6dc"/>
<circle cx="194.7" cy="352.3" r="0.6" fill="#9cb6dc"/>
<circle cx="202.7" cy="352.7" r="0.6" fill="#9cb6dc"/>
<circle cx="202.8" cy="351.6" r="0.6" fill="#9cb6dc"/>
<circle cx="196.6" cy="351.2" r="0.6" fill="#9cb6dc"/>
<circle cx="197.9" cy="348.3" r="0.6" fill="#9cb6dc"/>
<circle cx="195.4" cy="348.5" r="0.6" fill="#9cb6dc"/>
<circle cx="199.0" cy="351.4" r="0.6" fill="#9cb6dc"/>
<circle cx="197.7" cy="354.1" r="0.6" fill="#9cb6dc"/>
<circle cx="199.6" cy="352.6" r="0.6" fill="#9cb6dc"/>
<circle cx="202.4" cy="349.2" r="0.6" fill="#9cb6dc"/>
<circle cx="194.6" cy="352.3" r="0.6" fill="#9cb6dc"/>
<circle cx="197.1" cy="353.9" r="0.6" fill="#9cb6dc"/>
<circle cx="200.0" cy="353.5" r="0.6" fill="#9cb6dc"/>
<circle cx="200.6" cy="347.4" r="0.6" fill="#9cb6dc"/>
<circle cx="201.3" cy="349.3" r="0.6" fill="#9cb6dc"/>
<circle cx="196.6" cy="349.9" r="0.6" fill="#9cb6dc"/>
<circle cx="201.3" cy="353.1" r="0.6" fill="#9cb6dc"/>
<circle cx="201.4" cy="347.9" r="0.6" fill="#9cb6dc"/>
<circle cx="197.8" cy="347.2" r="0.6" fill="#9cb6dc"/>
<circle cx="198.7" cy="352.6" r="0.6" fill="#9cb6dc"/>
<circle cx="196.5" cy="351.6" r="0.6" fill="#9cb6dc"/>
<circle cx="199.7" cy="353.5" r="0.6" fill="#9cb6dc"/>
<circle cx="196.5" cy="349.0" r="0.6" fill="#9cb6dc"/>
<circle cx="197.2" cy="354.4" r="0.6" fill="#9cb6dc"/>
<circle cx="202.7" cy="340.5" r="0.5" fill="#a79cd8"/>
<circle cx="200.6" cy="341.6" r="0.5" fill="#a79cd8"/>
<circle cx="200.6" cy="340.0" r="0.5" fill="#a79cd8"/>
<circle cx="199.2" cy="335.9" r="0.5" fill="#a79cd8"/>
<circle cx="198.7" cy="346.8" r="0.5" fill="#a79cd8"/>
<circle cx="201.5" cy="341.3" r="0.5" fill="#a79cd8"/>
<circle cx="199.4" cy="341.3" r="0.5" fill="#a79cd8"/>
<circle cx="200.9" cy="338.0" r="0.5" fill="#a79cd8"/>
<circle cx="200.5" cy="342.2" r="0.5" fill="#a79cd8"/>
<circle cx="198.2" cy="337.6" r="0.5" fill="#a79cd8"/>
<circle cx="197.8" cy="336.9" r="0.5" fill="#a79cd8"/>
<circle cx="201.4" cy="334.6" r="0.5" fill="#a79cd8"/>
<circle cx="199.3" cy="338.1" r="0.5" fill="#a79cd8"/>
<circle cx="198.3" cy="341.5" r="0.5" fill="#a79cd8"/>
<circle cx="202.7" cy="341.3" r="0.5" fill="#a79cd8"/>
<path d="M169.0 328.0 C169.3 325.9 170.3 323.8 172.0 322.5 C173.7 321.2 176.5 320.3 179.0 320.0 C181.5 319.7 184.7 319.7 187.0 320.5 C189.3 321.3 191.8 323.2 193.0 325.0 C194.2 326.8 194.7 329.0 194.5 331.0 C194.3 333.0 193.6 335.5 192.0 337.0 C190.4 338.5 187.7 339.6 185.0 340.0 C182.3 340.4 178.5 340.3 176.0 339.5 C173.5 338.7 171.2 336.9 170.0 335.0 C168.8 333.1 168.7 330.1 169.0 328.0Z" fill="#c8cf88"/>
<circle cx="180.0" cy="326.7" r="0.6" fill="#d9dca6"/>
<circle cx="180.1" cy="334.7" r="0.6" fill="#d9dca6"/>
<circle cx="178.4" cy="324.5" r="0.6" fill="#d9dca6"/>
<circle cx="173.8" cy="325.4" r="0.6" fill="#d9dca6"/>
<circle cx="173.3" cy="334.4" r="0.6" fill="#d9dca6"/>
<circle cx="183.7" cy="328.7" r="0.6" fill="#d9dca6"/>
<circle cx="189.5" cy="327.2" r="0.6" fill="#d9dca6"/>
<circle cx="186.1" cy="333.9" r="0.6" fill="#d9dca6"/>
<circle cx="173.6" cy="324.6" r="0.6" fill="#d9dca6"/>
<circle cx="175.1" cy="334.2" r="0.6" fill="#d9dca6"/>
<circle cx="188.1" cy="325.1" r="0.6" fill="#d9dca6"/>
<circle cx="188.0" cy="328.1" r="0.6" fill="#d9dca6"/>
<circle cx="178.1" cy="327.1" r="0.6" fill="#d9dca6"/>
<circle cx="179.3" cy="322.9" r="0.6" fill="#d9dca6"/>
<circle cx="175.1" cy="324.7" r="0.6" fill="#d9dca6"/>
<circle cx="183.4" cy="337.4" r="0.6" fill="#d9dca6"/>
<circle cx="191.8" cy="329.0" r="0.6" fill="#d9dca6"/>
<circle cx="171.5" cy="328.4" r="0.6" fill="#d9dca6"/>
<circle cx="176.5" cy="336.9" r="0.6" fill="#d9dca6"/>
<circle cx="185.0" cy="326.3" r="0.6" fill="#d9dca6"/>
<circle cx="187.3" cy="332.6" r="0.6" fill="#d9dca6"/>
<circle cx="171.8" cy="327.8" r="0.6" fill="#d9dca6"/>
<circle cx="179.2" cy="330.1" r="0.6" fill="#d9dca6"/>
<circle cx="182.0" cy="328.1" r="0.6" fill="#d9dca6"/>
<circle cx="182.4" cy="326.8" r="0.6" fill="#d9dca6"/>
<circle cx="176.0" cy="336.1" r="0.6" fill="#d9dca6"/>
<circle cx="183.7" cy="332.4" r="0.6" fill="#d9dca6"/>
<circle cx="171.7" cy="329.3" r="0.6" fill="#d9dca6"/>
<circle cx="185.9" cy="324.4" r="0.6" fill="#d9dca6"/>
<circle cx="188.3" cy="328.1" r="0.6" fill="#d9dca6"/>
<circle cx="184.1" cy="329.3" r="0.6" fill="#d9dca6"/>
<circle cx="182.4" cy="335.7" r="0.6" fill="#d9dca6"/>
<circle cx="178.7" cy="336.6" r="0.6" fill="#d9dca6"/>
<circle cx="175.9" cy="325.6" r="0.6" fill="#d9dca6"/>
<circle cx="185.6" cy="325.0" r="0.6" fill="#d9dca6"/>
<circle cx="178.4" cy="334.6" r="0.6" fill="#d9dca6"/>
<circle cx="186.9" cy="323.7" r="0.6" fill="#d9dca6"/>
<circle cx="183.6" cy="337.1" r="0.6" fill="#d9dca6"/>
<circle cx="188.8" cy="328.9" r="0.6" fill="#d9dca6"/>
<circle cx="176.6" cy="328.4" r="0.6" fill="#d9dca6"/>
<circle cx="173.4" cy="328.7" r="0.5" fill="#aab86a"/>
<circle cx="179.6" cy="329.2" r="0.5" fill="#aab86a"/>
<circle cx="188.8" cy="328.9" r="0.5" fill="#aab86a"/>
<circle cx="173.0" cy="334.2" r="0.5" fill="#aab86a"/>
<circle cx="173.9" cy="327.8" r="0.5" fill="#aab86a"/>
<circle cx="180.0" cy="328.1" r="0.5" fill="#aab86a"/>
<circle cx="174.1" cy="328.8" r="0.5" fill="#aab86a"/>
<circle cx="191.2" cy="327.9" r="0.5" fill="#aab86a"/>
<circle cx="180.1" cy="335.5" r="0.5" fill="#aab86a"/>
<circle cx="186.1" cy="333.8" r="0.5" fill="#aab86a"/>
<circle cx="185.2" cy="323.0" r="0.5" fill="#aab86a"/>
<circle cx="174.9" cy="330.7" r="0.5" fill="#aab86a"/>
<circle cx="184.1" cy="335.9" r="0.5" fill="#aab86a"/>
<circle cx="184.5" cy="328.7" r="0.5" fill="#aab86a"/>
<circle cx="181.3" cy="328.8" r="0.5" fill="#aab86a"/>
<circle cx="182.8" cy="333.6" r="0.5" fill="#aab86a"/>
<circle cx="178.6" cy="325.8" r="0.5" fill="#aab86a"/>
<circle cx="175.7" cy="335.0" r="0.5" fill="#aab86a"/>
<circle cx="188.4" cy="334.2" r="0.5" fill="#aab86a"/>
<circle cx="186.6" cy="334.0" r="0.5" fill="#aab86a"/>
<circle cx="181.0" cy="333.6" r="0.5" fill="#aab86a"/>
<circle cx="173.9" cy="329.0" r="0.5" fill="#aab86a"/>
<circle cx="176.0" cy="333.6" r="0.5" fill="#aab86a"/>
<circle cx="176.7" cy="329.4" r="0.5" fill="#aab86a"/>
<circle cx="183.5" cy="336.1" r="0.5" fill="#aab86a"/>
<circle cx="180.0" cy="363.5" r="0.5" fill="#9cbcdc"/>
<circle cx="182.3" cy="363.2" r="0.5" fill="#9cbcdc"/>
<circle cx="183.0" cy="363.5" r="0.5" fill="#9cbcdc"/>
<circle cx="180.0" cy="362.1" r="0.5" fill="#9cbcdc"/>
<circle cx="182.7" cy="360.0" r="0.5" fill="#9cbcdc"/>
<circle cx="180.5" cy="360.2" r="0.5" fill="#9cbcdc"/>
<circle cx="182.3" cy="361.0" r="0.5" fill="#9cbcdc"/>
<circle cx="181.4" cy="361.5" r="0.5" fill="#9cbcdc"/>
<circle cx="181.1" cy="361.5" r="0.5" fill="#9cbcdc"/>
<circle cx="179.7" cy="358.6" r="0.5" fill="#9cbcdc"/>
<circle cx="183.8" cy="367.2" r="0.5" fill="#9cbcdc"/>
<circle cx="180.8" cy="364.8" r="0.5" fill="#9cbcdc"/>
<path d="M165.3 331.0 C165.3 328.7 166.2 325.6 167.4 323.6 C168.6 321.6 170.9 319.9 172.7 318.9 C174.5 317.8 176.1 317.4 178.0 317.3 C179.9 317.2 182.4 317.4 184.3 318.3 C186.2 319.2 188.0 321.0 189.6 322.6 C191.2 324.2 192.5 326.6 193.9 327.9 C195.3 329.2 196.3 329.7 198.1 330.5 C199.8 331.3 202.8 331.3 204.4 332.6 C206.0 333.9 206.9 336.3 207.6 338.5 C208.3 340.7 208.6 343.4 208.7 345.9 C208.8 348.4 208.6 351.4 208.1 353.3 C207.6 355.2 207.2 356.4 205.5 357.5 C203.8 358.6 200.6 359.3 198.1 359.6 C195.6 359.9 192.5 359.5 190.7 359.1 C188.9 358.8 189.1 357.9 187.5 357.5 C185.9 357.1 183.5 356.8 181.2 356.4 C178.9 356.0 175.6 356.3 173.8 355.4 C172.0 354.5 171.1 353.1 170.6 351.2 C170.1 349.2 171.1 346.0 170.6 343.7 C170.1 341.4 168.3 339.5 167.4 337.4 C166.5 335.3 165.3 333.3 165.3 331.0Z" fill="none" stroke="#000" stroke-width="2.3" stroke-linecap="round" stroke-dasharray="0 3.8"/>
<text x="181.70" y="334.50" font-size="9.5" fill="#1a1a10" text-anchor="middle" stroke="#1a1a10" stroke-width="0.18" font-weight="bold" >4</text>
<text x="183.80" y="347.20" font-size="9.5" fill="#1a2030" text-anchor="middle" stroke="#1a2030" stroke-width="0.18" font-weight="bold" >7</text>
<text x="199.70" y="347.20" font-size="9.5" fill="#e6e2f6" text-anchor="middle" stroke="#e6e2f6" stroke-width="0.18" font-weight="bold" >8</text>
<path d="M176.5 372.5 C177.9 373.0 176.9 375.4 178.3 377.3 C179.8 379.2 183.5 381.9 185.2 384.2 C186.9 386.5 187.5 388.7 188.6 391.0 C189.7 393.3 191.3 396.0 192.0 398.0 C192.7 400.0 193.4 401.2 193.0 403.0 C192.6 404.8 190.6 407.0 189.5 409.0 C188.4 411.0 187.8 413.5 186.5 415.0 C185.2 416.5 184.8 417.3 182.0 418.0 C179.2 418.7 173.2 419.2 170.0 419.0 C166.8 418.8 165.3 418.8 163.0 417.0 C160.7 415.2 158.4 411.0 156.0 408.0 C153.6 405.0 150.0 401.7 148.5 399.0 C147.0 396.3 146.9 394.3 147.0 392.0 C147.1 389.7 147.7 387.2 149.0 385.0 C150.3 382.8 152.7 380.5 155.0 379.0 C157.3 377.5 160.5 376.8 163.0 376.0 C165.5 375.2 167.8 375.1 170.0 374.5 C172.2 373.9 175.1 372.0 176.5 372.5Z" fill="#3d55bf"/>
<circle cx="168.6" cy="396.4" r="0.7" fill="#3349b0"/>
<circle cx="169.4" cy="394.2" r="0.7" fill="#3349b0"/>
<circle cx="156.1" cy="387.9" r="0.7" fill="#3349b0"/>
<circle cx="161.4" cy="389.1" r="0.7" fill="#3349b0"/>
<circle cx="169.9" cy="399.5" r="0.7" fill="#3349b0"/>
<circle cx="175.5" cy="376.9" r="0.7" fill="#3349b0"/>
<circle cx="171.4" cy="389.5" r="0.7" fill="#3349b0"/>
<circle cx="181.4" cy="398.7" r="0.7" fill="#3349b0"/>
<circle cx="153.4" cy="395.7" r="0.7" fill="#3349b0"/>
<circle cx="161.9" cy="402.9" r="0.7" fill="#3349b0"/>
<circle cx="156.6" cy="390.9" r="0.7" fill="#3349b0"/>
<circle cx="165.5" cy="390.8" r="0.7" fill="#3349b0"/>
<circle cx="162.5" cy="376.2" r="0.7" fill="#3349b0"/>
<circle cx="171.5" cy="403.0" r="0.7" fill="#3349b0"/>
<circle cx="166.3" cy="380.6" r="0.7" fill="#3349b0"/>
<circle cx="169.2" cy="398.9" r="0.7" fill="#3349b0"/>
<circle cx="165.0" cy="391.8" r="0.7" fill="#3349b0"/>
<circle cx="178.2" cy="382.0" r="0.7" fill="#3349b0"/>
<circle cx="162.8" cy="376.0" r="0.7" fill="#3349b0"/>
<circle cx="160.0" cy="383.7" r="0.7" fill="#3349b0"/>
<circle cx="157.8" cy="384.5" r="0.7" fill="#3349b0"/>
<circle cx="181.3" cy="390.2" r="0.7" fill="#3349b0"/>
<circle cx="166.2" cy="409.2" r="0.7" fill="#3349b0"/>
<circle cx="166.5" cy="376.1" r="0.7" fill="#3349b0"/>
<circle cx="171.0" cy="381.5" r="0.7" fill="#3349b0"/>
<circle cx="178.9" cy="381.8" r="0.7" fill="#3349b0"/>
<circle cx="162.2" cy="377.2" r="0.7" fill="#3349b0"/>
<circle cx="168.0" cy="380.6" r="0.7" fill="#3349b0"/>
<circle cx="166.3" cy="387.3" r="0.7" fill="#3349b0"/>
<circle cx="161.0" cy="402.3" r="0.7" fill="#3349b0"/>
<circle cx="176.5" cy="392.7" r="0.7" fill="#3349b0"/>
<circle cx="158.9" cy="381.1" r="0.7" fill="#3349b0"/>
<circle cx="168.7" cy="409.4" r="0.7" fill="#3349b0"/>
<circle cx="162.3" cy="383.0" r="0.7" fill="#3349b0"/>
<circle cx="160.5" cy="380.5" r="0.7" fill="#3349b0"/>
<circle cx="157.2" cy="389.7" r="0.7" fill="#3349b0"/>
<circle cx="179.8" cy="392.0" r="0.7" fill="#3349b0"/>
<circle cx="162.8" cy="377.0" r="0.7" fill="#3349b0"/>
<circle cx="169.4" cy="391.7" r="0.7" fill="#3349b0"/>
<circle cx="156.7" cy="381.7" r="0.7" fill="#3349b0"/>
<circle cx="166.6" cy="403.4" r="0.7" fill="#3349b0"/>
<circle cx="173.7" cy="394.5" r="0.7" fill="#3349b0"/>
<circle cx="163.4" cy="396.0" r="0.7" fill="#3349b0"/>
<circle cx="166.9" cy="409.1" r="0.7" fill="#3349b0"/>
<circle cx="156.2" cy="388.0" r="0.7" fill="#3349b0"/>
<circle cx="178.8" cy="389.2" r="0.7" fill="#3349b0"/>
<circle cx="179.8" cy="391.6" r="0.7" fill="#3349b0"/>
<circle cx="168.6" cy="387.4" r="0.7" fill="#3349b0"/>
<circle cx="155.6" cy="383.0" r="0.7" fill="#3349b0"/>
<circle cx="181.8" cy="396.9" r="0.7" fill="#3349b0"/>
<circle cx="172.9" cy="402.4" r="0.7" fill="#3349b0"/>
<circle cx="172.5" cy="403.1" r="0.7" fill="#3349b0"/>
<circle cx="164.0" cy="389.2" r="0.7" fill="#3349b0"/>
<circle cx="176.8" cy="388.1" r="0.7" fill="#3349b0"/>
<circle cx="154.8" cy="389.7" r="0.7" fill="#3349b0"/>
<circle cx="161.3" cy="399.2" r="0.7" fill="#3349b0"/>
<circle cx="160.3" cy="380.8" r="0.7" fill="#3349b0"/>
<circle cx="164.2" cy="406.9" r="0.7" fill="#3349b0"/>
<circle cx="166.5" cy="394.0" r="0.7" fill="#3349b0"/>
<circle cx="167.1" cy="395.7" r="0.7" fill="#3349b0"/>
<circle cx="174.7" cy="405.0" r="0.7" fill="#3349b0"/>
<circle cx="155.3" cy="402.9" r="0.7" fill="#3349b0"/>
<circle cx="167.0" cy="388.0" r="0.7" fill="#3349b0"/>
<circle cx="182.5" cy="390.8" r="0.7" fill="#3349b0"/>
<circle cx="180.6" cy="399.6" r="0.7" fill="#3349b0"/>
<circle cx="157.0" cy="397.3" r="0.7" fill="#3349b0"/>
<circle cx="174.8" cy="390.5" r="0.7" fill="#3349b0"/>
<circle cx="151.7" cy="389.5" r="0.7" fill="#3349b0"/>
<circle cx="165.1" cy="379.9" r="0.7" fill="#3349b0"/>
<circle cx="181.3" cy="389.8" r="0.7" fill="#3349b0"/>
<circle cx="162.7" cy="388.3" r="0.7" fill="#3349b0"/>
<circle cx="159.3" cy="383.4" r="0.7" fill="#3349b0"/>
<circle cx="168.0" cy="395.9" r="0.7" fill="#3349b0"/>
<circle cx="161.4" cy="390.9" r="0.7" fill="#3349b0"/>
<circle cx="154.8" cy="397.2" r="0.7" fill="#3349b0"/>
<circle cx="159.1" cy="394.5" r="0.7" fill="#3349b0"/>
<circle cx="158.0" cy="386.2" r="0.7" fill="#3349b0"/>
<circle cx="169.0" cy="379.1" r="0.7" fill="#3349b0"/>
<circle cx="182.6" cy="391.7" r="0.7" fill="#3349b0"/>
<circle cx="166.2" cy="383.3" r="0.7" fill="#3349b0"/>
<circle cx="191.3" cy="404.2" r="0.55" fill="#b8c6ee"/>
<circle cx="188.0" cy="390.3" r="0.55" fill="#b8c6ee"/>
<circle cx="185.0" cy="402.0" r="0.55" fill="#b8c6ee"/>
<circle cx="185.2" cy="391.1" r="0.55" fill="#b8c6ee"/>
<circle cx="183.0" cy="393.7" r="0.55" fill="#b8c6ee"/>
<circle cx="187.1" cy="393.6" r="0.55" fill="#b8c6ee"/>
<circle cx="187.0" cy="407.9" r="0.55" fill="#b8c6ee"/>
<circle cx="191.9" cy="393.3" r="0.55" fill="#b8c6ee"/>
<circle cx="188.4" cy="398.6" r="0.55" fill="#b8c6ee"/>
<circle cx="186.5" cy="404.5" r="0.55" fill="#b8c6ee"/>
<circle cx="185.6" cy="395.8" r="0.55" fill="#b8c6ee"/>
<circle cx="185.4" cy="397.3" r="0.55" fill="#b8c6ee"/>
<circle cx="191.2" cy="402.3" r="0.55" fill="#b8c6ee"/>
<circle cx="182.5" cy="395.5" r="0.55" fill="#b8c6ee"/>
<circle cx="184.1" cy="402.9" r="0.55" fill="#b8c6ee"/>
<circle cx="187.9" cy="403.7" r="0.55" fill="#b8c6ee"/>
<circle cx="186.8" cy="388.8" r="0.55" fill="#b8c6ee"/>
<circle cx="188.9" cy="399.6" r="0.55" fill="#b8c6ee"/>
<circle cx="188.7" cy="390.6" r="0.55" fill="#b8c6ee"/>
<circle cx="187.3" cy="393.4" r="0.55" fill="#b8c6ee"/>
<circle cx="184.3" cy="400.3" r="0.55" fill="#b8c6ee"/>
<circle cx="188.3" cy="392.4" r="0.55" fill="#b8c6ee"/>
<circle cx="183.6" cy="389.8" r="0.55" fill="#b8c6ee"/>
<circle cx="185.0" cy="404.6" r="0.55" fill="#b8c6ee"/>
<circle cx="186.9" cy="388.4" r="0.55" fill="#b8c6ee"/>
<circle cx="183.7" cy="400.7" r="0.55" fill="#b8c6ee"/>
<circle cx="191.6" cy="403.4" r="0.55" fill="#b8c6ee"/>
<circle cx="188.5" cy="399.4" r="0.55" fill="#b8c6ee"/>
<circle cx="183.2" cy="395.3" r="0.55" fill="#b8c6ee"/>
<circle cx="185.7" cy="393.0" r="0.55" fill="#b8c6ee"/>
<circle cx="187.3" cy="395.3" r="0.55" fill="#b8c6ee"/>
<circle cx="188.1" cy="405.9" r="0.55" fill="#b8c6ee"/>
<circle cx="189.9" cy="400.7" r="0.55" fill="#b8c6ee"/>
<circle cx="186.2" cy="389.8" r="0.55" fill="#b8c6ee"/>
<circle cx="186.5" cy="401.7" r="0.55" fill="#b8c6ee"/>
<circle cx="183.8" cy="404.6" r="0.55" fill="#b8c6ee"/>
<circle cx="185.6" cy="400.6" r="0.55" fill="#b8c6ee"/>
<circle cx="185.9" cy="390.7" r="0.55" fill="#b8c6ee"/>
<circle cx="192.1" cy="393.3" r="0.55" fill="#b8c6ee"/>
<circle cx="190.4" cy="394.6" r="0.55" fill="#b8c6ee"/>
<circle cx="188.1" cy="392.8" r="0.55" fill="#b8c6ee"/>
<circle cx="185.4" cy="403.8" r="0.55" fill="#b8c6ee"/>
<circle cx="192.2" cy="394.2" r="0.55" fill="#b8c6ee"/>
<circle cx="187.0" cy="404.0" r="0.55" fill="#b8c6ee"/>
<circle cx="184.6" cy="402.5" r="0.55" fill="#b8c6ee"/>
<circle cx="184.0" cy="401.8" r="0.5" fill="#ffffff"/>
<circle cx="188.5" cy="405.1" r="0.5" fill="#ffffff"/>
<circle cx="188.3" cy="391.0" r="0.5" fill="#ffffff"/>
<circle cx="189.3" cy="391.6" r="0.5" fill="#ffffff"/>
<circle cx="189.3" cy="405.8" r="0.5" fill="#ffffff"/>
<circle cx="189.3" cy="394.4" r="0.5" fill="#ffffff"/>
<circle cx="191.3" cy="399.0" r="0.5" fill="#ffffff"/>
<circle cx="182.7" cy="395.9" r="0.5" fill="#ffffff"/>
<circle cx="191.7" cy="396.3" r="0.5" fill="#ffffff"/>
<circle cx="187.5" cy="395.6" r="0.5" fill="#ffffff"/>
<circle cx="181.9" cy="395.4" r="0.5" fill="#ffffff"/>
<circle cx="188.5" cy="399.4" r="0.5" fill="#ffffff"/>
<circle cx="186.5" cy="388.5" r="0.5" fill="#ffffff"/>
<circle cx="191.1" cy="402.0" r="0.5" fill="#ffffff"/>
<circle cx="190.2" cy="404.8" r="0.5" fill="#ffffff"/>
<circle cx="185.2" cy="394.0" r="0.5" fill="#ffffff"/>
<circle cx="188.0" cy="406.6" r="0.5" fill="#ffffff"/>
<circle cx="181.8" cy="396.8" r="0.5" fill="#ffffff"/>
<circle cx="184.3" cy="401.6" r="0.5" fill="#ffffff"/>
<circle cx="191.8" cy="396.4" r="0.5" fill="#ffffff"/>
<circle cx="182.6" cy="398.3" r="0.5" fill="#ffffff"/>
<circle cx="186.1" cy="389.7" r="0.5" fill="#ffffff"/>
<circle cx="190.3" cy="394.7" r="0.5" fill="#ffffff"/>
<circle cx="189.3" cy="390.8" r="0.5" fill="#ffffff"/>
<circle cx="190.3" cy="390.9" r="0.5" fill="#ffffff"/>
<circle cx="179.3" cy="411.6" r="0.55" fill="#a8b8e0"/>
<circle cx="181.9" cy="413.4" r="0.55" fill="#a8b8e0"/>
<circle cx="167.5" cy="413.6" r="0.55" fill="#a8b8e0"/>
<circle cx="176.9" cy="412.2" r="0.55" fill="#a8b8e0"/>
<circle cx="172.0" cy="414.5" r="0.55" fill="#a8b8e0"/>
<circle cx="174.5" cy="411.0" r="0.55" fill="#a8b8e0"/>
<circle cx="172.4" cy="414.9" r="0.55" fill="#a8b8e0"/>
<circle cx="176.7" cy="415.9" r="0.55" fill="#a8b8e0"/>
<circle cx="172.7" cy="416.9" r="0.55" fill="#a8b8e0"/>
<circle cx="179.7" cy="414.6" r="0.55" fill="#a8b8e0"/>
<circle cx="180.4" cy="415.6" r="0.55" fill="#a8b8e0"/>
<circle cx="175.6" cy="412.7" r="0.55" fill="#a8b8e0"/>
<circle cx="180.6" cy="414.8" r="0.55" fill="#a8b8e0"/>
<circle cx="167.6" cy="412.6" r="0.55" fill="#a8b8e0"/>
<circle cx="177.9" cy="414.2" r="0.55" fill="#a8b8e0"/>
<circle cx="176.7" cy="415.3" r="0.55" fill="#a8b8e0"/>
<circle cx="175.7" cy="416.5" r="0.55" fill="#a8b8e0"/>
<circle cx="171.5" cy="413.2" r="0.55" fill="#a8b8e0"/>
<circle cx="176.9" cy="415.5" r="0.55" fill="#a8b8e0"/>
<circle cx="178.7" cy="416.3" r="0.55" fill="#a8b8e0"/>
<circle cx="172.5" cy="416.1" r="0.55" fill="#a8b8e0"/>
<circle cx="177.6" cy="412.1" r="0.55" fill="#a8b8e0"/>
<circle cx="174.4" cy="416.8" r="0.55" fill="#a8b8e0"/>
<circle cx="179.5" cy="413.1" r="0.55" fill="#a8b8e0"/>
<circle cx="166.6" cy="413.1" r="0.55" fill="#a8b8e0"/>
<path d="M147.5 393.5 C146.2 394.1 145.3 397.2 144.8 400.0 C144.3 402.8 143.8 407.4 144.5 410.2 C145.2 413.0 146.9 415.3 148.8 417.0 C150.7 418.7 153.6 420.2 155.8 420.6 C158.0 421.0 160.6 420.2 162.0 419.5 C163.4 418.8 164.2 418.1 164.0 416.5 C163.8 414.9 161.8 412.2 160.5 410.0 C159.2 407.8 157.8 405.2 156.5 403.0 C155.2 400.8 154.0 398.1 152.5 396.5 C151.0 394.9 148.8 392.9 147.5 393.5Z" fill="#9c7942"/>
<circle cx="149.7" cy="407.5" r="0.5" fill="#b39262"/>
<circle cx="159.5" cy="410.0" r="0.5" fill="#b39262"/>
<circle cx="154.4" cy="401.1" r="0.5" fill="#b39262"/>
<circle cx="148.0" cy="405.8" r="0.5" fill="#b39262"/>
<circle cx="151.9" cy="416.8" r="0.5" fill="#b39262"/>
<circle cx="151.1" cy="402.9" r="0.5" fill="#b39262"/>
<circle cx="157.8" cy="407.5" r="0.5" fill="#b39262"/>
<circle cx="148.7" cy="413.4" r="0.5" fill="#b39262"/>
<circle cx="151.8" cy="399.4" r="0.5" fill="#b39262"/>
<circle cx="154.5" cy="410.3" r="0.5" fill="#b39262"/>
<circle cx="151.4" cy="411.6" r="0.5" fill="#b39262"/>
<circle cx="156.4" cy="401.7" r="0.5" fill="#b39262"/>
<circle cx="148.5" cy="399.4" r="0.5" fill="#b39262"/>
<circle cx="152.5" cy="414.3" r="0.5" fill="#b39262"/>
<circle cx="156.6" cy="414.1" r="0.5" fill="#b39262"/>
<circle cx="159.3" cy="407.1" r="0.5" fill="#b39262"/>
<circle cx="156.6" cy="399.5" r="0.5" fill="#b39262"/>
<circle cx="156.2" cy="409.6" r="0.5" fill="#b39262"/>
<circle cx="152.5" cy="404.0" r="0.5" fill="#b39262"/>
<circle cx="148.2" cy="407.9" r="0.5" fill="#b39262"/>
<circle cx="158.2" cy="404.9" r="0.5" fill="#b39262"/>
<circle cx="155.4" cy="402.7" r="0.5" fill="#b39262"/>
<circle cx="154.1" cy="400.7" r="0.5" fill="#b39262"/>
<circle cx="154.8" cy="405.5" r="0.5" fill="#b39262"/>
<circle cx="154.5" cy="402.9" r="0.5" fill="#b39262"/>
<circle cx="148.1" cy="405.0" r="0.5" fill="#b39262"/>
<circle cx="156.5" cy="414.6" r="0.5" fill="#b39262"/>
<circle cx="151.5" cy="412.2" r="0.5" fill="#b39262"/>
<circle cx="156.4" cy="409.5" r="0.5" fill="#b39262"/>
<circle cx="147.2" cy="408.7" r="0.5" fill="#b39262"/>
<path d="M163.5 417.0 C164.2 415.2 166.2 414.2 168.0 413.5 C169.8 412.8 171.6 412.5 174.0 412.5 C176.4 412.5 180.5 412.4 182.5 413.5 C184.5 414.6 185.4 416.8 185.8 418.8 C186.2 420.8 185.7 423.7 184.8 425.7 C183.9 427.7 182.8 429.8 180.5 431.0 C178.2 432.2 173.7 432.9 171.3 432.7 C168.9 432.5 167.3 431.1 166.1 429.6 C164.8 428.2 164.2 426.1 163.8 424.0 C163.4 421.9 162.8 418.8 163.5 417.0Z" fill="#4a6888"/>
<circle cx="167.8" cy="417.9" r="0.5" fill="#9fb2d0"/>
<circle cx="176.0" cy="417.2" r="0.5" fill="#9fb2d0"/>
<circle cx="164.4" cy="416.7" r="0.5" fill="#9fb2d0"/>
<circle cx="175.1" cy="413.9" r="0.5" fill="#9fb2d0"/>
<circle cx="176.9" cy="416.1" r="0.5" fill="#9fb2d0"/>
<circle cx="171.0" cy="414.6" r="0.5" fill="#9fb2d0"/>
<circle cx="167.0" cy="415.2" r="0.5" fill="#9fb2d0"/>
<circle cx="179.9" cy="416.2" r="0.5" fill="#9fb2d0"/>
<circle cx="173.1" cy="414.7" r="0.5" fill="#9fb2d0"/>
<circle cx="168.8" cy="414.9" r="0.5" fill="#9fb2d0"/>
<circle cx="167.8" cy="417.5" r="0.5" fill="#9fb2d0"/>
<circle cx="170.6" cy="417.7" r="0.5" fill="#9fb2d0"/>
<circle cx="166.9" cy="417.5" r="0.5" fill="#9fb2d0"/>
<circle cx="171.9" cy="417.3" r="0.5" fill="#9fb2d0"/>
<circle cx="171.5" cy="414.3" r="0.5" fill="#9fb2d0"/>
<circle cx="177.6" cy="415.2" r="0.5" fill="#9fb2d0"/>
<circle cx="171.2" cy="414.3" r="0.5" fill="#9fb2d0"/>
<circle cx="173.1" cy="415.2" r="0.5" fill="#9fb2d0"/>
<circle cx="173.6" cy="416.7" r="0.5" fill="#9fb2d0"/>
<circle cx="169.0" cy="413.7" r="0.5" fill="#9fb2d0"/>
<circle cx="174.2" cy="417.7" r="0.5" fill="#9fb2d0"/>
<circle cx="175.2" cy="414.0" r="0.5" fill="#9fb2d0"/>
<path d="M169.6 371.2 C171.9 371.1 173.1 371.5 174.8 372.1 C176.5 372.7 178.3 373.2 180.0 374.7 C181.7 376.1 183.5 378.6 185.2 380.8 C186.9 383.0 189.1 385.4 190.4 387.7 C191.7 390.0 192.3 392.0 193.0 394.6 C193.7 397.2 194.8 400.4 194.7 403.3 C194.5 406.2 193.2 409.3 192.1 411.9 C190.9 414.5 188.7 416.2 187.8 418.8 C186.9 421.4 187.6 425.2 186.9 427.5 C186.2 429.8 185.4 431.3 183.4 432.7 C181.4 434.1 177.4 435.5 174.8 435.8 C172.2 436.1 169.9 435.5 167.9 434.4 C165.9 433.3 163.8 431.2 162.7 429.2 C161.5 427.2 162.7 423.9 161.0 422.3 C159.3 420.7 154.9 420.9 152.3 419.7 C149.7 418.5 147.4 417.8 145.4 415.4 C143.4 412.9 140.9 408.5 140.2 405.0 C139.5 401.5 140.1 397.8 141.0 394.6 C141.9 391.4 143.5 388.9 145.4 386.0 C147.3 383.1 149.7 379.5 152.3 377.3 C154.9 375.1 158.1 374.0 161.0 373.0 C163.9 372.0 167.3 371.3 169.6 371.2Z" fill="none" stroke="#000" stroke-width="2.3" stroke-linecap="round" stroke-dasharray="0 3.8"/>
<text x="169.30" y="400.00" font-size="10" fill="#dfe5f6" text-anchor="middle" stroke="#dfe5f6" stroke-width="0.18" >0</text>
<text x="152.30" y="413.70" font-size="10" fill="#f3e4bc" text-anchor="middle" stroke="#f3e4bc" stroke-width="0.18" >2</text>
<text x="175.10" y="427.00" font-size="10" fill="#d0dcea" text-anchor="middle" stroke="#d0dcea" stroke-width="0.18" >5</text>
<path d="M197.3 401.5 C198.2 400.2 200.5 399.4 202.5 399.0 C204.5 398.6 207.5 398.3 209.4 399.0 C211.3 399.7 212.7 401.4 213.7 403.3 C214.7 405.2 215.4 407.6 215.4 410.2 C215.4 412.8 215.0 416.9 213.7 418.8 C212.4 420.7 210.1 421.0 207.7 421.4 C205.2 421.8 201.2 421.8 199.0 421.4 C196.8 421.0 195.3 420.4 194.7 418.8 C194.1 417.2 195.2 414.0 195.6 412.0 C196.0 410.0 197.0 408.4 197.3 406.7 C197.6 404.9 196.4 402.8 197.3 401.5Z" fill="#c9304f"/>
<circle cx="201.2" cy="411.3" r="0.55" fill="#f0b0c0"/>
<circle cx="200.6" cy="411.5" r="0.55" fill="#f0b0c0"/>
<circle cx="199.3" cy="410.7" r="0.55" fill="#f0b0c0"/>
<circle cx="201.7" cy="408.4" r="0.55" fill="#f0b0c0"/>
<circle cx="197.6" cy="409.7" r="0.55" fill="#f0b0c0"/>
<circle cx="200.3" cy="405.5" r="0.55" fill="#f0b0c0"/>
<circle cx="198.7" cy="411.9" r="0.55" fill="#f0b0c0"/>
<circle cx="199.7" cy="410.3" r="0.55" fill="#f0b0c0"/>
<circle cx="198.0" cy="412.4" r="0.55" fill="#f0b0c0"/>
<circle cx="202.6" cy="409.5" r="0.55" fill="#f0b0c0"/>
<circle cx="198.7" cy="406.7" r="0.55" fill="#f0b0c0"/>
<circle cx="201.7" cy="410.3" r="0.55" fill="#f0b0c0"/>
<circle cx="198.7" cy="413.4" r="0.55" fill="#f0b0c0"/>
<circle cx="201.4" cy="411.9" r="0.55" fill="#f0b0c0"/>
<path d="M197.3 397.2 C199.0 395.6 201.9 395.6 204.2 395.5 C206.5 395.4 209.2 395.3 211.1 396.3 C213.0 397.3 214.4 399.2 215.4 401.5 C216.4 403.8 217.2 407.0 217.2 410.2 C217.2 413.4 216.7 418.2 215.4 420.6 C214.1 423.1 211.9 424.1 209.4 424.9 C206.9 425.7 203.3 425.8 200.7 425.4 C198.1 425.0 195.2 424.0 193.8 422.3 C192.4 420.6 192.1 418.3 192.1 415.4 C192.1 412.5 192.9 408.0 193.8 405.0 C194.7 402.0 195.6 398.8 197.3 397.2Z" fill="none" stroke="#000" stroke-width="2.3" stroke-linecap="round" stroke-dasharray="0 3.8"/>
<text x="206.50" y="414.50" font-size="10" fill="#f6e6ea" text-anchor="middle" stroke="#f6e6ea" stroke-width="0.18" >1</text>
<path d="M128 410 L134 407.5" stroke="#5a6fc0" stroke-width="1.5" stroke-linecap="round"/>
<circle cx="114.5" cy="343" r="0.6" fill="#7a8ec8"/>
<circle cx="200" cy="374" r="0.6" fill="#9cbcdc"/>
<circle cx="202.5" cy="372" r="0.6" fill="#aac4e0"/>
<circle cx="201.5" cy="375.5" r="0.6" fill="#aac4e0"/>
<circle cx="222" cy="345" r="0.6" fill="#c0c8e0"/>
<path d="M48.5 434.0 C49.5 432.7 52.6 432.6 55.0 432.0 C57.4 431.4 60.5 430.9 63.0 430.5 C65.5 430.1 68.7 428.8 70.0 429.5 C71.3 430.2 71.2 432.9 71.0 435.0 C70.8 437.1 69.8 440.0 69.0 442.0 C68.2 444.0 67.2 445.7 66.0 447.0 C64.8 448.3 63.7 449.7 62.0 450.0 C60.3 450.3 57.8 449.8 56.0 449.0 C54.2 448.2 52.2 446.5 51.0 445.0 C49.8 443.5 49.4 441.8 49.0 440.0 C48.6 438.2 47.5 435.3 48.5 434.0Z" fill="#9cbd5c"/>
<path d="M72.0 435.0 C73.3 434.3 76.3 434.5 78.0 435.0 C79.7 435.5 81.5 436.7 82.0 438.0 C82.5 439.3 81.3 441.0 81.0 443.0 C80.7 445.0 80.5 447.7 80.0 450.0 C79.5 452.3 79.3 455.3 78.0 457.0 C76.7 458.7 74.2 459.7 72.0 460.0 C69.8 460.3 66.8 460.0 65.0 459.0 C63.2 458.0 61.8 455.7 61.5 454.0 C61.2 452.3 61.9 450.7 63.0 449.0 C64.1 447.3 66.8 445.7 68.0 444.0 C69.2 442.3 69.3 440.5 70.0 439.0 C70.7 437.5 70.7 435.7 72.0 435.0Z" fill="#c0643c"/>
<circle cx="66.5" cy="440.7" r="0.55" fill="#ecc8a8"/>
<circle cx="71.4" cy="436.8" r="0.55" fill="#ecc8a8"/>
<circle cx="71.9" cy="445.4" r="0.55" fill="#ecc8a8"/>
<circle cx="72.4" cy="438.5" r="0.55" fill="#ecc8a8"/>
<circle cx="68.3" cy="444.4" r="0.55" fill="#ecc8a8"/>
<circle cx="72.1" cy="444.9" r="0.55" fill="#ecc8a8"/>
<circle cx="72.9" cy="440.6" r="0.55" fill="#ecc8a8"/>
<circle cx="69.2" cy="435.6" r="0.55" fill="#ecc8a8"/>
<circle cx="71.3" cy="446.5" r="0.55" fill="#ecc8a8"/>
<circle cx="68.8" cy="439.1" r="0.55" fill="#ecc8a8"/>
<circle cx="71.7" cy="442.5" r="0.55" fill="#ecc8a8"/>
<circle cx="67.0" cy="438.7" r="0.55" fill="#ecc8a8"/>
<circle cx="68.2" cy="446.1" r="0.55" fill="#ecc8a8"/>
<circle cx="68.2" cy="444.1" r="0.55" fill="#ecc8a8"/>
<circle cx="72.8" cy="445.2" r="0.55" fill="#ecc8a8"/>
<circle cx="72.5" cy="445.3" r="0.55" fill="#ecc8a8"/>
<circle cx="67.1" cy="439.8" r="0.55" fill="#ecc8a8"/>
<circle cx="68.1" cy="439.9" r="0.55" fill="#ecc8a8"/>
<circle cx="73.4" cy="437.8" r="0.55" fill="#ecc8a8"/>
<circle cx="71.3" cy="436.8" r="0.55" fill="#ecc8a8"/>
<circle cx="72.6" cy="444.8" r="0.55" fill="#ecc8a8"/>
<circle cx="69.1" cy="446.5" r="0.55" fill="#ecc8a8"/>
<circle cx="67.2" cy="455.8" r="0.5" fill="#e8a888"/>
<circle cx="67.8" cy="450.1" r="0.5" fill="#e8a888"/>
<circle cx="65.9" cy="451.6" r="0.5" fill="#e8a888"/>
<circle cx="68.7" cy="452.4" r="0.5" fill="#e8a888"/>
<circle cx="70.9" cy="451.6" r="0.5" fill="#e8a888"/>
<circle cx="65.8" cy="449.7" r="0.5" fill="#e8a888"/>
<circle cx="65.4" cy="448.2" r="0.5" fill="#e8a888"/>
<circle cx="64.7" cy="454.6" r="0.5" fill="#e8a888"/>
<circle cx="67.2" cy="451.4" r="0.5" fill="#e8a888"/>
<circle cx="67.9" cy="455.3" r="0.5" fill="#e8a888"/>
<path d="M44.0 433.0 C44.7 431.3 45.8 430.8 48.0 430.0 C50.2 429.2 54.3 428.6 57.0 428.0 C59.7 427.4 61.8 427.0 64.0 426.5 C66.2 426.0 68.3 424.8 70.0 425.0 C71.7 425.2 72.5 426.8 74.0 428.0 C75.5 429.2 77.3 431.0 79.0 432.0 C80.7 433.0 82.8 433.0 84.0 434.0 C85.2 435.0 86.2 436.2 86.5 438.0 C86.8 439.8 86.6 442.7 86.0 445.0 C85.4 447.3 84.0 449.8 83.0 452.0 C82.0 454.2 81.3 456.3 80.0 458.0 C78.7 459.7 76.8 461.0 75.0 462.0 C73.2 463.0 71.0 464.0 69.0 464.0 C67.0 464.0 64.7 463.0 63.0 462.0 C61.3 461.0 60.3 459.3 59.0 458.0 C57.7 456.7 56.5 455.2 55.0 454.0 C53.5 452.8 51.5 452.3 50.0 451.0 C48.5 449.7 47.0 447.8 46.0 446.0 C45.0 444.2 44.3 442.2 44.0 440.0 C43.7 437.8 43.3 434.7 44.0 433.0Z" fill="none" stroke="#000" stroke-width="2.3" stroke-linecap="round" stroke-dasharray="0 3.8"/>
<text x="59.00" y="443.00" font-size="10" fill="#16220a" text-anchor="middle" stroke="#16220a" stroke-width="0.18" font-weight="bold" >3</text>
<text x="73.00" y="457.50" font-size="10" fill="#f8e2d8" text-anchor="middle" stroke="#f8e2d8" stroke-width="0.18" >6</text>
<text x="152.00" y="313.50" font-size="10.0" fill="#141414" text-anchor="start" stroke="#141414" stroke-width="0.18" textLength="48" lengthAdjust="spacingAndGlyphs" >BCL2A1++</text>
<text x="129.20" y="371.80" font-size="9.7" fill="#141414" text-anchor="middle" stroke="#141414" stroke-width="0.18" textLength="41.1" lengthAdjust="spacingAndGlyphs" >BCL2A1+</text>
<text x="129.00" y="383.40" font-size="9.7" fill="#141414" text-anchor="middle" stroke="#141414" stroke-width="0.18" textLength="37.8" lengthAdjust="spacingAndGlyphs" >MCL1++</text>
<text x="208.80" y="442.00" font-size="9.7" fill="#141414" text-anchor="middle" stroke="#141414" stroke-width="0.18" textLength="43.8" lengthAdjust="spacingAndGlyphs" >MCL1amp</text>
<text x="209.00" y="453.50" font-size="9.7" fill="#141414" text-anchor="middle" stroke="#141414" stroke-width="0.18" textLength="23.8" lengthAdjust="spacingAndGlyphs" >[11%]</text>
<text x="51.50" y="419.40" font-size="9.6" fill="#141414" text-anchor="start" stroke="#141414" stroke-width="0.18" textLength="36.2" lengthAdjust="spacingAndGlyphs" >MCL1++</text>
<path d="M31.2 450V499.6H82" fill="none" stroke="#000" stroke-width="1.5"/>
<path d="M31.2 447.3L27.8 454.3H34.6Z" fill="#000"/>
<path d="M87 499.6L80 496.2V503Z" fill="#000"/>
<text x="89.80" y="503.20" font-size="9.3" fill="#141414" text-anchor="start" stroke="#141414" stroke-width="0.18" textLength="37" lengthAdjust="spacingAndGlyphs" >UMAP_1</text>
<text x="33.90" y="443.80" font-size="9.3" fill="#141414" text-anchor="start" stroke="#141414" stroke-width="0.18" textLength="37.6" lengthAdjust="spacingAndGlyphs" transform="rotate(-90 33.90 443.80)" >UMAP_2</text>
<text x="236.80" y="306.00" font-size="7.4" fill="#1a1a1a" text-anchor="start" stroke="#1a1a1a" stroke-width="0.18" textLength="25.6" lengthAdjust="spacingAndGlyphs" >Identity</text>
<circle cx="244" cy="317.8" r="3.9" fill="#3d50b4"/>
<text x="250.90" y="320.70" font-size="8.2" fill="#141414" text-anchor="start" stroke="#141414" stroke-width="0.18" >0</text>
<circle cx="244" cy="332.9" r="3.9" fill="#c93052"/>
<text x="250.90" y="335.80" font-size="8.2" fill="#141414" text-anchor="start" stroke="#141414" stroke-width="0.18" >1</text>
<circle cx="244" cy="348.0" r="3.9" fill="#8c6a32"/>
<text x="250.90" y="350.90" font-size="8.2" fill="#141414" text-anchor="start" stroke="#141414" stroke-width="0.18" >2</text>
<circle cx="244" cy="363.1" r="3.9" fill="#a5bd68"/>
<text x="250.90" y="366.00" font-size="8.2" fill="#141414" text-anchor="start" stroke="#141414" stroke-width="0.18" >3</text>
<circle cx="244" cy="378.2" r="3.9" fill="#c7cb86"/>
<text x="250.90" y="381.10" font-size="8.2" fill="#141414" text-anchor="start" stroke="#141414" stroke-width="0.18" >4</text>
<circle cx="244" cy="393.3" r="3.9" fill="#3f5a7a"/>
<text x="250.90" y="396.20" font-size="8.2" fill="#141414" text-anchor="start" stroke="#141414" stroke-width="0.18" >5</text>
<circle cx="244" cy="408.4" r="3.9" fill="#c2602f"/>
<text x="250.90" y="411.30" font-size="8.2" fill="#141414" text-anchor="start" stroke="#141414" stroke-width="0.18" >6</text>
<circle cx="244" cy="423.5" r="3.9" fill="#78a6ca"/>
<text x="250.90" y="426.40" font-size="8.2" fill="#141414" text-anchor="start" stroke="#141414" stroke-width="0.18" >7</text>
<circle cx="244" cy="438.6" r="3.9" fill="#6a5ab0"/>
<text x="250.90" y="441.50" font-size="8.2" fill="#141414" text-anchor="start" stroke="#141414" stroke-width="0.18" >8</text>
<text x="384.30" y="272.60" font-size="9.4" fill="#141414" text-anchor="start" stroke="#141414" stroke-width="0.18" textLength="77.6" lengthAdjust="spacingAndGlyphs" >1q21 (MCL1) amp</text>
<path d="M349 275.9V310.2H497" fill="none" stroke="#2a2a2a" stroke-width="1.7"/>
<path d="M346 282.6H349" stroke="#2a2a2a" stroke-width="1"/>
<path d="M347 290.7H349" stroke="#2a2a2a" stroke-width="1"/>
<path d="M346 298.8H349" stroke="#2a2a2a" stroke-width="1"/>
<path d="M347 306.9H349" stroke="#2a2a2a" stroke-width="1"/>
<text x="342.50" y="285.20" font-size="7.3" fill="#141414" text-anchor="end" stroke="#141414" stroke-width="0.18" >1.0</text>
<text x="342.50" y="301.40" font-size="7.3" fill="#141414" text-anchor="end" stroke="#141414" stroke-width="0.18" >0.0</text>
<text x="324.60" y="292.90" font-size="8.8" fill="#1a1a1a" text-anchor="middle" stroke="#1a1a1a" stroke-width="0.18" textLength="37.7" lengthAdjust="spacingAndGlyphs" transform="rotate(-90 324.60 292.90)" >Relative CN</text>
<path d="M358.4 285.8V302.9" stroke="#3d50b4" stroke-width="0.9"/>
<path d="M358.4 294.6 L361.9 296.4 L364.6 298.2 L365.4 298.8 L364.6 299.4 L361.9 301.2 L358.4 303.0 L354.9 301.2 L352.2 299.4 L351.4 298.8 L352.2 298.2 L354.9 296.4Z" fill="#3d50b4"/>
<path d="M374.6 276.9V302.9" stroke="#c93052" stroke-width="0.9"/>
<path d="M374.6 283.3 L378.2 285.4 L381.0 287.5 L381.9 288.3 L381.0 289.0 L378.2 291.2 L374.6 293.3 L370.9 291.2 L368.1 289.0 L367.3 288.3 L368.1 287.5 L370.9 285.4Z" fill="#c93052"/>
<path d="M390.7 289.9V305.3" stroke="#8c6a32" stroke-width="0.9"/>
<path d="M390.7 294.6 L394.0 296.4 L396.5 298.2 L397.3 298.8 L396.5 299.4 L394.0 301.2 L390.7 303.0 L387.4 301.2 L384.9 299.4 L384.1 298.8 L384.9 298.2 L387.4 296.4Z" fill="#8c6a32"/>
<path d="M406.9 289.9V308.5" stroke="#a5bd68" stroke-width="0.9"/>
<path d="M406.9 294.6 L410.2 296.4 L412.7 298.2 L413.5 298.8 L412.7 299.4 L410.2 301.2 L406.9 303.0 L403.6 301.2 L401.1 299.4 L400.3 298.8 L401.1 298.2 L403.6 296.4Z" fill="#a5bd68"/>
<path d="M423.1 290.7V303.7" stroke="#c7cb86" stroke-width="0.9"/>
<path d="M423.1 294.6 L426.4 296.4 L428.9 298.2 L429.7 298.8 L428.9 299.4 L426.4 301.2 L423.1 303.0 L419.8 301.2 L417.3 299.4 L416.5 298.8 L417.3 298.2 L419.8 296.4Z" fill="#c7cb86"/>
<path d="M439.2 285.5V303.7" stroke="#3f5a7a" stroke-width="0.9"/>
<path d="M439.2 294.4 L442.8 296.2 L445.4 298.1 L446.2 298.8 L445.4 299.5 L442.8 301.4 L439.2 303.2 L435.8 301.4 L433.1 299.5 L432.2 298.8 L433.1 298.1 L435.8 296.2Z" fill="#3f5a7a"/>
<path d="M455.4 289.9V305.3" stroke="#c2602f" stroke-width="0.9"/>
<path d="M455.4 295.1 L458.7 296.9 L461.2 298.7 L462.0 299.3 L461.2 299.9 L458.7 301.7 L455.4 303.5 L452.1 301.7 L449.6 299.9 L448.8 299.3 L449.6 298.7 L452.1 296.9Z" fill="#c2602f"/>
<path d="M471.6 290.7V303.7" stroke="#78a6ca" stroke-width="0.9"/>
<path d="M471.6 294.1 L474.9 295.9 L477.4 297.7 L478.2 298.3 L477.4 298.9 L474.9 300.8 L471.6 302.5 L468.3 300.8 L465.8 298.9 L465.0 298.3 L465.8 297.7 L468.3 295.9Z" fill="#78a6ca"/>
<path d="M487.8 291.5V303.7" stroke="#6a5ab0" stroke-width="0.9"/>
<path d="M487.8 295.1 L490.9 296.9 L493.2 298.7 L494.0 299.3 L493.2 299.9 L490.9 301.7 L487.8 303.5 L484.7 301.7 L482.3 299.9 L481.6 299.3 L482.3 298.7 L484.7 296.9Z" fill="#6a5ab0"/>
<text x="358.40" y="323.40" font-size="8.0" fill="#141414" text-anchor="middle" stroke="#141414" stroke-width="0.18" >0</text>
<path d="M358.4 310.6v2.8" stroke="#2a2a2a" stroke-width="0.9"/>
<text x="374.57" y="323.40" font-size="8.0" fill="#141414" text-anchor="middle" stroke="#141414" stroke-width="0.18" >1</text>
<path d="M374.6 310.6v2.8" stroke="#2a2a2a" stroke-width="0.9"/>
<text x="390.74" y="323.40" font-size="8.0" fill="#141414" text-anchor="middle" stroke="#141414" stroke-width="0.18" >2</text>
<path d="M390.7 310.6v2.8" stroke="#2a2a2a" stroke-width="0.9"/>
<text x="406.91" y="323.40" font-size="8.0" fill="#141414" text-anchor="middle" stroke="#141414" stroke-width="0.18" >3</text>
<path d="M406.9 310.6v2.8" stroke="#2a2a2a" stroke-width="0.9"/>
<text x="423.08" y="323.40" font-size="8.0" fill="#141414" text-anchor="middle" stroke="#141414" stroke-width="0.18" >4</text>
<path d="M423.1 310.6v2.8" stroke="#2a2a2a" stroke-width="0.9"/>
<text x="439.25" y="323.40" font-size="8.0" fill="#141414" text-anchor="middle" stroke="#141414" stroke-width="0.18" >5</text>
<path d="M439.2 310.6v2.8" stroke="#2a2a2a" stroke-width="0.9"/>
<text x="455.42" y="323.40" font-size="8.0" fill="#141414" text-anchor="middle" stroke="#141414" stroke-width="0.18" >6</text>
<path d="M455.4 310.6v2.8" stroke="#2a2a2a" stroke-width="0.9"/>
<text x="471.59" y="323.40" font-size="8.0" fill="#141414" text-anchor="middle" stroke="#141414" stroke-width="0.18" >7</text>
<path d="M471.6 310.6v2.8" stroke="#2a2a2a" stroke-width="0.9"/>
<text x="487.76" y="323.40" font-size="8.0" fill="#141414" text-anchor="middle" stroke="#141414" stroke-width="0.18" >8</text>
<path d="M487.8 310.6v2.8" stroke="#2a2a2a" stroke-width="0.9"/>
<text x="410.40" y="335.60" font-size="9.6" fill="#141414" text-anchor="start" stroke="#141414" stroke-width="0.18" textLength="24.2" lengthAdjust="spacingAndGlyphs" >MCL1</text>
<path d="M349 339.3V373.5H497" fill="none" stroke="#2a2a2a" stroke-width="1.7"/>
<path d="M346 350.0H349" stroke="#2a2a2a" stroke-width="1"/>
<path d="M347 355.8H349" stroke="#2a2a2a" stroke-width="1"/>
<path d="M346 361.5H349" stroke="#2a2a2a" stroke-width="1"/>
<path d="M347 367.2H349" stroke="#2a2a2a" stroke-width="1"/>
<path d="M346 373.0H349" stroke="#2a2a2a" stroke-width="1"/>
<text x="342.00" y="352.60" font-size="7.3" fill="#141414" text-anchor="end" stroke="#141414" stroke-width="0.18" >4</text>
<text x="342.00" y="364.10" font-size="7.3" fill="#141414" text-anchor="end" stroke="#141414" stroke-width="0.18" >2</text>
<text x="342.00" y="375.60" font-size="7.3" fill="#141414" text-anchor="end" stroke="#141414" stroke-width="0.18" >0</text>
<path d="M358.4 350.6 L358.8 352.9 L359.4 354.0 L361.4 356.3 L363.9 359.2 L365.4 361.5 L364.9 363.8 L363.4 365.5 L363.9 367.0 L361.9 368.1 L359.9 369.3 L360.2 370.7 L362.9 371.6 L363.2 373.0 L353.6 373.0 L353.9 371.6 L356.6 370.7 L356.9 369.3 L354.9 368.1 L352.9 367.0 L353.4 365.5 L351.9 363.8 L351.4 361.5 L352.9 359.2 L355.4 356.3 L357.4 354.0 L358.0 352.9 L358.4 350.6Z" fill="#3d50b4" stroke="#3d50b4" stroke-width="0.4"/>
<path d="M374.6 341.9 L375.0 347.1 L375.2 350.9 L378.6 354.0 L382.1 357.5 L378.6 360.9 L375.2 364.4 L375.0 370.1 L375.1 373.0 L374.1 373.0 L374.2 370.1 L374.0 364.4 L370.6 360.9 L367.1 357.5 L370.6 354.0 L374.0 350.9 L374.2 347.1 L374.6 341.9Z" fill="#c93052" stroke="#c93052" stroke-width="0.4"/>
<path d="M390.7 353.4 L391.3 354.9 L393.2 356.3 L395.5 359.2 L396.7 362.1 L396.2 364.9 L395.2 367.0 L392.7 368.4 L392.2 369.8 L394.7 371.3 L395.7 373.0 L385.7 373.0 L386.7 371.3 L389.2 369.8 L388.7 368.4 L386.2 367.0 L385.2 364.9 L384.7 362.1 L385.9 359.2 L388.2 356.3 L390.1 354.9 L390.7 353.4Z" fill="#8c6a32" stroke="#8c6a32" stroke-width="0.4"/>
<path d="M406.9 344.8 L407.3 348.9 L407.9 352.0 L410.7 354.6 L413.1 358.1 L413.9 360.9 L413.7 364.4 L413.2 367.2 L410.4 369.3 L408.9 370.4 L410.9 371.6 L411.9 373.0 L401.9 373.0 L402.9 371.6 L404.9 370.4 L403.4 369.3 L400.6 367.2 L400.1 364.4 L399.9 360.9 L400.7 358.1 L403.1 354.6 L405.9 352.0 L406.5 348.9 L406.9 344.8Z" fill="#a5bd68" stroke="#a5bd68" stroke-width="0.4"/>
<path d="M423.1 353.4 L423.9 355.2 L425.9 357.5 L428.1 360.9 L429.5 364.4 L429.1 367.2 L427.6 369.6 L426.6 371.0 L428.6 373.0 L417.6 373.0 L419.6 371.0 L418.6 369.6 L417.1 367.2 L416.7 364.4 L418.1 360.9 L420.3 357.5 L422.3 355.2 L423.1 353.4Z" fill="#c7cb86" stroke="#c7cb86" stroke-width="0.4"/>
<path d="M439.2 350.6 L439.9 354.0 L441.1 356.9 L442.9 360.4 L444.4 363.8 L444.8 366.7 L443.2 369.0 L442.2 370.7 L444.2 372.1 L445.2 373.0 L433.2 373.0 L434.2 372.1 L436.2 370.7 L435.2 369.0 L433.8 366.7 L434.1 363.8 L435.6 360.4 L437.4 356.9 L438.6 354.0 L439.2 350.6Z" fill="#3f5a7a" stroke="#3f5a7a" stroke-width="0.4"/>
<path d="M455.4 348.3 L456.0 351.7 L457.4 354.0 L459.9 356.9 L462.0 360.4 L462.4 363.8 L461.7 366.7 L459.4 369.0 L458.9 370.7 L460.9 372.1 L461.4 373.0 L449.4 373.0 L449.9 372.1 L451.9 370.7 L451.4 369.0 L449.1 366.7 L448.4 363.8 L448.8 360.4 L450.9 356.9 L453.4 354.0 L454.8 351.7 L455.4 348.3Z" fill="#c2602f" stroke="#c2602f" stroke-width="0.4"/>
<path d="M471.6 354.0 L472.6 356.3 L475.1 358.6 L477.6 361.5 L478.6 363.8 L477.1 366.1 L474.6 368.4 L472.6 370.4 L474.1 371.9 L475.6 373.0 L467.6 373.0 L469.1 371.9 L470.6 370.4 L468.6 368.4 L466.1 366.1 L464.6 363.8 L465.6 361.5 L468.1 358.6 L470.6 356.3 L471.6 354.0Z" fill="#78a6ca" stroke="#78a6ca" stroke-width="0.4"/>
<path d="M487.8 354.0 L489.4 356.9 L491.4 360.4 L493.3 363.8 L494.8 366.7 L493.3 368.4 L490.8 370.1 L491.0 371.6 L493.3 373.0 L482.3 373.0 L484.6 371.6 L484.8 370.1 L482.3 368.4 L480.8 366.7 L482.3 363.8 L484.2 360.4 L486.2 356.9 L487.8 354.0Z" fill="#6a5ab0" stroke="#6a5ab0" stroke-width="0.4"/>
<text x="358.40" y="386.90" font-size="8.0" fill="#141414" text-anchor="middle" stroke="#141414" stroke-width="0.18" >0</text>
<path d="M358.4 374.0v2.8" stroke="#2a2a2a" stroke-width="0.9"/>
<text x="374.57" y="386.90" font-size="8.0" fill="#141414" text-anchor="middle" stroke="#141414" stroke-width="0.18" >1</text>
<path d="M374.6 374.0v2.8" stroke="#2a2a2a" stroke-width="0.9"/>
<text x="390.74" y="386.90" font-size="8.0" fill="#141414" text-anchor="middle" stroke="#141414" stroke-width="0.18" >2</text>
<path d="M390.7 374.0v2.8" stroke="#2a2a2a" stroke-width="0.9"/>
<text x="406.91" y="386.90" font-size="8.0" fill="#141414" text-anchor="middle" stroke="#141414" stroke-width="0.18" >3</text>
<path d="M406.9 374.0v2.8" stroke="#2a2a2a" stroke-width="0.9"/>
<text x="423.08" y="386.90" font-size="8.0" fill="#141414" text-anchor="middle" stroke="#141414" stroke-width="0.18" >4</text>
<path d="M423.1 374.0v2.8" stroke="#2a2a2a" stroke-width="0.9"/>
<text x="439.25" y="386.90" font-size="8.0" fill="#141414" text-anchor="middle" stroke="#141414" stroke-width="0.18" >5</text>
<path d="M439.2 374.0v2.8" stroke="#2a2a2a" stroke-width="0.9"/>
<text x="455.42" y="386.90" font-size="8.0" fill="#141414" text-anchor="middle" stroke="#141414" stroke-width="0.18" >6</text>
<path d="M455.4 374.0v2.8" stroke="#2a2a2a" stroke-width="0.9"/>
<text x="471.59" y="386.90" font-size="8.0" fill="#141414" text-anchor="middle" stroke="#141414" stroke-width="0.18" >7</text>
<path d="M471.6 374.0v2.8" stroke="#2a2a2a" stroke-width="0.9"/>
<text x="487.76" y="386.90" font-size="8.0" fill="#141414" text-anchor="middle" stroke="#141414" stroke-width="0.18" >8</text>
<path d="M487.8 374.0v2.8" stroke="#2a2a2a" stroke-width="0.9"/>
<text x="406.00" y="406.50" font-size="9.4" fill="#141414" text-anchor="start" stroke="#141414" stroke-width="0.18" textLength="33.4" lengthAdjust="spacingAndGlyphs" >BCL2A1</text>
<path d="M349 409.3V443.5H497" fill="none" stroke="#2a2a2a" stroke-width="1.7"/>
<path d="M346 417.5H349" stroke="#2a2a2a" stroke-width="1"/>
<path d="M347 423.7H349" stroke="#2a2a2a" stroke-width="1"/>
<path d="M346 429.9H349" stroke="#2a2a2a" stroke-width="1"/>
<path d="M347 436.1H349" stroke="#2a2a2a" stroke-width="1"/>
<path d="M346 442.3H349" stroke="#2a2a2a" stroke-width="1"/>
<text x="341.60" y="420.10" font-size="7.3" fill="#141414" text-anchor="end" stroke="#141414" stroke-width="0.18" >4</text>
<text x="341.60" y="432.50" font-size="7.3" fill="#141414" text-anchor="end" stroke="#141414" stroke-width="0.18" >2</text>
<text x="341.60" y="444.90" font-size="7.3" fill="#141414" text-anchor="end" stroke="#141414" stroke-width="0.18" >0</text>
<text x="331.80" y="426.50" font-size="7.8" fill="#1a1a1a" text-anchor="middle" stroke="#1a1a1a" stroke-width="0.18" textLength="54" lengthAdjust="spacingAndGlyphs" transform="rotate(-90 331.80 426.50)" >Expression level</text>
<path d="M358.4 416.3 L358.8 421.2 L359.5 426.2 L360.6 429.9 L361.7 433.0 L361.9 435.5 L360.8 438.0 L359.6 439.5 L361.4 441.1 L364.4 442.3 L352.4 442.3 L355.4 441.1 L357.2 439.5 L356.0 438.0 L354.9 435.5 L355.1 433.0 L356.2 429.9 L357.3 426.2 L357.9 421.2 L358.4 416.3Z" fill="#3d50b4" stroke="#3d50b4" stroke-width="0.4"/>
<path d="M374.6 417.5 L375.3 420.6 L376.2 423.7 L378.1 426.8 L380.1 429.9 L381.1 433.0 L380.9 436.1 L379.1 438.6 L376.6 440.1 L378.6 441.4 L381.1 442.3 L368.1 442.3 L370.6 441.4 L372.6 440.1 L370.1 438.6 L368.3 436.1 L368.1 433.0 L369.1 429.9 L371.1 426.8 L373.0 423.7 L373.9 420.6 L374.6 417.5Z" fill="#c93052" stroke="#c93052" stroke-width="0.4"/>
<path d="M390.7 416.3 L391.1 423.7 L391.4 428.7 L392.5 432.4 L393.3 434.9 L392.5 437.3 L391.4 439.2 L393.7 441.1 L396.7 442.3 L384.7 442.3 L387.7 441.1 L390.0 439.2 L388.9 437.3 L388.1 434.9 L388.9 432.4 L390.0 428.7 L390.3 423.7 L390.7 416.3Z" fill="#8c6a32" stroke="#8c6a32" stroke-width="0.4"/>
<path d="M406.9 411.3 L407.4 411.9 L407.4 440.4 L407.9 441.7 L409.4 442.3 L404.4 442.3 L405.9 441.7 L406.5 440.4 L406.5 411.9 L406.9 411.3Z" fill="#a5bd68" stroke="#a5bd68" stroke-width="0.4"/>
<path d="M423.1 416.6 L424.3 418.1 L426.1 420.0 L428.1 424.9 L430.1 428.0 L430.1 434.9 L428.6 437.0 L429.1 439.8 L430.1 442.3 L416.1 442.3 L417.1 439.8 L417.6 437.0 L416.1 434.9 L416.1 428.0 L418.1 424.9 L420.1 420.0 L421.9 418.1 L423.1 416.6Z" fill="#c7cb86" stroke="#c7cb86" stroke-width="0.4"/>
<path d="M439.2 418.1 L439.8 421.8 L440.1 424.9 L441.2 428.7 L442.8 433.0 L442.6 435.5 L441.2 437.0 L440.8 439.2 L442.8 441.1 L445.8 442.3 L432.8 442.3 L435.8 441.1 L437.8 439.2 L437.2 437.0 L435.9 435.5 L435.8 433.0 L437.2 428.7 L438.4 424.9 L438.8 421.8 L439.2 418.1Z" fill="#3f5a7a" stroke="#3f5a7a" stroke-width="0.4"/>
<path d="M455.4 425.6 L455.9 425.9 L455.9 441.1 L457.4 441.8 L461.4 442.3 L449.4 442.3 L453.4 441.8 L455.0 441.1 L455.0 425.9 L455.4 425.6Z" fill="#c2602f" stroke="#c2602f" stroke-width="0.4"/>
<path d="M471.6 413.2 L472.1 418.7 L472.6 424.9 L475.1 428.7 L477.4 432.4 L478.6 434.9 L477.9 437.3 L476.6 439.8 L476.1 441.4 L477.1 442.3 L466.1 442.3 L467.1 441.4 L466.6 439.8 L465.3 437.3 L464.6 434.9 L465.8 432.4 L468.1 428.7 L470.6 424.9 L471.1 418.7 L471.6 413.2Z" fill="#78a6ca" stroke="#78a6ca" stroke-width="0.4"/>
<path d="M487.8 417.5 L488.3 421.2 L488.8 425.6 L489.8 428.7 L491.3 431.8 L492.3 436.1 L490.3 439.2 L491.3 440.8 L493.8 442.3 L481.8 442.3 L484.3 440.8 L485.3 439.2 L483.3 436.1 L484.3 431.8 L485.8 428.7 L486.8 425.6 L487.3 421.2 L487.8 417.5Z" fill="#6a5ab0" stroke="#6a5ab0" stroke-width="0.4"/>
<text x="358.40" y="456.90" font-size="8.0" fill="#141414" text-anchor="middle" stroke="#141414" stroke-width="0.18" >0</text>
<path d="M358.4 444.0v2.8" stroke="#2a2a2a" stroke-width="0.9"/>
<text x="374.57" y="456.90" font-size="8.0" fill="#141414" text-anchor="middle" stroke="#141414" stroke-width="0.18" >1</text>
<path d="M374.6 444.0v2.8" stroke="#2a2a2a" stroke-width="0.9"/>
<text x="390.74" y="456.90" font-size="8.0" fill="#141414" text-anchor="middle" stroke="#141414" stroke-width="0.18" >2</text>
<path d="M390.7 444.0v2.8" stroke="#2a2a2a" stroke-width="0.9"/>
<text x="406.91" y="456.90" font-size="8.0" fill="#141414" text-anchor="middle" stroke="#141414" stroke-width="0.18" >3</text>
<path d="M406.9 444.0v2.8" stroke="#2a2a2a" stroke-width="0.9"/>
<text x="423.08" y="456.90" font-size="8.0" fill="#141414" text-anchor="middle" stroke="#141414" stroke-width="0.18" >4</text>
<path d="M423.1 444.0v2.8" stroke="#2a2a2a" stroke-width="0.9"/>
<text x="439.25" y="456.90" font-size="8.0" fill="#141414" text-anchor="middle" stroke="#141414" stroke-width="0.18" >5</text>
<path d="M439.2 444.0v2.8" stroke="#2a2a2a" stroke-width="0.9"/>
<text x="455.42" y="456.90" font-size="8.0" fill="#141414" text-anchor="middle" stroke="#141414" stroke-width="0.18" >6</text>
<path d="M455.4 444.0v2.8" stroke="#2a2a2a" stroke-width="0.9"/>
<text x="471.59" y="456.90" font-size="8.0" fill="#141414" text-anchor="middle" stroke="#141414" stroke-width="0.18" >7</text>
<path d="M471.6 444.0v2.8" stroke="#2a2a2a" stroke-width="0.9"/>
<text x="487.76" y="456.90" font-size="8.0" fill="#141414" text-anchor="middle" stroke="#141414" stroke-width="0.18" >8</text>
<path d="M487.8 444.0v2.8" stroke="#2a2a2a" stroke-width="0.9"/>
<text x="391.20" y="471.70" font-size="9.0" fill="#141414" text-anchor="start" stroke="#141414" stroke-width="0.18" textLength="64.1" lengthAdjust="spacingAndGlyphs" >BCL2L1/BCLxL</text>
<path d="M349 475.3V500.7H497" fill="none" stroke="#2a2a2a" stroke-width="1.7"/>
<path d="M347 478.2H349" stroke="#2a2a2a" stroke-width="1"/>
<path d="M346 485.7H349" stroke="#2a2a2a" stroke-width="1"/>
<path d="M347 493.2H349" stroke="#2a2a2a" stroke-width="1"/>
<path d="M346 500.7H349" stroke="#2a2a2a" stroke-width="1"/>
<text x="341.60" y="488.30" font-size="7.3" fill="#141414" text-anchor="end" stroke="#141414" stroke-width="0.18" >2</text>
<text x="341.60" y="503.30" font-size="7.3" fill="#141414" text-anchor="end" stroke="#141414" stroke-width="0.18" >0</text>
<path d="M358.4 485.5V500.7" stroke="#3d50b4" stroke-width="1"/>
<path d="M350.4 499.7H366.4" stroke="#3d50b4" stroke-width="1" stroke-opacity="0.7"/>
<path d="M374.6 490.8V500.7" stroke="#c93052" stroke-width="1"/>
<path d="M366.6 499.7H382.6" stroke="#c93052" stroke-width="1" stroke-opacity="0.7"/>
<path d="M390.7 488.5V500.7" stroke="#8c6a32" stroke-width="1"/>
<path d="M382.7 499.7H398.7" stroke="#8c6a32" stroke-width="1" stroke-opacity="0.7"/>
<path d="M406.9 478V500.7" stroke="#a5bd68" stroke-width="1"/>
<path d="M398.9 499.7H414.9" stroke="#a5bd68" stroke-width="1" stroke-opacity="0.7"/>
<path d="M423.1 487.3V500.7" stroke="#c7cb86" stroke-width="1"/>
<path d="M415.1 499.7H431.1" stroke="#c7cb86" stroke-width="1" stroke-opacity="0.7"/>
<path d="M439.2 489V500.7" stroke="#3f5a7a" stroke-width="1"/>
<path d="M431.2 499.7H447.2" stroke="#3f5a7a" stroke-width="1" stroke-opacity="0.7"/>
<path d="M455.4 475.8V500.7" stroke="#c2602f" stroke-width="1"/>
<path d="M447.4 499.7H463.4" stroke="#c2602f" stroke-width="1" stroke-opacity="0.7"/>
<path d="M471.6 491.5V500.7" stroke="#78a6ca" stroke-width="1"/>
<path d="M463.6 499.7H479.6" stroke="#78a6ca" stroke-width="1" stroke-opacity="0.7"/>
<path d="M487.8 490.8V500.7" stroke="#6a5ab0" stroke-width="1"/>
<path d="M479.8 499.7H495.8" stroke="#6a5ab0" stroke-width="1" stroke-opacity="0.7"/>
<path d="M349 500.7H497" stroke="#2a2a2a" stroke-width="1.3"/>
<text x="358.40" y="514.10" font-size="8.0" fill="#141414" text-anchor="middle" stroke="#141414" stroke-width="0.18" >0</text>
<path d="M358.4 501.2v2.8" stroke="#2a2a2a" stroke-width="0.9"/>
<text x="374.57" y="514.10" font-size="8.0" fill="#141414" text-anchor="middle" stroke="#141414" stroke-width="0.18" >1</text>
<path d="M374.6 501.2v2.8" stroke="#2a2a2a" stroke-width="0.9"/>
<text x="390.74" y="514.10" font-size="8.0" fill="#141414" text-anchor="middle" stroke="#141414" stroke-width="0.18" >2</text>
<path d="M390.7 501.2v2.8" stroke="#2a2a2a" stroke-width="0.9"/>
<text x="406.91" y="514.10" font-size="8.0" fill="#141414" text-anchor="middle" stroke="#141414" stroke-width="0.18" >3</text>
<path d="M406.9 501.2v2.8" stroke="#2a2a2a" stroke-width="0.9"/>
<text x="423.08" y="514.10" font-size="8.0" fill="#141414" text-anchor="middle" stroke="#141414" stroke-width="0.18" >4</text>
<path d="M423.1 501.2v2.8" stroke="#2a2a2a" stroke-width="0.9"/>
<text x="439.25" y="514.10" font-size="8.0" fill="#141414" text-anchor="middle" stroke="#141414" stroke-width="0.18" >5</text>
<path d="M439.2 501.2v2.8" stroke="#2a2a2a" stroke-width="0.9"/>
<text x="455.42" y="514.10" font-size="8.0" fill="#141414" text-anchor="middle" stroke="#141414" stroke-width="0.18" >6</text>
<path d="M455.4 501.2v2.8" stroke="#2a2a2a" stroke-width="0.9"/>
<text x="471.59" y="514.10" font-size="8.0" fill="#141414" text-anchor="middle" stroke="#141414" stroke-width="0.18" >7</text>
<path d="M471.6 501.2v2.8" stroke="#2a2a2a" stroke-width="0.9"/>
<text x="487.76" y="514.10" font-size="8.0" fill="#141414" text-anchor="middle" stroke="#141414" stroke-width="0.18" >8</text>
<path d="M487.8 501.2v2.8" stroke="#2a2a2a" stroke-width="0.9"/>
<text x="409.20" y="526.80" font-size="8.6" fill="#1a1a1a" text-anchor="start" stroke="#1a1a1a" stroke-width="0.18" textLength="25.4" lengthAdjust="spacingAndGlyphs" >Identity</text>
</svg></body></html>
